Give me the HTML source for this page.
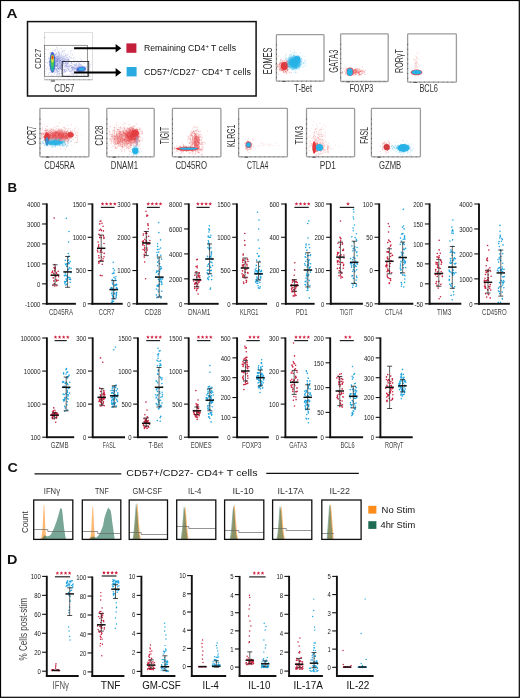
<!DOCTYPE html><html><head><meta charset="utf-8"><title>Figure</title><style>html,body{margin:0;padding:0;background:#fff;width:520px;height:698px;overflow:hidden;}svg{display:block;will-change:transform;font-family:"Liberation Sans",sans-serif;}</style></head><body><svg width="520" height="698" viewBox="0 0 520 698" font-family="Liberation Sans, sans-serif"><defs><filter id="b03" x="-50%" y="-50%" width="200%" height="200%"><feGaussianBlur stdDeviation="0.3"/></filter><filter id="b04" x="-50%" y="-50%" width="200%" height="200%"><feGaussianBlur stdDeviation="0.4"/></filter><filter id="b05" x="-50%" y="-50%" width="200%" height="200%"><feGaussianBlur stdDeviation="0.5"/></filter><filter id="b06" x="-50%" y="-50%" width="200%" height="200%"><feGaussianBlur stdDeviation="0.6"/></filter><filter id="b08" x="-50%" y="-50%" width="200%" height="200%"><feGaussianBlur stdDeviation="0.8"/></filter></defs><rect x="0.50" y="0.50" width="518.80" height="696.80" fill="none" stroke="#000" stroke-width="1.2" />
<text x="6.60" y="17.90" font-size="12.4" fill="#111" text-anchor="start" font-weight="bold" textLength="11.00" lengthAdjust="spacingAndGlyphs" >A</text>
<text x="7.50" y="191.70" font-size="12.0" fill="#111" text-anchor="start" font-weight="bold" textLength="9.60" lengthAdjust="spacingAndGlyphs" >B</text>
<text x="7.40" y="472.20" font-size="12.0" fill="#111" text-anchor="start" font-weight="bold" textLength="10.40" lengthAdjust="spacingAndGlyphs" >C</text>
<text x="7.00" y="563.60" font-size="12.8" fill="#111" text-anchor="start" font-weight="bold" textLength="10.40" lengthAdjust="spacingAndGlyphs" >D</text>
<path d="M54.6 270.5h0M54.5 275.5h0M56.0 279.3h0M55.2 267.3h0M54.4 275.2h0M51.1 275.2h0M52.9 285.4h0M56.5 281.2h0M55.3 268.9h0M56.6 273.5h0M58.2 280.3h0M56.4 272.6h0M51.8 272.8h0M53.8 280.7h0M55.8 276.4h0M53.2 277.9h0M58.6 276.7h0M58.2 271.3h0M57.8 274.7h0M54.9 271.1h0M56.9 285.7h0M52.5 271.0h0M53.9 267.8h0M54.9 285.9h0M56.7 280.6h0M55.0 268.6h0M52.5 271.9h0M54.2 283.6h0M53.8 273.4h0M53.8 280.9h0M54.2 218.0h0M54.6 264.5h0M54.8 286.0h0" stroke="#c8203f" stroke-width="1.60" stroke-linecap="round"/>
<path d="M65.3 260.3h0M70.2 282.3h0M64.6 281.6h0M68.8 277.3h0M64.4 275.8h0M66.7 281.2h0M67.0 266.1h0M65.6 281.6h0M67.8 270.1h0M67.8 260.5h0M66.3 278.9h0M69.2 263.5h0M65.1 275.0h0M65.5 264.1h0M66.7 284.2h0M66.8 280.6h0M65.3 272.9h0M70.2 261.6h0M69.9 277.7h0M65.1 282.6h0M66.7 266.5h0M65.8 264.7h0M67.2 276.1h0M66.1 279.3h0M67.6 277.8h0M70.9 272.5h0M66.8 263.9h0M68.5 259.9h0M68.2 263.7h0M69.4 267.8h0M64.9 283.6h0M69.3 279.3h0M70.6 279.4h0M68.2 256.8h0M66.0 275.3h0M68.7 262.5h0M69.0 263.2h0M68.8 269.1h0M65.0 275.6h0M71.1 268.6h0M71.0 268.3h0M67.1 276.5h0M68.1 257.5h0M66.3 218.3h0M69.0 231.5h0M68.6 242.0h0M68.3 253.5h0M69.0 256.0h0M65.8 285.0h0" stroke="#22a6e0" stroke-width="1.60" stroke-linecap="round"/>
<line x1="55.10" y1="264.80" x2="55.10" y2="284.80" stroke="#222" stroke-width="0.7" />
<line x1="52.60" y1="264.80" x2="57.60" y2="264.80" stroke="#222" stroke-width="0.8" />
<line x1="52.60" y1="284.80" x2="57.60" y2="284.80" stroke="#222" stroke-width="0.8" />
<line x1="50.85" y1="275.20" x2="59.35" y2="275.20" stroke="#111" stroke-width="1.5" />
<line x1="67.60" y1="256.50" x2="67.60" y2="287.30" stroke="#222" stroke-width="0.7" />
<line x1="65.10" y1="256.50" x2="70.10" y2="256.50" stroke="#222" stroke-width="0.8" />
<line x1="65.10" y1="287.30" x2="70.10" y2="287.30" stroke="#222" stroke-width="0.8" />
<line x1="63.35" y1="271.90" x2="71.85" y2="271.90" stroke="#111" stroke-width="1.5" />
<line x1="46.80" y1="203.40" x2="46.80" y2="304.70" stroke="#111" stroke-width="1.9" />
<line x1="45.90" y1="303.80" x2="75.90" y2="303.80" stroke="#111" stroke-width="1.9" />
<line x1="42.10" y1="204.00" x2="46.80" y2="204.00" stroke="#111" stroke-width="1.1" />
<text x="40.40" y="206.88" font-size="6.72" fill="#1a1a1a" text-anchor="end" textLength="13.34" lengthAdjust="spacingAndGlyphs" >4000</text>
<line x1="42.10" y1="223.96" x2="46.80" y2="223.96" stroke="#111" stroke-width="1.1" />
<text x="40.40" y="226.84" font-size="6.72" fill="#1a1a1a" text-anchor="end" textLength="13.34" lengthAdjust="spacingAndGlyphs" >3000</text>
<line x1="42.10" y1="243.92" x2="46.80" y2="243.92" stroke="#111" stroke-width="1.1" />
<text x="40.40" y="246.80" font-size="6.72" fill="#1a1a1a" text-anchor="end" textLength="13.34" lengthAdjust="spacingAndGlyphs" >2000</text>
<line x1="42.10" y1="263.88" x2="46.80" y2="263.88" stroke="#111" stroke-width="1.1" />
<text x="40.40" y="266.76" font-size="6.72" fill="#1a1a1a" text-anchor="end" textLength="13.34" lengthAdjust="spacingAndGlyphs" >1000</text>
<line x1="42.10" y1="283.84" x2="46.80" y2="283.84" stroke="#111" stroke-width="1.1" />
<text x="40.40" y="286.72" font-size="6.72" fill="#1a1a1a" text-anchor="end" textLength="3.34" lengthAdjust="spacingAndGlyphs" >0</text>
<line x1="42.10" y1="303.80" x2="46.80" y2="303.80" stroke="#111" stroke-width="1.1" />
<text x="40.40" y="306.68" font-size="6.72" fill="#1a1a1a" text-anchor="end" textLength="15.34" lengthAdjust="spacingAndGlyphs" >-1000</text>
<text x="48.90" y="315.40" font-size="8.4" fill="#444" text-anchor="start" textLength="24.20" lengthAdjust="spacingAndGlyphs" >CD45RA</text>
<path d="M100.2 235.7h0M98.9 234.2h0M99.7 237.6h0M104.0 237.6h0M100.5 250.8h0M98.6 247.1h0M100.1 260.8h0M103.5 235.9h0M98.6 246.6h0M102.8 260.9h0M98.8 255.7h0M103.4 230.9h0M101.4 257.0h0M98.1 242.0h0M104.2 253.4h0M100.2 252.3h0M102.3 264.3h0M101.4 249.8h0M99.8 223.9h0M99.4 230.3h0M99.0 257.9h0M98.7 244.9h0M98.9 263.3h0M97.9 251.9h0M103.9 238.4h0M99.0 262.5h0M101.2 237.7h0M100.1 221.3h0M100.4 275.4h0M102.0 223.2h0M104.0 256.7h0M101.0 260.6h0M97.4 250.2h0M103.1 226.2h0M98.7 261.6h0M100.7 229.3h0M101.4 230.6h0M104.0 243.5h0M103.1 258.7h0M102.0 252.2h0M100.9 221.0h0M102.1 275.8h0" stroke="#c8203f" stroke-width="1.60" stroke-linecap="round"/>
<path d="M113.2 297.0h0M115.1 284.8h0M112.1 292.2h0M117.0 288.4h0M113.8 272.3h0M112.5 301.2h0M113.2 289.8h0M116.1 296.3h0M115.3 278.9h0M113.6 301.3h0M112.7 284.2h0M112.7 288.6h0M115.9 276.8h0M110.8 288.1h0M116.6 287.5h0M116.4 287.9h0M111.8 293.6h0M112.5 290.1h0M114.1 298.5h0M115.8 285.3h0M116.2 280.5h0M117.6 289.4h0M112.3 295.3h0M112.2 300.9h0M113.6 297.0h0M113.9 273.5h0M114.8 293.0h0M112.0 302.9h0M114.8 290.2h0M116.5 284.9h0M116.7 292.4h0M116.7 285.0h0M116.4 295.4h0M117.4 289.5h0M111.7 302.3h0M116.5 294.1h0M112.3 283.0h0M112.5 295.1h0M113.5 298.1h0M116.7 284.4h0M114.4 285.7h0M113.3 268.6h0M113.0 297.8h0M116.3 284.3h0M114.6 270.3h0M112.4 273.5h0M111.8 287.6h0M112.9 296.5h0M111.5 288.8h0M114.1 293.9h0M112.3 279.6h0M114.0 277.4h0M116.2 297.7h0M116.1 294.1h0M110.5 289.3h0M112.3 301.3h0M113.2 280.9h0M114.7 285.8h0M113.1 298.9h0M111.7 289.7h0M113.3 262.3h0M112.4 303.0h0" stroke="#22a6e0" stroke-width="1.60" stroke-linecap="round"/>
<line x1="101.20" y1="235.00" x2="101.20" y2="261.30" stroke="#222" stroke-width="0.7" />
<line x1="98.70" y1="235.00" x2="103.70" y2="235.00" stroke="#222" stroke-width="0.8" />
<line x1="98.70" y1="261.30" x2="103.70" y2="261.30" stroke="#222" stroke-width="0.8" />
<line x1="96.95" y1="248.30" x2="105.45" y2="248.30" stroke="#111" stroke-width="1.5" />
<line x1="113.70" y1="280.60" x2="113.70" y2="298.80" stroke="#222" stroke-width="0.7" />
<line x1="111.20" y1="280.60" x2="116.20" y2="280.60" stroke="#222" stroke-width="0.8" />
<line x1="111.20" y1="298.80" x2="116.20" y2="298.80" stroke="#222" stroke-width="0.8" />
<line x1="109.45" y1="289.60" x2="117.95" y2="289.60" stroke="#111" stroke-width="1.5" />
<line x1="92.40" y1="203.40" x2="92.40" y2="304.70" stroke="#111" stroke-width="1.9" />
<line x1="91.50" y1="303.80" x2="122.70" y2="303.80" stroke="#111" stroke-width="1.9" />
<line x1="87.70" y1="204.00" x2="92.40" y2="204.00" stroke="#111" stroke-width="1.1" />
<text x="86.00" y="206.88" font-size="6.72" fill="#1a1a1a" text-anchor="end" textLength="13.34" lengthAdjust="spacingAndGlyphs" >1500</text>
<line x1="87.70" y1="237.27" x2="92.40" y2="237.27" stroke="#111" stroke-width="1.1" />
<text x="86.00" y="240.14" font-size="6.72" fill="#1a1a1a" text-anchor="end" textLength="13.34" lengthAdjust="spacingAndGlyphs" >1000</text>
<line x1="87.70" y1="270.53" x2="92.40" y2="270.53" stroke="#111" stroke-width="1.1" />
<text x="86.00" y="273.41" font-size="6.72" fill="#1a1a1a" text-anchor="end" textLength="10.01" lengthAdjust="spacingAndGlyphs" >500</text>
<line x1="87.70" y1="303.80" x2="92.40" y2="303.80" stroke="#111" stroke-width="1.1" />
<text x="86.00" y="306.68" font-size="6.72" fill="#1a1a1a" text-anchor="end" textLength="3.34" lengthAdjust="spacingAndGlyphs" >0</text>
<line x1="100.80" y1="207.40" x2="114.60" y2="207.40" stroke="#222" stroke-width="1.2" />
<polygon points="102.55,201.95 103.07,203.19 104.40,203.30 103.38,204.17 103.70,205.48 102.55,204.78 101.40,205.48 101.72,204.17 100.70,203.30 102.03,203.19" fill="#d0213f"/>
<polygon points="106.65,201.95 107.17,203.19 108.50,203.30 107.48,204.17 107.80,205.48 106.65,204.78 105.50,205.48 105.82,204.17 104.80,203.30 106.13,203.19" fill="#d0213f"/>
<polygon points="110.75,201.95 111.27,203.19 112.60,203.30 111.58,204.17 111.90,205.48 110.75,204.78 109.60,205.48 109.92,204.17 108.90,203.30 110.23,203.19" fill="#d0213f"/>
<polygon points="114.85,201.95 115.37,203.19 116.70,203.30 115.68,204.17 116.00,205.48 114.85,204.78 113.70,205.48 114.02,204.17 113.00,203.30 114.33,203.19" fill="#d0213f"/>
<text x="98.80" y="315.40" font-size="8.4" fill="#444" text-anchor="start" textLength="15.60" lengthAdjust="spacingAndGlyphs" >CCR7</text>
<path d="M147.0 248.1h0M145.2 252.3h0M143.3 234.1h0M149.9 240.5h0M147.6 215.4h0M146.6 242.0h0M147.2 243.9h0M146.8 215.3h0M149.6 243.9h0M146.1 240.6h0M146.8 233.5h0M144.5 250.6h0M144.9 255.1h0M146.5 237.1h0M144.3 245.8h0M143.3 235.1h0M145.5 233.5h0M148.2 244.0h0M144.8 249.3h0M148.7 236.2h0M146.9 216.3h0M147.3 250.1h0M147.9 223.8h0M143.0 244.5h0M143.7 242.8h0M148.4 228.7h0M148.1 225.4h0M144.2 257.1h0M148.5 242.8h0M143.1 249.5h0M144.2 254.2h0M143.2 242.4h0M144.8 239.3h0M145.7 231.6h0M148.0 224.7h0M145.8 242.2h0M143.5 240.9h0M144.7 247.9h0M142.5 241.5h0M142.7 244.9h0M145.9 252.5h0M146.4 232.3h0M145.6 278.7h0M146.0 211.3h0M144.7 262.0h0" stroke="#c8203f" stroke-width="1.60" stroke-linecap="round"/>
<path d="M156.9 271.4h0M160.8 255.2h0M155.8 276.9h0M158.8 252.1h0M159.7 263.7h0M157.8 258.3h0M162.0 283.1h0M160.6 269.0h0M157.4 254.8h0M156.7 271.0h0M156.8 297.8h0M159.6 295.3h0M157.0 285.9h0M159.5 284.2h0M161.4 268.4h0M160.5 239.9h0M157.4 249.6h0M158.1 290.0h0M158.6 284.9h0M158.5 291.7h0M158.6 273.9h0M159.0 249.2h0M161.2 278.8h0M158.1 258.8h0M158.1 270.9h0M158.4 274.5h0M157.7 246.4h0M160.2 278.2h0M158.9 232.6h0M162.4 279.1h0M161.0 296.7h0M157.5 262.2h0M157.5 265.8h0M161.3 282.1h0M159.6 281.6h0M156.4 294.9h0M160.2 279.8h0M158.5 286.5h0M161.3 281.2h0M160.9 266.7h0M161.8 291.2h0M160.5 266.7h0M161.6 259.1h0M157.7 286.3h0M158.3 297.2h0M156.3 289.0h0M161.8 284.5h0M157.4 255.6h0M159.6 271.9h0M159.3 263.7h0M160.6 248.0h0M158.3 279.3h0M156.5 272.4h0M158.5 261.3h0M157.0 252.5h0M157.8 285.4h0M160.1 269.8h0M157.5 243.7h0M163.1 277.5h0M159.5 280.3h0M158.6 222.5h0M161.0 298.0h0" stroke="#22a6e0" stroke-width="1.60" stroke-linecap="round"/>
<line x1="146.30" y1="231.50" x2="146.30" y2="255.60" stroke="#222" stroke-width="0.7" />
<line x1="143.80" y1="231.50" x2="148.80" y2="231.50" stroke="#222" stroke-width="0.8" />
<line x1="143.80" y1="255.60" x2="148.80" y2="255.60" stroke="#222" stroke-width="0.8" />
<line x1="142.05" y1="243.00" x2="150.55" y2="243.00" stroke="#111" stroke-width="1.5" />
<line x1="159.20" y1="257.00" x2="159.20" y2="297.00" stroke="#222" stroke-width="0.7" />
<line x1="156.70" y1="257.00" x2="161.70" y2="257.00" stroke="#222" stroke-width="0.8" />
<line x1="156.70" y1="297.00" x2="161.70" y2="297.00" stroke="#222" stroke-width="0.8" />
<line x1="154.95" y1="277.10" x2="163.45" y2="277.10" stroke="#111" stroke-width="1.5" />
<line x1="137.10" y1="203.40" x2="137.10" y2="304.70" stroke="#111" stroke-width="1.9" />
<line x1="136.20" y1="303.80" x2="167.50" y2="303.80" stroke="#111" stroke-width="1.9" />
<line x1="132.40" y1="204.00" x2="137.10" y2="204.00" stroke="#111" stroke-width="1.1" />
<text x="130.70" y="206.88" font-size="6.72" fill="#1a1a1a" text-anchor="end" textLength="13.34" lengthAdjust="spacingAndGlyphs" >3000</text>
<line x1="132.40" y1="237.27" x2="137.10" y2="237.27" stroke="#111" stroke-width="1.1" />
<text x="130.70" y="240.14" font-size="6.72" fill="#1a1a1a" text-anchor="end" textLength="13.34" lengthAdjust="spacingAndGlyphs" >2000</text>
<line x1="132.40" y1="270.53" x2="137.10" y2="270.53" stroke="#111" stroke-width="1.1" />
<text x="130.70" y="273.41" font-size="6.72" fill="#1a1a1a" text-anchor="end" textLength="13.34" lengthAdjust="spacingAndGlyphs" >1000</text>
<line x1="132.40" y1="303.80" x2="137.10" y2="303.80" stroke="#111" stroke-width="1.1" />
<text x="130.70" y="306.68" font-size="6.72" fill="#1a1a1a" text-anchor="end" textLength="3.34" lengthAdjust="spacingAndGlyphs" >0</text>
<line x1="146.90" y1="207.40" x2="159.80" y2="207.40" stroke="#222" stroke-width="1.2" />
<polygon points="148.20,201.95 148.72,203.19 150.05,203.30 149.03,204.17 149.35,205.48 148.20,204.78 147.05,205.48 147.37,204.17 146.35,203.30 147.68,203.19" fill="#d0213f"/>
<polygon points="152.30,201.95 152.82,203.19 154.15,203.30 153.13,204.17 153.45,205.48 152.30,204.78 151.15,205.48 151.47,204.17 150.45,203.30 151.78,203.19" fill="#d0213f"/>
<polygon points="156.40,201.95 156.92,203.19 158.25,203.30 157.23,204.17 157.55,205.48 156.40,204.78 155.25,205.48 155.57,204.17 154.55,203.30 155.88,203.19" fill="#d0213f"/>
<polygon points="160.50,201.95 161.02,203.19 162.35,203.30 161.33,204.17 161.65,205.48 160.50,204.78 159.35,205.48 159.67,204.17 158.65,203.30 159.98,203.19" fill="#d0213f"/>
<text x="144.60" y="315.40" font-size="8.4" fill="#444" text-anchor="start" textLength="16.50" lengthAdjust="spacingAndGlyphs" >CD28</text>
<path d="M198.4 276.7h0M199.1 273.8h0M196.8 277.1h0M199.7 281.0h0M195.6 282.6h0M195.1 275.1h0M195.8 272.1h0M198.0 288.2h0M199.7 277.6h0M196.8 271.7h0M198.2 275.2h0M194.6 283.8h0M196.9 288.9h0M196.7 259.7h0M196.6 290.6h0M194.9 284.5h0M197.7 284.1h0M197.9 286.3h0M197.9 280.9h0M198.8 280.6h0M196.7 286.4h0M199.3 276.0h0M197.2 267.7h0M199.8 280.6h0M196.3 283.3h0M198.2 275.1h0M194.9 275.3h0M193.8 281.0h0M199.8 275.8h0M195.9 280.3h0M194.7 288.5h0M197.3 266.0h0M199.3 272.7h0M198.8 282.6h0M200.7 280.3h0M199.8 275.7h0M196.6 283.1h0M195.1 283.4h0M194.5 286.8h0M196.1 266.5h0M197.3 259.4h0M198.1 294.0h0" stroke="#c8203f" stroke-width="1.60" stroke-linecap="round"/>
<path d="M207.4 270.4h0M208.3 274.8h0M210.6 270.8h0M207.7 278.7h0M209.4 237.3h0M208.3 240.7h0M209.9 256.5h0M207.9 278.7h0M211.5 253.2h0M212.5 265.6h0M208.7 242.0h0M208.7 270.1h0M210.1 273.5h0M211.3 254.8h0M207.1 272.8h0M210.9 256.4h0M210.9 235.3h0M211.4 270.4h0M209.3 276.7h0M212.0 262.8h0M210.0 257.3h0M208.3 236.1h0M207.9 258.4h0M210.3 261.8h0M210.0 257.6h0M212.0 259.4h0M210.9 247.9h0M207.9 247.5h0M209.0 270.1h0M211.5 251.9h0M209.3 249.8h0M207.5 256.2h0M211.6 279.6h0M209.4 230.2h0M208.2 264.5h0M209.7 266.2h0M208.9 232.0h0M208.2 248.0h0M210.7 267.4h0M210.5 288.1h0M209.1 245.8h0M208.0 277.9h0M209.5 229.8h0M208.9 263.8h0M209.3 243.7h0M208.2 243.6h0M211.7 258.2h0M207.6 266.2h0M205.9 259.3h0M210.5 237.2h0M211.4 262.2h0M208.2 273.7h0M208.2 237.0h0M210.2 256.8h0M211.8 275.9h0M208.5 279.6h0M209.9 258.3h0M208.9 228.9h0M211.3 252.7h0M209.4 248.2h0M209.3 225.8h0M210.1 289.2h0" stroke="#22a6e0" stroke-width="1.60" stroke-linecap="round"/>
<line x1="196.90" y1="272.90" x2="196.90" y2="286.90" stroke="#222" stroke-width="0.7" />
<line x1="194.40" y1="272.90" x2="199.40" y2="272.90" stroke="#222" stroke-width="0.8" />
<line x1="194.40" y1="286.90" x2="199.40" y2="286.90" stroke="#222" stroke-width="0.8" />
<line x1="192.65" y1="279.60" x2="201.15" y2="279.60" stroke="#111" stroke-width="1.5" />
<line x1="209.60" y1="244.00" x2="209.60" y2="273.80" stroke="#222" stroke-width="0.7" />
<line x1="207.10" y1="244.00" x2="212.10" y2="244.00" stroke="#222" stroke-width="0.8" />
<line x1="207.10" y1="273.80" x2="212.10" y2="273.80" stroke="#222" stroke-width="0.8" />
<line x1="205.35" y1="259.00" x2="213.85" y2="259.00" stroke="#111" stroke-width="1.5" />
<line x1="188.80" y1="203.40" x2="188.80" y2="304.70" stroke="#111" stroke-width="1.9" />
<line x1="187.90" y1="303.80" x2="218.70" y2="303.80" stroke="#111" stroke-width="1.9" />
<line x1="184.10" y1="204.00" x2="188.80" y2="204.00" stroke="#111" stroke-width="1.1" />
<text x="182.40" y="206.88" font-size="6.72" fill="#1a1a1a" text-anchor="end" textLength="13.34" lengthAdjust="spacingAndGlyphs" >8000</text>
<line x1="184.10" y1="228.95" x2="188.80" y2="228.95" stroke="#111" stroke-width="1.1" />
<text x="182.40" y="231.83" font-size="6.72" fill="#1a1a1a" text-anchor="end" textLength="13.34" lengthAdjust="spacingAndGlyphs" >6000</text>
<line x1="184.10" y1="253.90" x2="188.80" y2="253.90" stroke="#111" stroke-width="1.1" />
<text x="182.40" y="256.78" font-size="6.72" fill="#1a1a1a" text-anchor="end" textLength="13.34" lengthAdjust="spacingAndGlyphs" >4000</text>
<line x1="184.10" y1="278.85" x2="188.80" y2="278.85" stroke="#111" stroke-width="1.1" />
<text x="182.40" y="281.73" font-size="6.72" fill="#1a1a1a" text-anchor="end" textLength="13.34" lengthAdjust="spacingAndGlyphs" >2000</text>
<line x1="184.10" y1="303.80" x2="188.80" y2="303.80" stroke="#111" stroke-width="1.1" />
<text x="182.40" y="306.68" font-size="6.72" fill="#1a1a1a" text-anchor="end" textLength="3.34" lengthAdjust="spacingAndGlyphs" >0</text>
<line x1="196.50" y1="207.40" x2="209.60" y2="207.40" stroke="#222" stroke-width="1.2" />
<polygon points="197.90,201.95 198.42,203.19 199.75,203.30 198.73,204.17 199.05,205.48 197.90,204.78 196.75,205.48 197.07,204.17 196.05,203.30 197.38,203.19" fill="#d0213f"/>
<polygon points="202.00,201.95 202.52,203.19 203.85,203.30 202.83,204.17 203.15,205.48 202.00,204.78 200.85,205.48 201.17,204.17 200.15,203.30 201.48,203.19" fill="#d0213f"/>
<polygon points="206.10,201.95 206.62,203.19 207.95,203.30 206.93,204.17 207.25,205.48 206.10,204.78 204.95,205.48 205.27,204.17 204.25,203.30 205.58,203.19" fill="#d0213f"/>
<polygon points="210.20,201.95 210.72,203.19 212.05,203.30 211.03,204.17 211.35,205.48 210.20,204.78 209.05,205.48 209.37,204.17 208.35,203.30 209.68,203.19" fill="#d0213f"/>
<text x="188.00" y="315.40" font-size="8.4" fill="#444" text-anchor="start" textLength="22.30" lengthAdjust="spacingAndGlyphs" >DNAM1</text>
<path d="M244.4 276.1h0M243.3 254.0h0M245.0 269.5h0M248.0 273.3h0M243.2 267.0h0M247.3 268.6h0M243.5 282.0h0M247.2 259.1h0M245.1 272.0h0M242.8 276.9h0M247.1 266.0h0M247.7 272.5h0M242.9 276.4h0M242.7 260.5h0M243.2 265.7h0M245.1 278.1h0M247.6 259.4h0M246.7 281.1h0M243.7 264.6h0M242.0 273.7h0M245.6 263.0h0M245.5 272.2h0M243.4 274.8h0M245.7 261.8h0M248.0 261.4h0M242.2 267.4h0M243.9 260.2h0M247.0 277.4h0M242.9 275.5h0M242.3 265.1h0M242.6 270.9h0M246.2 282.5h0M242.9 259.2h0M243.1 255.1h0M246.0 269.5h0M246.9 264.4h0M246.2 280.4h0M244.8 245.1h0M247.8 273.1h0M242.7 262.3h0M244.8 233.5h0M244.6 240.5h0M245.1 245.0h0M243.8 283.5h0" stroke="#c8203f" stroke-width="1.60" stroke-linecap="round"/>
<path d="M257.9 281.4h0M255.4 273.8h0M259.0 256.5h0M260.6 271.6h0M257.6 278.5h0M255.7 282.3h0M259.0 255.8h0M259.6 261.3h0M260.2 286.7h0M260.1 271.8h0M259.2 269.9h0M257.7 283.3h0M257.0 280.9h0M256.7 260.1h0M261.0 274.1h0M258.9 269.9h0M257.1 278.3h0M256.1 268.3h0M257.0 277.9h0M259.2 248.2h0M256.3 274.3h0M255.9 281.4h0M257.7 278.6h0M257.3 272.3h0M259.7 266.5h0M258.9 270.4h0M258.4 287.9h0M262.3 274.1h0M260.8 278.1h0M256.1 279.8h0M256.7 270.9h0M258.1 285.8h0M257.3 253.6h0M259.9 282.4h0M260.4 277.2h0M257.0 277.1h0M261.5 271.2h0M258.7 256.6h0M257.0 283.3h0M259.5 274.4h0M259.6 279.6h0M260.2 274.8h0M262.2 273.5h0M261.4 270.2h0M257.8 272.1h0M258.0 271.0h0M254.9 272.0h0M257.9 272.3h0M256.2 270.9h0M256.3 265.4h0M260.8 276.8h0M255.2 269.7h0M257.5 212.3h0M259.0 220.0h0M258.7 229.0h0M258.3 240.0h0M259.7 288.3h0" stroke="#22a6e0" stroke-width="1.60" stroke-linecap="round"/>
<line x1="245.00" y1="258.00" x2="245.00" y2="277.70" stroke="#222" stroke-width="0.7" />
<line x1="242.50" y1="258.00" x2="247.50" y2="258.00" stroke="#222" stroke-width="0.8" />
<line x1="242.50" y1="277.70" x2="247.50" y2="277.70" stroke="#222" stroke-width="0.8" />
<line x1="240.75" y1="268.00" x2="249.25" y2="268.00" stroke="#111" stroke-width="1.5" />
<line x1="258.50" y1="262.00" x2="258.50" y2="280.00" stroke="#222" stroke-width="0.7" />
<line x1="256.00" y1="262.00" x2="261.00" y2="262.00" stroke="#222" stroke-width="0.8" />
<line x1="256.00" y1="280.00" x2="261.00" y2="280.00" stroke="#222" stroke-width="0.8" />
<line x1="254.25" y1="273.80" x2="262.75" y2="273.80" stroke="#111" stroke-width="1.5" />
<line x1="236.90" y1="203.40" x2="236.90" y2="304.70" stroke="#111" stroke-width="1.9" />
<line x1="236.00" y1="303.80" x2="267.10" y2="303.80" stroke="#111" stroke-width="1.9" />
<line x1="232.20" y1="204.00" x2="236.90" y2="204.00" stroke="#111" stroke-width="1.1" />
<text x="230.50" y="206.88" font-size="6.72" fill="#1a1a1a" text-anchor="end" textLength="13.34" lengthAdjust="spacingAndGlyphs" >1500</text>
<line x1="232.20" y1="237.27" x2="236.90" y2="237.27" stroke="#111" stroke-width="1.1" />
<text x="230.50" y="240.14" font-size="6.72" fill="#1a1a1a" text-anchor="end" textLength="13.34" lengthAdjust="spacingAndGlyphs" >1000</text>
<line x1="232.20" y1="270.53" x2="236.90" y2="270.53" stroke="#111" stroke-width="1.1" />
<text x="230.50" y="273.41" font-size="6.72" fill="#1a1a1a" text-anchor="end" textLength="10.01" lengthAdjust="spacingAndGlyphs" >500</text>
<line x1="232.20" y1="303.80" x2="236.90" y2="303.80" stroke="#111" stroke-width="1.1" />
<text x="230.50" y="306.68" font-size="6.72" fill="#1a1a1a" text-anchor="end" textLength="3.34" lengthAdjust="spacingAndGlyphs" >0</text>
<text x="240.00" y="315.40" font-size="8.4" fill="#444" text-anchor="start" textLength="18.50" lengthAdjust="spacingAndGlyphs" >KLRG1</text>
<path d="M296.0 281.2h0M295.5 281.6h0M294.7 279.7h0M297.2 285.6h0M292.5 287.8h0M295.6 286.5h0M296.6 286.5h0M296.5 286.3h0M291.6 284.6h0M293.3 281.1h0M296.0 295.4h0M295.9 291.5h0M292.4 280.1h0M294.3 280.1h0M296.4 282.0h0M297.2 285.6h0M294.5 292.7h0M292.2 291.3h0M292.9 291.6h0M291.9 291.7h0M292.7 291.8h0M291.7 289.7h0M295.8 288.0h0M295.9 284.7h0M294.2 275.3h0M297.3 284.7h0M293.2 295.9h0M292.4 282.3h0M295.1 281.8h0M294.6 291.3h0M291.5 285.9h0M297.2 282.6h0M294.9 294.4h0M295.1 289.0h0M293.6 289.8h0M295.1 282.1h0M291.5 288.3h0M293.0 287.6h0M294.8 262.7h0M294.7 270.0h0M294.5 296.0h0" stroke="#c8203f" stroke-width="1.60" stroke-linecap="round"/>
<path d="M309.2 267.5h0M304.6 263.8h0M308.2 261.9h0M307.2 279.0h0M305.8 257.3h0M310.3 255.5h0M306.9 273.5h0M306.4 275.6h0M309.2 259.9h0M309.6 247.7h0M306.0 278.0h0M305.7 285.1h0M310.6 254.9h0M307.5 255.7h0M308.2 275.2h0M307.7 288.5h0M310.4 272.1h0M307.4 259.5h0M309.0 244.6h0M308.0 285.0h0M305.5 254.1h0M307.9 290.3h0M309.9 285.7h0M308.1 264.6h0M307.1 267.0h0M305.1 284.6h0M309.2 280.4h0M307.2 282.9h0M307.0 250.0h0M306.9 274.8h0M307.3 271.7h0M307.1 290.5h0M306.8 250.3h0M307.6 276.4h0M305.8 247.4h0M306.1 281.1h0M307.4 265.2h0M310.6 263.7h0M307.5 287.1h0M308.3 265.4h0M311.0 270.3h0M310.2 267.1h0M309.5 268.2h0M308.7 263.2h0M308.5 255.5h0M305.8 261.3h0M305.2 265.3h0M305.1 281.7h0M306.1 245.1h0M308.7 274.9h0M308.6 260.4h0M305.1 256.8h0M308.8 221.0h0M307.7 223.5h0M308.0 238.0h0M306.1 244.0h0M309.3 297.9h0" stroke="#22a6e0" stroke-width="1.60" stroke-linecap="round"/>
<line x1="294.40" y1="279.60" x2="294.40" y2="291.20" stroke="#222" stroke-width="0.7" />
<line x1="291.90" y1="279.60" x2="296.90" y2="279.60" stroke="#222" stroke-width="0.8" />
<line x1="291.90" y1="291.20" x2="296.90" y2="291.20" stroke="#222" stroke-width="0.8" />
<line x1="290.15" y1="285.40" x2="298.65" y2="285.40" stroke="#111" stroke-width="1.5" />
<line x1="307.90" y1="252.70" x2="307.90" y2="287.00" stroke="#222" stroke-width="0.7" />
<line x1="305.40" y1="252.70" x2="310.40" y2="252.70" stroke="#222" stroke-width="0.8" />
<line x1="305.40" y1="287.00" x2="310.40" y2="287.00" stroke="#222" stroke-width="0.8" />
<line x1="303.65" y1="270.00" x2="312.15" y2="270.00" stroke="#111" stroke-width="1.5" />
<line x1="285.80" y1="203.40" x2="285.80" y2="304.70" stroke="#111" stroke-width="1.9" />
<line x1="284.90" y1="303.80" x2="314.60" y2="303.80" stroke="#111" stroke-width="1.9" />
<line x1="281.10" y1="204.00" x2="285.80" y2="204.00" stroke="#111" stroke-width="1.1" />
<text x="279.40" y="206.88" font-size="6.72" fill="#1a1a1a" text-anchor="end" textLength="10.01" lengthAdjust="spacingAndGlyphs" >600</text>
<line x1="281.10" y1="237.27" x2="285.80" y2="237.27" stroke="#111" stroke-width="1.1" />
<text x="279.40" y="240.14" font-size="6.72" fill="#1a1a1a" text-anchor="end" textLength="10.01" lengthAdjust="spacingAndGlyphs" >400</text>
<line x1="281.10" y1="270.53" x2="285.80" y2="270.53" stroke="#111" stroke-width="1.1" />
<text x="279.40" y="273.41" font-size="6.72" fill="#1a1a1a" text-anchor="end" textLength="10.01" lengthAdjust="spacingAndGlyphs" >200</text>
<line x1="281.10" y1="303.80" x2="285.80" y2="303.80" stroke="#111" stroke-width="1.1" />
<text x="279.40" y="306.68" font-size="6.72" fill="#1a1a1a" text-anchor="end" textLength="3.34" lengthAdjust="spacingAndGlyphs" >0</text>
<line x1="294.40" y1="207.40" x2="308.80" y2="207.40" stroke="#222" stroke-width="1.2" />
<polygon points="296.45,201.95 296.97,203.19 298.30,203.30 297.28,204.17 297.60,205.48 296.45,204.78 295.30,205.48 295.62,204.17 294.60,203.30 295.93,203.19" fill="#d0213f"/>
<polygon points="300.55,201.95 301.07,203.19 302.40,203.30 301.38,204.17 301.70,205.48 300.55,204.78 299.40,205.48 299.72,204.17 298.70,203.30 300.03,203.19" fill="#d0213f"/>
<polygon points="304.65,201.95 305.17,203.19 306.50,203.30 305.48,204.17 305.80,205.48 304.65,204.78 303.50,205.48 303.82,204.17 302.80,203.30 304.13,203.19" fill="#d0213f"/>
<polygon points="308.75,201.95 309.27,203.19 310.60,203.30 309.58,204.17 309.90,205.48 308.75,204.78 307.60,205.48 307.92,204.17 306.90,203.30 308.23,203.19" fill="#d0213f"/>
<text x="295.70" y="315.40" font-size="8.4" fill="#444" text-anchor="start" textLength="12.00" lengthAdjust="spacingAndGlyphs" >PD1</text>
<path d="M342.3 243.0h0M337.7 253.7h0M343.2 268.3h0M344.0 258.0h0M339.0 257.9h0M343.9 255.0h0M342.5 277.2h0M337.6 252.6h0M341.7 273.0h0M343.5 265.6h0M342.7 262.6h0M337.9 264.2h0M339.7 258.8h0M340.7 240.3h0M339.6 268.1h0M339.7 268.1h0M337.3 254.9h0M337.4 268.4h0M339.3 270.9h0M340.0 237.4h0M341.0 254.9h0M343.5 250.3h0M338.0 243.2h0M339.3 262.1h0M342.6 244.1h0M342.7 250.4h0M337.5 260.9h0M341.7 262.5h0M337.4 262.1h0M343.4 249.3h0M338.6 261.0h0M340.9 238.5h0M340.2 264.5h0M340.5 274.9h0M339.0 275.8h0M339.5 247.3h0M338.8 252.8h0M341.0 276.5h0M339.8 255.7h0M340.9 271.9h0M340.6 242.1h0M341.3 272.9h0M343.7 264.2h0M340.6 244.8h0M340.5 221.0h0M340.9 278.0h0" stroke="#c8203f" stroke-width="1.60" stroke-linecap="round"/>
<path d="M351.5 267.2h0M353.1 228.1h0M353.4 278.4h0M351.8 236.7h0M355.7 266.1h0M353.9 267.2h0M353.2 248.6h0M356.5 276.0h0M356.7 240.7h0M353.9 266.3h0M352.9 250.7h0M355.0 258.4h0M353.5 264.7h0M356.3 239.3h0M352.6 259.8h0M351.9 246.0h0M350.4 262.9h0M351.7 265.7h0M351.0 264.1h0M357.4 264.1h0M355.4 250.8h0M354.8 271.8h0M356.6 284.7h0M355.0 249.2h0M355.8 261.1h0M351.5 263.6h0M353.1 285.1h0M354.9 246.9h0M356.8 263.8h0M353.3 230.7h0M353.9 241.9h0M352.5 262.6h0M352.8 275.6h0M354.6 282.5h0M357.2 255.7h0M356.4 233.7h0M354.7 270.7h0M350.6 258.6h0M352.6 271.3h0M355.4 265.7h0M356.8 277.4h0M351.9 276.1h0M356.1 280.1h0M356.8 252.6h0M351.9 283.4h0M356.9 251.7h0M354.9 264.1h0M356.7 269.8h0M355.1 237.6h0M355.2 283.5h0M356.1 286.4h0M356.2 266.5h0M353.5 269.6h0M353.3 257.4h0M357.1 247.5h0M353.5 209.4h0M353.9 212.0h0M353.2 217.0h0M353.7 219.0h0M354.5 225.0h0M352.7 287.3h0" stroke="#22a6e0" stroke-width="1.60" stroke-linecap="round"/>
<line x1="340.40" y1="242.10" x2="340.40" y2="272.90" stroke="#222" stroke-width="0.7" />
<line x1="337.90" y1="242.10" x2="342.90" y2="242.10" stroke="#222" stroke-width="0.8" />
<line x1="337.90" y1="272.90" x2="342.90" y2="272.90" stroke="#222" stroke-width="0.8" />
<line x1="336.15" y1="257.10" x2="344.65" y2="257.10" stroke="#111" stroke-width="1.5" />
<line x1="354.20" y1="241.20" x2="354.20" y2="283.50" stroke="#222" stroke-width="0.7" />
<line x1="351.70" y1="241.20" x2="356.70" y2="241.20" stroke="#222" stroke-width="0.8" />
<line x1="351.70" y1="283.50" x2="356.70" y2="283.50" stroke="#222" stroke-width="0.8" />
<line x1="349.95" y1="262.30" x2="358.45" y2="262.30" stroke="#111" stroke-width="1.5" />
<line x1="330.80" y1="203.40" x2="330.80" y2="304.70" stroke="#111" stroke-width="1.9" />
<line x1="329.90" y1="303.80" x2="362.90" y2="303.80" stroke="#111" stroke-width="1.9" />
<line x1="326.10" y1="204.00" x2="330.80" y2="204.00" stroke="#111" stroke-width="1.1" />
<text x="324.40" y="206.88" font-size="6.72" fill="#1a1a1a" text-anchor="end" textLength="10.01" lengthAdjust="spacingAndGlyphs" >300</text>
<line x1="326.10" y1="237.27" x2="330.80" y2="237.27" stroke="#111" stroke-width="1.1" />
<text x="324.40" y="240.14" font-size="6.72" fill="#1a1a1a" text-anchor="end" textLength="10.01" lengthAdjust="spacingAndGlyphs" >200</text>
<line x1="326.10" y1="270.53" x2="330.80" y2="270.53" stroke="#111" stroke-width="1.1" />
<text x="324.40" y="273.41" font-size="6.72" fill="#1a1a1a" text-anchor="end" textLength="10.01" lengthAdjust="spacingAndGlyphs" >100</text>
<line x1="326.10" y1="303.80" x2="330.80" y2="303.80" stroke="#111" stroke-width="1.1" />
<text x="324.40" y="306.68" font-size="6.72" fill="#1a1a1a" text-anchor="end" textLength="3.34" lengthAdjust="spacingAndGlyphs" >0</text>
<line x1="339.80" y1="207.40" x2="354.20" y2="207.40" stroke="#222" stroke-width="1.2" />
<polygon points="348.00,201.95 348.52,203.19 349.85,203.30 348.83,204.17 349.15,205.48 348.00,204.78 346.85,205.48 347.17,204.17 346.15,203.30 347.48,203.19" fill="#d0213f"/>
<text x="339.70" y="315.40" font-size="8.4" fill="#444" text-anchor="start" textLength="13.40" lengthAdjust="spacingAndGlyphs" >TIGIT</text>
<path d="M390.6 280.4h0M391.0 245.0h0M390.6 278.7h0M390.6 253.5h0M390.3 263.5h0M386.0 266.4h0M389.4 282.7h0M390.4 246.1h0M387.9 259.1h0M388.2 277.9h0M388.7 259.0h0M389.7 266.3h0M385.9 265.6h0M391.0 253.2h0M391.0 260.5h0M387.6 269.1h0M387.8 270.4h0M387.1 265.6h0M388.9 270.6h0M392.5 255.4h0M389.0 240.7h0M391.8 272.7h0M386.9 262.8h0M387.5 257.1h0M389.4 270.8h0M386.8 264.6h0M387.0 251.9h0M390.6 256.5h0M388.4 252.4h0M390.2 241.7h0M387.7 269.2h0M388.2 251.6h0M392.1 255.3h0M389.8 278.5h0M386.8 267.0h0M389.0 247.9h0M387.7 242.6h0M387.3 276.7h0M389.8 272.0h0M387.1 271.6h0M387.3 257.9h0M387.2 275.1h0M388.3 223.8h0M389.3 226.5h0M388.5 232.0h0M388.7 240.0h0M389.2 283.5h0" stroke="#c8203f" stroke-width="1.60" stroke-linecap="round"/>
<path d="M404.5 236.5h0M401.3 252.3h0M403.2 253.1h0M405.7 248.2h0M401.0 269.5h0M400.5 268.0h0M405.6 267.5h0M405.4 262.5h0M400.5 238.1h0M403.3 259.4h0M403.5 243.2h0M404.2 249.5h0M403.4 267.8h0M403.0 233.6h0M403.2 239.3h0M403.5 249.2h0M400.2 268.3h0M400.5 265.9h0M401.1 261.9h0M404.1 228.9h0M402.5 274.9h0M403.3 243.2h0M404.6 282.4h0M401.4 286.2h0M400.9 270.2h0M401.5 272.7h0M404.7 238.1h0M404.3 260.9h0M400.7 272.9h0M400.2 244.3h0M400.1 256.5h0M404.8 239.2h0M402.1 253.8h0M405.6 257.7h0M405.3 261.4h0M404.8 279.0h0M403.0 264.9h0M401.0 261.3h0M402.8 258.1h0M405.3 248.6h0M405.0 275.8h0M402.4 227.3h0M402.6 244.0h0M404.8 263.8h0M401.9 255.0h0M401.6 234.1h0M401.5 241.0h0M402.5 255.3h0M401.7 284.3h0M404.1 275.0h0M403.9 262.5h0M404.6 235.7h0M404.2 244.5h0M402.5 233.9h0M400.5 264.1h0M401.1 269.7h0M404.5 237.5h0M403.7 259.2h0M401.2 282.6h0M402.7 260.1h0M403.4 209.4h0M403.6 226.0h0M403.8 287.0h0" stroke="#22a6e0" stroke-width="1.60" stroke-linecap="round"/>
<line x1="389.40" y1="248.80" x2="389.40" y2="273.80" stroke="#222" stroke-width="0.7" />
<line x1="386.90" y1="248.80" x2="391.90" y2="248.80" stroke="#222" stroke-width="0.8" />
<line x1="386.90" y1="273.80" x2="391.90" y2="273.80" stroke="#222" stroke-width="0.8" />
<line x1="385.15" y1="261.30" x2="393.65" y2="261.30" stroke="#111" stroke-width="1.5" />
<line x1="402.70" y1="242.10" x2="402.70" y2="272.90" stroke="#222" stroke-width="0.7" />
<line x1="400.20" y1="242.10" x2="405.20" y2="242.10" stroke="#222" stroke-width="0.8" />
<line x1="400.20" y1="272.90" x2="405.20" y2="272.90" stroke="#222" stroke-width="0.8" />
<line x1="398.45" y1="257.50" x2="406.95" y2="257.50" stroke="#111" stroke-width="1.5" />
<line x1="379.20" y1="203.40" x2="379.20" y2="304.70" stroke="#111" stroke-width="1.9" />
<line x1="378.30" y1="303.80" x2="413.30" y2="303.80" stroke="#111" stroke-width="1.9" />
<line x1="374.50" y1="204.00" x2="379.20" y2="204.00" stroke="#111" stroke-width="1.1" />
<text x="372.80" y="206.88" font-size="6.72" fill="#1a1a1a" text-anchor="end" textLength="10.01" lengthAdjust="spacingAndGlyphs" >100</text>
<line x1="374.50" y1="237.27" x2="379.20" y2="237.27" stroke="#111" stroke-width="1.1" />
<text x="372.80" y="240.14" font-size="6.72" fill="#1a1a1a" text-anchor="end" textLength="6.67" lengthAdjust="spacingAndGlyphs" >50</text>
<line x1="374.50" y1="270.53" x2="379.20" y2="270.53" stroke="#111" stroke-width="1.1" />
<text x="372.80" y="273.41" font-size="6.72" fill="#1a1a1a" text-anchor="end" textLength="3.34" lengthAdjust="spacingAndGlyphs" >0</text>
<line x1="374.50" y1="303.80" x2="379.20" y2="303.80" stroke="#111" stroke-width="1.1" />
<text x="372.80" y="306.68" font-size="6.72" fill="#1a1a1a" text-anchor="end" textLength="8.67" lengthAdjust="spacingAndGlyphs" >-50</text>
<text x="384.90" y="315.40" font-size="8.4" fill="#444" text-anchor="start" textLength="17.40" lengthAdjust="spacingAndGlyphs" >CTLA4</text>
<path d="M437.7 273.0h0M437.0 285.4h0M437.6 266.1h0M437.2 276.4h0M442.4 276.1h0M441.2 264.2h0M437.5 262.8h0M440.7 260.4h0M436.0 283.4h0M439.1 257.6h0M440.3 253.2h0M437.0 264.0h0M436.6 281.6h0M441.1 271.7h0M440.0 274.4h0M442.3 276.6h0M437.3 253.5h0M437.1 257.0h0M436.0 264.0h0M437.4 274.3h0M436.1 262.4h0M439.2 249.9h0M435.6 274.6h0M438.6 258.1h0M438.9 267.8h0M435.7 271.0h0M440.2 268.5h0M441.7 262.6h0M438.2 288.1h0M438.9 281.4h0M438.0 265.1h0M442.6 273.2h0M440.9 284.4h0M442.3 276.4h0M437.9 271.5h0M437.5 267.6h0M435.0 274.1h0M435.7 269.6h0M440.5 296.8h0M439.2 255.7h0M438.5 257.4h0M437.1 256.7h0M441.3 261.2h0M436.1 262.3h0M439.2 240.2h0M439.1 298.8h0" stroke="#c8203f" stroke-width="1.60" stroke-linecap="round"/>
<path d="M451.2 286.2h0M450.6 285.2h0M449.3 279.4h0M451.1 295.4h0M450.5 260.9h0M454.0 258.6h0M452.4 252.8h0M454.3 273.9h0M450.7 272.0h0M450.3 258.8h0M452.9 270.1h0M450.9 250.0h0M453.6 291.7h0M451.8 233.0h0M450.6 263.3h0M454.2 263.7h0M449.8 267.1h0M453.9 272.8h0M451.9 227.1h0M449.1 270.1h0M453.3 270.1h0M453.1 260.6h0M449.5 276.3h0M452.0 262.6h0M452.1 255.3h0M453.1 231.0h0M450.4 252.2h0M452.6 239.9h0M455.9 272.6h0M449.2 280.5h0M453.9 273.2h0M451.2 263.2h0M452.2 267.4h0M450.8 258.5h0M452.0 273.0h0M452.3 273.9h0M454.7 286.7h0M454.7 252.9h0M455.6 263.8h0M455.8 263.4h0M451.7 283.6h0M453.6 294.7h0M455.3 264.0h0M449.4 271.4h0M453.2 233.4h0M452.6 229.9h0M450.0 262.9h0M453.0 246.4h0M453.6 260.1h0M453.3 252.3h0M449.9 241.0h0M455.3 258.7h0M451.4 251.5h0M454.4 257.8h0M449.5 267.2h0M453.1 272.5h0M449.7 284.2h0M452.7 275.3h0M453.1 287.9h0M451.9 231.0h0M452.9 220.0h0M452.2 299.8h0" stroke="#22a6e0" stroke-width="1.60" stroke-linecap="round"/>
<line x1="438.80" y1="259.40" x2="438.80" y2="286.30" stroke="#222" stroke-width="0.7" />
<line x1="436.30" y1="259.40" x2="441.30" y2="259.40" stroke="#222" stroke-width="0.8" />
<line x1="436.30" y1="286.30" x2="441.30" y2="286.30" stroke="#222" stroke-width="0.8" />
<line x1="434.55" y1="273.50" x2="443.05" y2="273.50" stroke="#111" stroke-width="1.5" />
<line x1="452.30" y1="246.50" x2="452.30" y2="288.30" stroke="#222" stroke-width="0.7" />
<line x1="449.80" y1="246.50" x2="454.80" y2="246.50" stroke="#222" stroke-width="0.8" />
<line x1="449.80" y1="288.30" x2="454.80" y2="288.30" stroke="#222" stroke-width="0.8" />
<line x1="448.05" y1="267.10" x2="456.55" y2="267.10" stroke="#111" stroke-width="1.5" />
<line x1="429.60" y1="203.40" x2="429.60" y2="304.70" stroke="#111" stroke-width="1.9" />
<line x1="428.70" y1="303.80" x2="461.30" y2="303.80" stroke="#111" stroke-width="1.9" />
<line x1="424.90" y1="204.00" x2="429.60" y2="204.00" stroke="#111" stroke-width="1.1" />
<text x="423.20" y="206.88" font-size="6.72" fill="#1a1a1a" text-anchor="end" textLength="10.01" lengthAdjust="spacingAndGlyphs" >200</text>
<line x1="424.90" y1="223.96" x2="429.60" y2="223.96" stroke="#111" stroke-width="1.1" />
<text x="423.20" y="226.84" font-size="6.72" fill="#1a1a1a" text-anchor="end" textLength="10.01" lengthAdjust="spacingAndGlyphs" >150</text>
<line x1="424.90" y1="243.92" x2="429.60" y2="243.92" stroke="#111" stroke-width="1.1" />
<text x="423.20" y="246.80" font-size="6.72" fill="#1a1a1a" text-anchor="end" textLength="10.01" lengthAdjust="spacingAndGlyphs" >100</text>
<line x1="424.90" y1="263.88" x2="429.60" y2="263.88" stroke="#111" stroke-width="1.1" />
<text x="423.20" y="266.76" font-size="6.72" fill="#1a1a1a" text-anchor="end" textLength="6.67" lengthAdjust="spacingAndGlyphs" >50</text>
<line x1="424.90" y1="283.84" x2="429.60" y2="283.84" stroke="#111" stroke-width="1.1" />
<text x="423.20" y="286.72" font-size="6.72" fill="#1a1a1a" text-anchor="end" textLength="3.34" lengthAdjust="spacingAndGlyphs" >0</text>
<line x1="424.90" y1="303.80" x2="429.60" y2="303.80" stroke="#111" stroke-width="1.1" />
<text x="423.20" y="306.68" font-size="6.72" fill="#1a1a1a" text-anchor="end" textLength="8.67" lengthAdjust="spacingAndGlyphs" >-50</text>
<text x="436.90" y="315.40" font-size="8.4" fill="#444" text-anchor="start" textLength="14.20" lengthAdjust="spacingAndGlyphs" >TIM3</text>
<path d="M488.5 280.6h0M488.0 277.6h0M487.4 279.9h0M489.7 288.3h0M485.1 288.1h0M488.7 294.8h0M485.6 293.7h0M486.7 297.1h0M484.7 286.2h0M488.1 279.2h0M490.8 290.1h0M485.8 280.8h0M485.3 286.9h0M488.2 274.8h0M484.4 280.4h0M487.2 271.6h0M487.7 289.9h0M485.0 278.2h0M489.9 267.7h0M487.1 280.2h0M488.5 271.2h0M485.0 284.0h0M490.6 271.1h0M485.9 288.1h0M487.8 270.6h0M485.4 274.5h0M486.9 260.2h0M487.0 258.8h0M487.6 260.8h0M486.2 265.8h0M487.8 290.1h0M488.3 269.2h0M486.2 272.6h0M489.9 286.3h0M485.7 270.8h0M488.5 277.9h0M490.3 284.5h0M488.8 286.7h0M484.5 286.3h0M484.9 285.9h0M484.4 282.1h0M486.9 259.8h0M488.1 294.1h0M491.1 276.3h0M487.6 245.5h0M488.8 250.0h0M487.4 258.0h0M490.2 297.9h0" stroke="#c8203f" stroke-width="1.60" stroke-linecap="round"/>
<path d="M503.0 244.9h0M498.7 262.1h0M502.5 269.0h0M500.8 269.8h0M500.9 256.5h0M503.1 283.2h0M499.7 254.0h0M499.6 282.5h0M501.8 238.5h0M498.1 268.3h0M498.4 291.0h0M500.3 249.7h0M500.4 236.5h0M499.3 268.0h0M499.8 237.9h0M503.5 280.6h0M500.2 259.2h0M499.7 293.6h0M502.7 285.1h0M502.8 253.6h0M502.2 282.1h0M503.8 287.8h0M499.1 241.6h0M500.5 302.3h0M502.4 299.1h0M504.4 276.5h0M498.4 271.2h0M502.7 271.6h0M499.3 246.5h0M500.1 283.1h0M502.3 292.1h0M502.7 263.3h0M498.7 243.6h0M499.2 257.9h0M504.1 281.6h0M501.2 286.5h0M501.4 274.2h0M500.0 231.2h0M500.4 270.3h0M499.3 287.0h0M498.5 288.2h0M499.4 258.0h0M501.2 280.6h0M501.0 269.8h0M500.9 250.8h0M500.2 235.4h0M500.4 256.2h0M503.6 277.0h0M504.0 269.4h0M503.6 282.6h0M499.2 291.6h0M501.4 241.2h0M502.2 298.6h0M499.5 267.6h0M500.6 260.6h0M502.4 239.5h0M502.3 268.9h0M502.5 276.7h0M498.0 259.7h0M497.4 270.2h0M502.2 267.0h0M501.4 270.9h0M499.9 225.4h0M498.4 302.4h0" stroke="#22a6e0" stroke-width="1.60" stroke-linecap="round"/>
<line x1="488.00" y1="270.20" x2="488.00" y2="293.00" stroke="#222" stroke-width="0.7" />
<line x1="485.50" y1="270.20" x2="490.50" y2="270.20" stroke="#222" stroke-width="0.8" />
<line x1="485.50" y1="293.00" x2="490.50" y2="293.00" stroke="#222" stroke-width="0.8" />
<line x1="483.75" y1="282.30" x2="492.25" y2="282.30" stroke="#111" stroke-width="1.5" />
<line x1="500.80" y1="250.10" x2="500.80" y2="296.10" stroke="#222" stroke-width="0.7" />
<line x1="498.30" y1="250.10" x2="503.30" y2="250.10" stroke="#222" stroke-width="0.8" />
<line x1="498.30" y1="296.10" x2="503.30" y2="296.10" stroke="#222" stroke-width="0.8" />
<line x1="496.55" y1="272.90" x2="505.05" y2="272.90" stroke="#111" stroke-width="1.5" />
<line x1="479.00" y1="203.40" x2="479.00" y2="304.70" stroke="#111" stroke-width="1.9" />
<line x1="478.10" y1="303.80" x2="509.80" y2="303.80" stroke="#111" stroke-width="1.9" />
<line x1="474.30" y1="204.00" x2="479.00" y2="204.00" stroke="#111" stroke-width="1.1" />
<text x="472.60" y="206.88" font-size="6.72" fill="#1a1a1a" text-anchor="end" textLength="13.34" lengthAdjust="spacingAndGlyphs" >4000</text>
<line x1="474.30" y1="228.95" x2="479.00" y2="228.95" stroke="#111" stroke-width="1.1" />
<text x="472.60" y="231.83" font-size="6.72" fill="#1a1a1a" text-anchor="end" textLength="13.34" lengthAdjust="spacingAndGlyphs" >3000</text>
<line x1="474.30" y1="253.90" x2="479.00" y2="253.90" stroke="#111" stroke-width="1.1" />
<text x="472.60" y="256.78" font-size="6.72" fill="#1a1a1a" text-anchor="end" textLength="13.34" lengthAdjust="spacingAndGlyphs" >2000</text>
<line x1="474.30" y1="278.85" x2="479.00" y2="278.85" stroke="#111" stroke-width="1.1" />
<text x="472.60" y="281.73" font-size="6.72" fill="#1a1a1a" text-anchor="end" textLength="13.34" lengthAdjust="spacingAndGlyphs" >1000</text>
<line x1="474.30" y1="303.80" x2="479.00" y2="303.80" stroke="#111" stroke-width="1.1" />
<text x="472.60" y="306.68" font-size="6.72" fill="#1a1a1a" text-anchor="end" textLength="3.34" lengthAdjust="spacingAndGlyphs" >0</text>
<text x="482.00" y="315.40" font-size="8.4" fill="#444" text-anchor="start" textLength="24.60" lengthAdjust="spacingAndGlyphs" >CD45RO</text>
<path d="M52.9 413.9h0M56.9 416.8h0M52.6 411.7h0M54.1 418.9h0M52.7 411.8h0M53.4 416.3h0M53.4 412.6h0M56.3 413.6h0M56.4 417.9h0M53.7 412.3h0M53.4 414.5h0M57.8 414.0h0M53.0 411.8h0M54.4 415.3h0M54.9 410.2h0M55.7 414.0h0M53.3 410.8h0M53.1 415.2h0M52.2 413.9h0M56.1 417.5h0M56.3 415.8h0M56.8 414.1h0M54.1 415.8h0M52.3 418.6h0M57.1 413.4h0M51.6 414.8h0M52.4 415.4h0M50.9 415.2h0M53.9 413.9h0M55.6 412.3h0M57.9 414.8h0M54.9 413.0h0M52.6 411.8h0M57.0 413.4h0M52.2 417.4h0M52.6 416.4h0M53.8 407.9h0M55.7 422.3h0" stroke="#c8203f" stroke-width="1.60" stroke-linecap="round"/>
<path d="M63.1 394.0h0M64.7 406.4h0M66.4 382.3h0M65.9 369.5h0M67.8 376.5h0M64.9 398.0h0M67.0 394.6h0M65.2 383.3h0M65.0 411.0h0M67.5 410.0h0M64.9 399.1h0M66.3 388.1h0M64.6 397.9h0M67.0 404.7h0M63.6 386.5h0M63.6 372.8h0M66.9 372.4h0M66.2 369.4h0M67.3 383.6h0M63.7 400.9h0M67.8 372.0h0M63.4 399.7h0M69.5 393.1h0M69.0 375.7h0M68.3 394.9h0M65.3 408.0h0M67.3 391.3h0M69.8 382.3h0M67.6 398.6h0M67.4 392.4h0M62.8 382.4h0M62.9 381.6h0M67.1 378.3h0M66.0 393.5h0M66.1 374.0h0M64.1 394.6h0M64.7 386.4h0M69.3 387.2h0M65.2 383.4h0M69.1 375.1h0M63.8 382.1h0M66.4 368.9h0M67.2 390.4h0M67.7 387.7h0M68.1 399.1h0M67.9 396.3h0M68.7 388.4h0M63.6 373.8h0M63.7 374.1h0M64.0 400.0h0M64.4 400.6h0M67.9 384.8h0M66.4 397.2h0M67.4 401.8h0M66.8 376.9h0M66.5 368.5h0M64.8 411.2h0" stroke="#22a6e0" stroke-width="1.60" stroke-linecap="round"/>
<line x1="54.60" y1="412.70" x2="54.60" y2="418.00" stroke="#222" stroke-width="0.7" />
<line x1="52.10" y1="412.70" x2="57.10" y2="412.70" stroke="#222" stroke-width="0.8" />
<line x1="52.10" y1="418.00" x2="57.10" y2="418.00" stroke="#222" stroke-width="0.8" />
<line x1="50.35" y1="415.20" x2="58.85" y2="415.20" stroke="#111" stroke-width="1.5" />
<line x1="66.20" y1="377.10" x2="66.20" y2="410.80" stroke="#222" stroke-width="0.7" />
<line x1="63.70" y1="377.10" x2="68.70" y2="377.10" stroke="#222" stroke-width="0.8" />
<line x1="63.70" y1="410.80" x2="68.70" y2="410.80" stroke="#222" stroke-width="0.8" />
<line x1="61.95" y1="387.30" x2="70.45" y2="387.30" stroke="#111" stroke-width="1.5" />
<line x1="46.90" y1="337.40" x2="46.90" y2="438.10" stroke="#111" stroke-width="1.9" />
<line x1="46.00" y1="437.20" x2="74.20" y2="437.20" stroke="#111" stroke-width="1.9" />
<line x1="42.20" y1="338.00" x2="46.90" y2="338.00" stroke="#111" stroke-width="1.1" />
<text x="40.50" y="340.88" font-size="6.72" fill="#1a1a1a" text-anchor="end" textLength="20.02" lengthAdjust="spacingAndGlyphs" >100000</text>
<line x1="42.20" y1="371.07" x2="46.90" y2="371.07" stroke="#111" stroke-width="1.1" />
<text x="40.50" y="373.94" font-size="6.72" fill="#1a1a1a" text-anchor="end" textLength="16.68" lengthAdjust="spacingAndGlyphs" >10000</text>
<line x1="42.20" y1="404.13" x2="46.90" y2="404.13" stroke="#111" stroke-width="1.1" />
<text x="40.50" y="407.01" font-size="6.72" fill="#1a1a1a" text-anchor="end" textLength="13.34" lengthAdjust="spacingAndGlyphs" >1000</text>
<line x1="42.20" y1="437.20" x2="46.90" y2="437.20" stroke="#111" stroke-width="1.1" />
<text x="40.50" y="440.08" font-size="6.72" fill="#1a1a1a" text-anchor="end" textLength="10.01" lengthAdjust="spacingAndGlyphs" >100</text>
<line x1="54.60" y1="340.60" x2="66.70" y2="340.60" stroke="#222" stroke-width="1.2" />
<polygon points="55.50,335.15 56.02,336.39 57.35,336.50 56.33,337.37 56.65,338.68 55.50,337.98 54.35,338.68 54.67,337.37 53.65,336.50 54.98,336.39" fill="#d0213f"/>
<polygon points="59.60,335.15 60.12,336.39 61.45,336.50 60.43,337.37 60.75,338.68 59.60,337.98 58.45,338.68 58.77,337.37 57.75,336.50 59.08,336.39" fill="#d0213f"/>
<polygon points="63.70,335.15 64.22,336.39 65.55,336.50 64.53,337.37 64.85,338.68 63.70,337.98 62.55,338.68 62.87,337.37 61.85,336.50 63.18,336.39" fill="#d0213f"/>
<polygon points="67.80,335.15 68.32,336.39 69.65,336.50 68.63,337.37 68.95,338.68 67.80,337.98 66.65,338.68 66.97,337.37 65.95,336.50 67.28,336.39" fill="#d0213f"/>
<text x="50.80" y="447.50" font-size="8.4" fill="#444" text-anchor="start" textLength="17.70" lengthAdjust="spacingAndGlyphs" >GZMB</text>
<path d="M104.2 392.9h0M102.1 400.4h0M99.0 401.4h0M104.3 394.0h0M100.0 399.0h0M102.2 400.0h0M103.0 394.8h0M103.6 398.6h0M103.2 393.6h0M103.9 392.9h0M103.4 403.1h0M99.4 399.7h0M102.0 388.6h0M101.7 405.8h0M98.8 397.8h0M101.2 398.9h0M103.8 396.3h0M101.3 399.5h0M101.0 402.6h0M101.5 402.7h0M102.1 404.1h0M103.5 401.8h0M104.2 393.9h0M100.0 397.3h0M100.0 400.6h0M100.6 391.5h0M103.9 391.2h0M104.8 398.1h0M100.7 401.9h0M104.3 397.8h0M102.0 404.1h0M104.2 405.7h0M102.1 405.6h0M104.9 397.6h0M102.1 398.3h0M100.6 395.9h0M103.8 390.5h0M100.4 397.0h0M103.8 399.5h0M101.9 403.7h0M100.4 394.8h0M101.5 399.5h0M104.7 394.9h0M100.2 399.2h0M100.5 357.9h0M102.8 362.3h0M99.7 388.0h0M100.3 406.0h0" stroke="#c8203f" stroke-width="1.60" stroke-linecap="round"/>
<path d="M117.8 394.6h0M111.2 397.8h0M114.5 386.3h0M117.8 392.9h0M112.9 399.5h0M112.9 387.6h0M115.5 385.5h0M114.0 390.7h0M112.8 386.8h0M114.7 390.0h0M116.6 399.2h0M115.2 387.5h0M112.1 396.1h0M115.3 403.1h0M117.6 395.1h0M112.0 392.6h0M115.4 395.1h0M114.2 395.7h0M115.5 395.6h0M111.8 402.1h0M112.3 399.6h0M113.4 406.8h0M116.1 405.7h0M113.3 393.4h0M113.3 406.2h0M115.7 387.6h0M111.7 400.5h0M112.9 392.7h0M114.6 391.8h0M113.0 396.5h0M115.0 396.3h0M115.0 397.4h0M111.6 393.1h0M111.8 402.0h0M116.5 396.0h0M113.6 400.3h0M111.9 402.3h0M111.6 403.3h0M113.6 399.5h0M116.1 406.4h0M112.5 404.6h0M117.5 401.5h0M111.0 390.5h0M114.9 398.8h0M115.5 402.9h0M114.4 404.4h0M112.4 397.2h0M113.1 403.6h0M114.6 394.6h0M117.2 397.0h0M113.7 403.2h0M113.0 398.0h0M113.6 402.2h0M117.4 388.9h0M112.6 390.4h0M112.2 388.2h0M116.9 400.2h0M111.9 404.2h0M116.5 390.8h0M115.2 396.3h0M115.5 347.0h0M113.7 349.8h0M116.1 385.0h0M112.0 407.0h0" stroke="#22a6e0" stroke-width="1.60" stroke-linecap="round"/>
<line x1="101.70" y1="388.70" x2="101.70" y2="405.00" stroke="#222" stroke-width="0.7" />
<line x1="99.20" y1="388.70" x2="104.20" y2="388.70" stroke="#222" stroke-width="0.8" />
<line x1="99.20" y1="405.00" x2="104.20" y2="405.00" stroke="#222" stroke-width="0.8" />
<line x1="97.45" y1="397.30" x2="105.95" y2="397.30" stroke="#111" stroke-width="1.5" />
<line x1="114.20" y1="385.80" x2="114.20" y2="407.00" stroke="#222" stroke-width="0.7" />
<line x1="111.70" y1="385.80" x2="116.70" y2="385.80" stroke="#222" stroke-width="0.8" />
<line x1="111.70" y1="407.00" x2="116.70" y2="407.00" stroke="#222" stroke-width="0.8" />
<line x1="109.95" y1="395.80" x2="118.45" y2="395.80" stroke="#111" stroke-width="1.5" />
<line x1="92.70" y1="337.40" x2="92.70" y2="438.10" stroke="#111" stroke-width="1.9" />
<line x1="91.80" y1="437.20" x2="125.00" y2="437.20" stroke="#111" stroke-width="1.9" />
<line x1="88.00" y1="338.00" x2="92.70" y2="338.00" stroke="#111" stroke-width="1.1" />
<text x="86.30" y="340.88" font-size="6.72" fill="#1a1a1a" text-anchor="end" textLength="10.01" lengthAdjust="spacingAndGlyphs" >300</text>
<line x1="88.00" y1="371.07" x2="92.70" y2="371.07" stroke="#111" stroke-width="1.1" />
<text x="86.30" y="373.94" font-size="6.72" fill="#1a1a1a" text-anchor="end" textLength="10.01" lengthAdjust="spacingAndGlyphs" >200</text>
<line x1="88.00" y1="404.13" x2="92.70" y2="404.13" stroke="#111" stroke-width="1.1" />
<text x="86.30" y="407.01" font-size="6.72" fill="#1a1a1a" text-anchor="end" textLength="10.01" lengthAdjust="spacingAndGlyphs" >100</text>
<line x1="88.00" y1="437.20" x2="92.70" y2="437.20" stroke="#111" stroke-width="1.1" />
<text x="86.30" y="440.08" font-size="6.72" fill="#1a1a1a" text-anchor="end" textLength="3.34" lengthAdjust="spacingAndGlyphs" >0</text>
<text x="102.80" y="447.50" font-size="8.4" fill="#444" text-anchor="start" textLength="12.90" lengthAdjust="spacingAndGlyphs" >FASL</text>
<path d="M146.5 420.6h0M144.7 427.7h0M144.9 422.5h0M148.2 420.6h0M148.7 427.3h0M145.2 420.0h0M147.2 416.8h0M146.5 422.4h0M147.1 428.4h0M145.3 421.4h0M145.1 422.6h0M144.2 421.6h0M146.2 426.2h0M144.0 418.6h0M148.9 422.5h0M144.2 422.8h0M147.1 421.1h0M146.2 418.8h0M145.3 426.9h0M149.5 424.3h0M148.3 426.5h0M147.9 422.2h0M143.7 425.8h0M145.9 422.0h0M147.4 423.3h0M143.4 425.0h0M147.7 423.0h0M147.6 417.6h0M149.5 424.3h0M146.2 419.1h0M144.9 414.8h0M143.9 423.6h0M148.1 426.3h0M144.4 427.7h0M146.8 428.1h0M147.3 422.1h0M146.0 402.1h0M147.0 410.0h0M144.4 428.5h0" stroke="#c8203f" stroke-width="1.60" stroke-linecap="round"/>
<path d="M158.5 401.8h0M158.0 358.3h0M160.7 416.4h0M156.8 381.3h0M159.6 407.9h0M159.9 376.7h0M159.6 366.0h0M158.2 370.9h0M157.0 388.3h0M155.5 394.7h0M157.3 405.1h0M160.8 405.4h0M158.1 356.0h0M159.3 388.2h0M157.5 391.4h0M157.3 420.5h0M158.5 370.1h0M162.0 403.0h0M158.5 408.9h0M157.9 374.4h0M159.2 351.1h0M158.2 370.4h0M158.0 354.5h0M158.6 353.7h0M161.8 379.7h0M156.3 389.8h0M156.5 397.3h0M160.4 406.1h0M157.8 354.5h0M156.8 404.3h0M157.2 395.6h0M161.9 383.5h0M161.5 406.0h0M162.2 392.3h0M157.6 382.8h0M161.1 365.0h0M157.0 360.3h0M158.9 402.3h0M159.3 406.5h0M158.7 402.3h0M162.3 396.4h0M160.1 417.7h0M158.9 404.1h0M160.6 378.0h0M160.7 400.2h0M156.2 380.9h0M157.8 394.9h0M157.9 399.1h0M162.0 377.9h0M160.6 360.6h0M158.1 361.3h0M162.5 394.5h0M156.1 397.7h0M157.9 399.7h0M157.4 365.7h0M159.1 400.5h0M162.2 387.0h0M160.5 365.5h0M156.2 403.5h0M157.0 388.7h0M160.9 397.2h0M157.6 373.8h0M160.1 350.8h0M159.9 393.6h0M159.9 361.2h0M160.1 363.9h0M159.6 391.9h0M158.0 348.3h0M160.2 421.3h0" stroke="#22a6e0" stroke-width="1.60" stroke-linecap="round"/>
<line x1="146.20" y1="418.00" x2="146.20" y2="426.00" stroke="#222" stroke-width="0.7" />
<line x1="143.70" y1="418.00" x2="148.70" y2="418.00" stroke="#222" stroke-width="0.8" />
<line x1="143.70" y1="426.00" x2="148.70" y2="426.00" stroke="#222" stroke-width="0.8" />
<line x1="141.95" y1="423.30" x2="150.45" y2="423.30" stroke="#111" stroke-width="1.5" />
<line x1="159.00" y1="367.50" x2="159.00" y2="407.00" stroke="#222" stroke-width="0.7" />
<line x1="156.50" y1="367.50" x2="161.50" y2="367.50" stroke="#222" stroke-width="0.8" />
<line x1="156.50" y1="407.00" x2="161.50" y2="407.00" stroke="#222" stroke-width="0.8" />
<line x1="154.75" y1="387.30" x2="163.25" y2="387.30" stroke="#111" stroke-width="1.5" />
<line x1="137.90" y1="337.40" x2="137.90" y2="438.10" stroke="#111" stroke-width="1.9" />
<line x1="137.00" y1="437.20" x2="167.70" y2="437.20" stroke="#111" stroke-width="1.9" />
<line x1="133.20" y1="338.00" x2="137.90" y2="338.00" stroke="#111" stroke-width="1.1" />
<text x="131.50" y="340.88" font-size="6.72" fill="#1a1a1a" text-anchor="end" textLength="13.34" lengthAdjust="spacingAndGlyphs" >1500</text>
<line x1="133.20" y1="371.07" x2="137.90" y2="371.07" stroke="#111" stroke-width="1.1" />
<text x="131.50" y="373.94" font-size="6.72" fill="#1a1a1a" text-anchor="end" textLength="13.34" lengthAdjust="spacingAndGlyphs" >1000</text>
<line x1="133.20" y1="404.13" x2="137.90" y2="404.13" stroke="#111" stroke-width="1.1" />
<text x="131.50" y="407.01" font-size="6.72" fill="#1a1a1a" text-anchor="end" textLength="10.01" lengthAdjust="spacingAndGlyphs" >500</text>
<line x1="133.20" y1="437.20" x2="137.90" y2="437.20" stroke="#111" stroke-width="1.1" />
<text x="131.50" y="440.08" font-size="6.72" fill="#1a1a1a" text-anchor="end" textLength="3.34" lengthAdjust="spacingAndGlyphs" >0</text>
<line x1="146.20" y1="340.60" x2="160.00" y2="340.60" stroke="#222" stroke-width="1.2" />
<polygon points="147.95,335.15 148.47,336.39 149.80,336.50 148.78,337.37 149.10,338.68 147.95,337.98 146.80,338.68 147.12,337.37 146.10,336.50 147.43,336.39" fill="#d0213f"/>
<polygon points="152.05,335.15 152.57,336.39 153.90,336.50 152.88,337.37 153.20,338.68 152.05,337.98 150.90,338.68 151.22,337.37 150.20,336.50 151.53,336.39" fill="#d0213f"/>
<polygon points="156.15,335.15 156.67,336.39 158.00,336.50 156.98,337.37 157.30,338.68 156.15,337.98 155.00,338.68 155.32,337.37 154.30,336.50 155.63,336.39" fill="#d0213f"/>
<polygon points="160.25,335.15 160.77,336.39 162.10,336.50 161.08,337.37 161.40,338.68 160.25,337.98 159.10,338.68 159.42,337.37 158.40,336.50 159.73,336.39" fill="#d0213f"/>
<text x="148.50" y="447.50" font-size="8.4" fill="#444" text-anchor="start" textLength="14.30" lengthAdjust="spacingAndGlyphs" >T-Bet</text>
<path d="M196.1 417.2h0M193.7 412.6h0M196.5 416.0h0M196.9 411.9h0M199.2 415.8h0M197.3 408.1h0M197.3 406.6h0M196.7 406.0h0M194.1 414.2h0M196.2 403.9h0M197.5 404.6h0M197.9 406.0h0M200.1 412.3h0M196.8 413.0h0M198.1 408.3h0M198.6 414.4h0M198.7 412.6h0M195.2 416.0h0M199.0 415.0h0M198.6 408.8h0M198.1 412.2h0M194.1 410.8h0M199.8 413.2h0M198.2 412.2h0M194.6 411.5h0M197.4 414.1h0M194.3 411.6h0M194.3 414.2h0M198.5 411.5h0M198.8 410.8h0M197.0 414.9h0M195.1 415.0h0M196.1 416.1h0M194.5 413.8h0M194.7 410.6h0M193.8 412.1h0M198.1 412.0h0M198.0 404.8h0M197.0 407.2h0M197.5 417.2h0M195.9 390.6h0M198.0 400.0h0M197.2 419.4h0" stroke="#c8203f" stroke-width="1.60" stroke-linecap="round"/>
<path d="M211.8 401.3h0M209.5 388.5h0M211.8 412.2h0M207.2 398.8h0M211.4 395.9h0M211.7 402.9h0M206.8 395.0h0M212.6 401.9h0M211.1 414.1h0M209.5 400.0h0M209.8 406.0h0M210.2 388.0h0M209.7 389.8h0M206.5 397.7h0M209.3 404.0h0M212.2 406.8h0M210.0 391.0h0M208.2 393.1h0M211.7 415.2h0M209.4 390.2h0M207.3 400.5h0M210.4 409.7h0M207.8 408.8h0M210.6 392.5h0M211.1 403.3h0M208.3 386.9h0M208.9 414.3h0M210.3 412.7h0M208.1 391.8h0M211.7 390.9h0M211.0 413.5h0M207.7 393.6h0M210.5 397.6h0M210.3 396.4h0M209.3 417.0h0M211.0 399.3h0M209.3 396.1h0M209.4 403.0h0M209.1 405.7h0M210.2 412.7h0M206.1 397.9h0M210.6 401.8h0M207.7 389.6h0M208.5 413.8h0M211.7 391.4h0M208.6 416.9h0M210.7 401.8h0M208.6 413.9h0M213.2 395.1h0M212.8 392.2h0M208.6 395.6h0M211.8 414.5h0M211.9 387.4h0M207.4 400.1h0M209.1 409.4h0M207.7 405.9h0M207.8 398.0h0M210.0 396.6h0M209.8 418.5h0M209.6 386.3h0M208.0 408.9h0M209.9 372.2h0M213.3 399.6h0M208.8 396.8h0M211.2 398.1h0M208.1 407.7h0M211.4 393.3h0M210.0 365.6h0M211.1 421.9h0" stroke="#22a6e0" stroke-width="1.60" stroke-linecap="round"/>
<line x1="196.90" y1="407.00" x2="196.90" y2="414.60" stroke="#222" stroke-width="0.7" />
<line x1="194.40" y1="407.00" x2="199.40" y2="407.00" stroke="#222" stroke-width="0.8" />
<line x1="194.40" y1="414.60" x2="199.40" y2="414.60" stroke="#222" stroke-width="0.8" />
<line x1="192.65" y1="410.80" x2="201.15" y2="410.80" stroke="#111" stroke-width="1.5" />
<line x1="209.80" y1="388.70" x2="209.80" y2="410.80" stroke="#222" stroke-width="0.7" />
<line x1="207.30" y1="388.70" x2="212.30" y2="388.70" stroke="#222" stroke-width="0.8" />
<line x1="207.30" y1="410.80" x2="212.30" y2="410.80" stroke="#222" stroke-width="0.8" />
<line x1="205.55" y1="400.20" x2="214.05" y2="400.20" stroke="#111" stroke-width="1.5" />
<line x1="188.70" y1="337.40" x2="188.70" y2="438.10" stroke="#111" stroke-width="1.9" />
<line x1="187.80" y1="437.20" x2="218.50" y2="437.20" stroke="#111" stroke-width="1.9" />
<line x1="184.00" y1="338.00" x2="188.70" y2="338.00" stroke="#111" stroke-width="1.1" />
<text x="182.30" y="340.88" font-size="6.72" fill="#1a1a1a" text-anchor="end" textLength="13.34" lengthAdjust="spacingAndGlyphs" >1500</text>
<line x1="184.00" y1="371.07" x2="188.70" y2="371.07" stroke="#111" stroke-width="1.1" />
<text x="182.30" y="373.94" font-size="6.72" fill="#1a1a1a" text-anchor="end" textLength="13.34" lengthAdjust="spacingAndGlyphs" >1000</text>
<line x1="184.00" y1="404.13" x2="188.70" y2="404.13" stroke="#111" stroke-width="1.1" />
<text x="182.30" y="407.01" font-size="6.72" fill="#1a1a1a" text-anchor="end" textLength="10.01" lengthAdjust="spacingAndGlyphs" >500</text>
<line x1="184.00" y1="437.20" x2="188.70" y2="437.20" stroke="#111" stroke-width="1.1" />
<text x="182.30" y="440.08" font-size="6.72" fill="#1a1a1a" text-anchor="end" textLength="3.34" lengthAdjust="spacingAndGlyphs" >0</text>
<line x1="196.90" y1="340.60" x2="210.40" y2="340.60" stroke="#222" stroke-width="1.2" />
<polygon points="198.50,335.15 199.02,336.39 200.35,336.50 199.33,337.37 199.65,338.68 198.50,337.98 197.35,338.68 197.67,337.37 196.65,336.50 197.98,336.39" fill="#d0213f"/>
<polygon points="202.60,335.15 203.12,336.39 204.45,336.50 203.43,337.37 203.75,338.68 202.60,337.98 201.45,338.68 201.77,337.37 200.75,336.50 202.08,336.39" fill="#d0213f"/>
<polygon points="206.70,335.15 207.22,336.39 208.55,336.50 207.53,337.37 207.85,338.68 206.70,337.98 205.55,338.68 205.87,337.37 204.85,336.50 206.18,336.39" fill="#d0213f"/>
<polygon points="210.80,335.15 211.32,336.39 212.65,336.50 211.63,337.37 211.95,338.68 210.80,337.98 209.65,338.68 209.97,337.37 208.95,336.50 210.28,336.39" fill="#d0213f"/>
<text x="190.80" y="447.50" font-size="8.4" fill="#444" text-anchor="start" textLength="20.70" lengthAdjust="spacingAndGlyphs" >EOMES</text>
<path d="M247.2 373.3h0M243.5 364.7h0M246.3 351.8h0M246.2 359.4h0M242.9 378.1h0M247.2 368.1h0M243.2 378.4h0M246.1 357.2h0M242.7 377.4h0M245.8 381.1h0M245.2 348.0h0M245.6 374.1h0M246.9 363.0h0M246.7 381.1h0M241.8 371.2h0M243.4 379.6h0M248.8 366.8h0M245.0 362.9h0M247.6 366.4h0M245.8 367.1h0M247.2 364.8h0M242.9 361.8h0M245.4 382.2h0M247.0 364.9h0M245.0 358.4h0M246.6 361.2h0M247.7 375.9h0M246.3 347.9h0M243.4 376.0h0M247.9 378.2h0M245.8 384.0h0M243.2 366.3h0M247.1 362.4h0M243.5 372.7h0M244.1 372.3h0M245.0 384.4h0M245.4 371.5h0M243.1 366.5h0M247.0 357.2h0M247.8 368.8h0M243.9 371.7h0M247.8 383.1h0M242.0 372.0h0M243.6 384.8h0M246.7 383.7h0M243.8 363.0h0M243.9 359.2h0M242.3 364.4h0M244.9 346.3h0M243.9 389.6h0" stroke="#c8203f" stroke-width="1.60" stroke-linecap="round"/>
<path d="M260.7 375.8h0M261.1 385.4h0M256.8 376.4h0M261.6 362.9h0M261.4 383.3h0M257.3 377.7h0M261.5 374.6h0M262.7 387.9h0M258.8 372.7h0M263.2 382.8h0M263.9 378.8h0M261.6 363.5h0M260.3 379.2h0M260.0 380.4h0M259.7 386.4h0M262.4 374.4h0M258.2 372.7h0M260.5 388.7h0M260.7 374.3h0M263.6 379.9h0M263.6 377.3h0M260.3 380.7h0M260.9 367.0h0M261.8 373.4h0M260.7 377.2h0M258.7 378.5h0M258.6 386.3h0M260.8 381.7h0M260.0 382.2h0M258.6 377.2h0M259.6 387.6h0M257.4 372.9h0M260.8 376.9h0M258.6 365.9h0M258.3 369.4h0M262.0 384.4h0M257.3 377.3h0M261.1 363.0h0M260.3 377.3h0M258.5 375.8h0M260.8 368.7h0M260.6 380.3h0M263.4 375.5h0M264.1 377.7h0M260.2 385.1h0M259.5 372.8h0M260.9 386.1h0M257.6 375.5h0M260.6 375.6h0M258.5 387.8h0M258.8 380.6h0M262.2 374.4h0M262.5 376.7h0M260.2 379.3h0M262.4 366.2h0M258.2 382.9h0M258.9 377.6h0M260.8 367.4h0M260.1 370.2h0M261.3 384.5h0M258.4 367.7h0M261.6 369.2h0M257.9 379.2h0M258.6 377.0h0M258.3 373.5h0M261.9 381.4h0M256.9 379.1h0M261.7 359.8h0M260.0 392.5h0" stroke="#22a6e0" stroke-width="1.60" stroke-linecap="round"/>
<line x1="245.40" y1="360.40" x2="245.40" y2="381.00" stroke="#222" stroke-width="0.7" />
<line x1="242.90" y1="360.40" x2="247.90" y2="360.40" stroke="#222" stroke-width="0.8" />
<line x1="242.90" y1="381.00" x2="247.90" y2="381.00" stroke="#222" stroke-width="0.8" />
<line x1="241.15" y1="371.00" x2="249.65" y2="371.00" stroke="#111" stroke-width="1.5" />
<line x1="260.40" y1="370.00" x2="260.40" y2="385.80" stroke="#222" stroke-width="0.7" />
<line x1="257.90" y1="370.00" x2="262.90" y2="370.00" stroke="#222" stroke-width="0.8" />
<line x1="257.90" y1="385.80" x2="262.90" y2="385.80" stroke="#222" stroke-width="0.8" />
<line x1="256.15" y1="377.70" x2="264.65" y2="377.70" stroke="#111" stroke-width="1.5" />
<line x1="237.10" y1="337.40" x2="237.10" y2="438.10" stroke="#111" stroke-width="1.9" />
<line x1="236.20" y1="437.20" x2="268.80" y2="437.20" stroke="#111" stroke-width="1.9" />
<line x1="232.40" y1="338.00" x2="237.10" y2="338.00" stroke="#111" stroke-width="1.1" />
<text x="230.70" y="340.88" font-size="6.72" fill="#1a1a1a" text-anchor="end" textLength="10.01" lengthAdjust="spacingAndGlyphs" >500</text>
<line x1="232.40" y1="357.84" x2="237.10" y2="357.84" stroke="#111" stroke-width="1.1" />
<text x="230.70" y="360.72" font-size="6.72" fill="#1a1a1a" text-anchor="end" textLength="10.01" lengthAdjust="spacingAndGlyphs" >400</text>
<line x1="232.40" y1="377.68" x2="237.10" y2="377.68" stroke="#111" stroke-width="1.1" />
<text x="230.70" y="380.56" font-size="6.72" fill="#1a1a1a" text-anchor="end" textLength="10.01" lengthAdjust="spacingAndGlyphs" >300</text>
<line x1="232.40" y1="397.52" x2="237.10" y2="397.52" stroke="#111" stroke-width="1.1" />
<text x="230.70" y="400.40" font-size="6.72" fill="#1a1a1a" text-anchor="end" textLength="10.01" lengthAdjust="spacingAndGlyphs" >200</text>
<line x1="232.40" y1="417.36" x2="237.10" y2="417.36" stroke="#111" stroke-width="1.1" />
<text x="230.70" y="420.24" font-size="6.72" fill="#1a1a1a" text-anchor="end" textLength="10.01" lengthAdjust="spacingAndGlyphs" >100</text>
<line x1="232.40" y1="437.20" x2="237.10" y2="437.20" stroke="#111" stroke-width="1.1" />
<text x="230.70" y="440.08" font-size="6.72" fill="#1a1a1a" text-anchor="end" textLength="3.34" lengthAdjust="spacingAndGlyphs" >0</text>
<line x1="246.30" y1="340.60" x2="259.80" y2="340.60" stroke="#222" stroke-width="1.2" />
<polygon points="249.95,335.15 250.47,336.39 251.80,336.50 250.78,337.37 251.10,338.68 249.95,337.98 248.80,338.68 249.12,337.37 248.10,336.50 249.43,336.39" fill="#d0213f"/>
<polygon points="254.05,335.15 254.57,336.39 255.90,336.50 254.88,337.37 255.20,338.68 254.05,337.98 252.90,338.68 253.22,337.37 252.20,336.50 253.53,336.39" fill="#d0213f"/>
<polygon points="258.15,335.15 258.67,336.39 260.00,336.50 258.98,337.37 259.30,338.68 258.15,337.98 257.00,338.68 257.32,337.37 256.30,336.50 257.63,336.39" fill="#d0213f"/>
<text x="242.00" y="447.50" font-size="8.4" fill="#444" text-anchor="start" textLength="19.20" lengthAdjust="spacingAndGlyphs" >FOXP3</text>
<path d="M295.6 378.1h0M293.2 373.5h0M295.4 368.8h0M294.5 363.5h0M296.7 382.0h0M295.8 391.7h0M296.1 391.9h0M292.8 391.4h0M291.1 385.2h0M291.2 373.1h0M293.1 388.3h0M293.5 380.2h0M293.3 361.7h0M292.2 371.8h0M293.9 363.0h0M293.4 400.2h0M290.6 380.7h0M295.9 397.0h0M294.4 384.2h0M291.8 379.3h0M292.9 381.6h0M294.8 385.7h0M291.4 386.9h0M294.3 380.0h0M295.8 376.3h0M291.9 387.2h0M294.2 363.8h0M296.9 388.1h0M295.6 376.5h0M293.9 396.5h0M292.1 365.1h0M297.1 387.9h0M296.9 370.6h0M296.2 377.5h0M292.2 384.7h0M294.6 369.5h0M295.6 365.3h0M294.4 384.6h0M297.7 380.0h0M294.5 355.9h0M292.0 365.6h0M292.9 389.5h0M297.1 372.2h0M297.1 391.4h0M296.1 399.6h0M292.8 366.9h0M293.5 343.0h0M294.5 406.0h0" stroke="#c8203f" stroke-width="1.60" stroke-linecap="round"/>
<path d="M308.4 418.7h0M307.0 396.4h0M308.4 378.2h0M308.4 412.9h0M304.8 394.5h0M309.1 401.8h0M306.2 402.4h0M307.3 409.3h0M307.8 409.9h0M307.3 373.4h0M306.1 390.4h0M305.2 400.4h0M308.7 396.3h0M309.1 385.0h0M306.6 419.0h0M308.3 388.5h0M305.7 409.7h0M308.8 400.0h0M306.2 400.9h0M306.7 391.9h0M308.7 386.0h0M307.5 384.5h0M307.4 408.4h0M306.8 414.6h0M310.0 394.5h0M306.4 390.9h0M308.8 393.0h0M304.6 402.3h0M309.8 383.6h0M311.2 395.3h0M305.6 403.7h0M307.2 396.8h0M305.5 408.7h0M307.3 380.9h0M310.0 388.9h0M308.3 387.2h0M305.5 407.1h0M309.9 381.1h0M308.1 400.4h0M305.0 405.8h0M306.8 405.1h0M305.0 395.2h0M310.4 393.1h0M307.0 404.5h0M307.7 395.9h0M310.1 393.1h0M308.0 378.0h0M306.4 371.5h0M304.6 394.2h0M305.4 393.0h0M308.8 404.8h0M308.3 411.9h0M306.7 400.9h0M306.4 402.2h0M304.7 401.5h0M306.1 418.3h0M308.6 405.5h0M309.8 401.0h0M307.7 397.1h0M308.8 406.7h0M307.4 383.3h0M304.7 391.2h0M306.3 370.8h0M308.5 422.7h0" stroke="#22a6e0" stroke-width="1.60" stroke-linecap="round"/>
<line x1="294.20" y1="370.40" x2="294.20" y2="394.40" stroke="#222" stroke-width="0.7" />
<line x1="291.70" y1="370.40" x2="296.70" y2="370.40" stroke="#222" stroke-width="0.8" />
<line x1="291.70" y1="394.40" x2="296.70" y2="394.40" stroke="#222" stroke-width="0.8" />
<line x1="289.95" y1="382.30" x2="298.45" y2="382.30" stroke="#111" stroke-width="1.5" />
<line x1="307.70" y1="384.80" x2="307.70" y2="409.20" stroke="#222" stroke-width="0.7" />
<line x1="305.20" y1="384.80" x2="310.20" y2="384.80" stroke="#222" stroke-width="0.8" />
<line x1="305.20" y1="409.20" x2="310.20" y2="409.20" stroke="#222" stroke-width="0.8" />
<line x1="303.45" y1="397.30" x2="311.95" y2="397.30" stroke="#111" stroke-width="1.5" />
<line x1="285.40" y1="337.40" x2="285.40" y2="438.10" stroke="#111" stroke-width="1.9" />
<line x1="284.50" y1="437.20" x2="317.30" y2="437.20" stroke="#111" stroke-width="1.9" />
<line x1="280.70" y1="338.00" x2="285.40" y2="338.00" stroke="#111" stroke-width="1.1" />
<text x="279.00" y="340.88" font-size="6.72" fill="#1a1a1a" text-anchor="end" textLength="10.01" lengthAdjust="spacingAndGlyphs" >300</text>
<line x1="280.70" y1="371.07" x2="285.40" y2="371.07" stroke="#111" stroke-width="1.1" />
<text x="279.00" y="373.94" font-size="6.72" fill="#1a1a1a" text-anchor="end" textLength="10.01" lengthAdjust="spacingAndGlyphs" >200</text>
<line x1="280.70" y1="404.13" x2="285.40" y2="404.13" stroke="#111" stroke-width="1.1" />
<text x="279.00" y="407.01" font-size="6.72" fill="#1a1a1a" text-anchor="end" textLength="10.01" lengthAdjust="spacingAndGlyphs" >100</text>
<line x1="280.70" y1="437.20" x2="285.40" y2="437.20" stroke="#111" stroke-width="1.1" />
<text x="279.00" y="440.08" font-size="6.72" fill="#1a1a1a" text-anchor="end" textLength="3.34" lengthAdjust="spacingAndGlyphs" >0</text>
<line x1="294.20" y1="340.60" x2="308.10" y2="340.60" stroke="#222" stroke-width="1.2" />
<polygon points="296.00,335.15 296.52,336.39 297.85,336.50 296.83,337.37 297.15,338.68 296.00,337.98 294.85,338.68 295.17,337.37 294.15,336.50 295.48,336.39" fill="#d0213f"/>
<polygon points="300.10,335.15 300.62,336.39 301.95,336.50 300.93,337.37 301.25,338.68 300.10,337.98 298.95,338.68 299.27,337.37 298.25,336.50 299.58,336.39" fill="#d0213f"/>
<polygon points="304.20,335.15 304.72,336.39 306.05,336.50 305.03,337.37 305.35,338.68 304.20,337.98 303.05,338.68 303.37,337.37 302.35,336.50 303.68,336.39" fill="#d0213f"/>
<polygon points="308.30,335.15 308.82,336.39 310.15,336.50 309.13,337.37 309.45,338.68 308.30,337.98 307.15,338.68 307.47,337.37 306.45,336.50 307.78,336.39" fill="#d0213f"/>
<text x="289.20" y="447.50" font-size="8.4" fill="#444" text-anchor="start" textLength="17.70" lengthAdjust="spacingAndGlyphs" >GATA3</text>
<path d="M338.1 376.0h0M342.0 406.9h0M339.1 377.9h0M340.2 403.1h0M340.3 400.5h0M341.3 378.6h0M339.7 386.3h0M339.0 394.2h0M341.4 392.9h0M338.7 382.1h0M337.0 397.5h0M343.3 397.0h0M342.8 396.7h0M339.5 379.5h0M341.5 393.9h0M342.2 388.9h0M339.0 382.1h0M337.6 398.0h0M337.4 396.3h0M342.3 383.4h0M343.0 382.3h0M339.5 382.1h0M342.9 382.1h0M339.7 374.2h0M339.4 392.1h0M338.3 398.9h0M340.3 394.5h0M339.1 379.8h0M342.1 401.0h0M343.2 393.2h0M341.2 381.4h0M339.4 377.6h0M338.9 384.6h0M342.5 404.7h0M340.8 404.2h0M340.7 384.8h0M336.9 377.9h0M342.7 379.4h0M338.5 391.3h0M339.8 406.6h0M337.4 395.3h0M342.6 379.5h0M342.4 384.1h0M339.1 383.9h0M341.3 373.8h0M342.4 407.0h0" stroke="#c8203f" stroke-width="1.60" stroke-linecap="round"/>
<path d="M351.1 393.8h0M350.2 389.6h0M352.4 379.1h0M355.7 395.6h0M353.7 391.3h0M355.1 389.9h0M350.3 393.7h0M354.6 383.7h0M356.6 391.1h0M350.4 404.3h0M352.1 376.3h0M356.0 398.3h0M352.4 396.5h0M352.2 404.8h0M355.1 408.1h0M355.5 386.7h0M356.3 387.8h0M351.8 387.1h0M353.9 394.3h0M351.1 407.2h0M353.3 389.0h0M355.0 409.4h0M352.7 414.4h0M353.4 393.8h0M354.5 393.5h0M350.5 402.5h0M352.5 414.4h0M352.4 389.6h0M355.6 407.5h0M354.5 403.9h0M354.2 398.3h0M352.3 414.3h0M355.8 392.8h0M352.2 413.4h0M355.3 394.0h0M352.3 412.5h0M356.8 397.3h0M349.9 395.0h0M350.3 398.0h0M355.3 383.2h0M351.3 404.7h0M353.7 411.3h0M352.3 400.6h0M353.9 396.8h0M354.2 396.4h0M353.2 377.5h0M353.3 402.0h0M354.5 408.5h0M351.4 405.5h0M354.8 395.1h0M349.6 395.7h0M355.5 398.5h0M352.9 413.4h0M353.8 374.5h0M351.4 385.1h0M354.6 373.5h0M356.0 403.1h0M355.8 391.0h0M355.1 406.0h0M355.2 395.0h0M349.5 396.1h0M353.2 410.7h0M352.5 366.5h0M351.8 415.6h0" stroke="#22a6e0" stroke-width="1.60" stroke-linecap="round"/>
<line x1="339.80" y1="376.50" x2="339.80" y2="405.60" stroke="#222" stroke-width="0.7" />
<line x1="337.30" y1="376.50" x2="342.30" y2="376.50" stroke="#222" stroke-width="0.8" />
<line x1="337.30" y1="405.60" x2="342.30" y2="405.60" stroke="#222" stroke-width="0.8" />
<line x1="335.55" y1="391.00" x2="344.05" y2="391.00" stroke="#111" stroke-width="1.5" />
<line x1="353.30" y1="386.20" x2="353.30" y2="407.90" stroke="#222" stroke-width="0.7" />
<line x1="350.80" y1="386.20" x2="355.80" y2="386.20" stroke="#222" stroke-width="0.8" />
<line x1="350.80" y1="407.90" x2="355.80" y2="407.90" stroke="#222" stroke-width="0.8" />
<line x1="349.05" y1="396.30" x2="357.55" y2="396.30" stroke="#111" stroke-width="1.5" />
<line x1="330.20" y1="337.40" x2="330.20" y2="438.10" stroke="#111" stroke-width="1.9" />
<line x1="329.30" y1="437.20" x2="363.10" y2="437.20" stroke="#111" stroke-width="1.9" />
<line x1="325.50" y1="338.00" x2="330.20" y2="338.00" stroke="#111" stroke-width="1.1" />
<text x="323.80" y="340.88" font-size="6.72" fill="#1a1a1a" text-anchor="end" textLength="10.01" lengthAdjust="spacingAndGlyphs" >200</text>
<line x1="325.50" y1="362.80" x2="330.20" y2="362.80" stroke="#111" stroke-width="1.1" />
<text x="323.80" y="365.68" font-size="6.72" fill="#1a1a1a" text-anchor="end" textLength="10.01" lengthAdjust="spacingAndGlyphs" >150</text>
<line x1="325.50" y1="387.60" x2="330.20" y2="387.60" stroke="#111" stroke-width="1.1" />
<text x="323.80" y="390.48" font-size="6.72" fill="#1a1a1a" text-anchor="end" textLength="10.01" lengthAdjust="spacingAndGlyphs" >100</text>
<line x1="325.50" y1="412.40" x2="330.20" y2="412.40" stroke="#111" stroke-width="1.1" />
<text x="323.80" y="415.28" font-size="6.72" fill="#1a1a1a" text-anchor="end" textLength="6.67" lengthAdjust="spacingAndGlyphs" >50</text>
<line x1="325.50" y1="437.20" x2="330.20" y2="437.20" stroke="#111" stroke-width="1.1" />
<text x="323.80" y="440.08" font-size="6.72" fill="#1a1a1a" text-anchor="end" textLength="3.34" lengthAdjust="spacingAndGlyphs" >0</text>
<line x1="339.80" y1="340.60" x2="353.80" y2="340.60" stroke="#222" stroke-width="1.2" />
<polygon points="345.75,335.15 346.27,336.39 347.60,336.50 346.58,337.37 346.90,338.68 345.75,337.98 344.60,338.68 344.92,337.37 343.90,336.50 345.23,336.39" fill="#d0213f"/>
<polygon points="349.85,335.15 350.37,336.39 351.70,336.50 350.68,337.37 351.00,338.68 349.85,337.98 348.70,338.68 349.02,337.37 348.00,336.50 349.33,336.39" fill="#d0213f"/>
<text x="340.50" y="447.50" font-size="8.4" fill="#444" text-anchor="start" textLength="14.10" lengthAdjust="spacingAndGlyphs" >BCL6</text>
<path d="M391.0 385.6h0M389.0 394.6h0M389.2 398.4h0M389.4 392.4h0M390.9 381.5h0M389.5 392.4h0M392.6 382.9h0M390.5 393.0h0M388.6 379.6h0M391.8 387.8h0M390.2 387.8h0M387.1 386.9h0M390.7 376.1h0M392.6 391.7h0M389.3 386.3h0M390.2 391.8h0M386.7 397.0h0M386.5 379.5h0M387.9 395.9h0M392.6 398.4h0M386.7 393.4h0M388.3 395.8h0M390.8 389.5h0M392.3 378.7h0M392.9 394.8h0M390.7 388.5h0M386.5 376.9h0M389.2 380.3h0M392.7 388.6h0M388.2 382.9h0M385.7 388.3h0M392.4 399.4h0M392.3 379.1h0M391.1 400.3h0M387.0 385.2h0M391.3 385.5h0M387.2 400.3h0M387.8 380.9h0M386.6 401.1h0M387.6 394.5h0M392.4 379.9h0M391.5 386.1h0M390.9 390.5h0M390.4 383.2h0M387.8 374.6h0M387.0 401.5h0" stroke="#c8203f" stroke-width="1.60" stroke-linecap="round"/>
<path d="M399.5 389.6h0M400.3 383.2h0M401.4 381.0h0M405.2 386.0h0M403.3 383.4h0M401.8 375.0h0M404.7 392.4h0M405.1 385.6h0M399.2 383.6h0M401.4 376.6h0M403.9 387.7h0M404.2 394.2h0M403.6 394.5h0M404.7 391.1h0M400.3 380.7h0M398.7 386.7h0M402.1 386.7h0M399.2 385.0h0M403.5 390.9h0M405.0 381.1h0M402.2 396.1h0M402.9 377.9h0M401.9 392.5h0M399.8 385.6h0M400.9 394.9h0M403.6 379.1h0M404.8 380.4h0M401.6 390.0h0M399.9 383.9h0M405.1 386.2h0M400.7 387.2h0M404.2 381.7h0M403.4 390.3h0M401.1 387.8h0M402.6 394.5h0M401.7 390.0h0M401.4 373.5h0M401.2 394.0h0M403.0 389.5h0M404.7 385.4h0M400.7 377.1h0M400.4 388.0h0M398.9 384.1h0M405.4 381.1h0M399.9 382.5h0M401.7 389.3h0M399.7 381.9h0M402.5 390.2h0M403.3 390.1h0M402.6 391.6h0M403.5 379.9h0M401.1 378.1h0M404.7 392.3h0M403.4 374.3h0M400.1 386.4h0M402.2 391.3h0M400.8 374.7h0M404.0 377.3h0M405.2 389.0h0M402.6 379.7h0M401.7 391.8h0M404.9 385.7h0M401.6 389.5h0M398.9 385.9h0M403.5 390.3h0M401.9 389.0h0M405.8 382.3h0M402.5 369.4h0M401.4 398.8h0" stroke="#22a6e0" stroke-width="1.60" stroke-linecap="round"/>
<line x1="389.60" y1="366.20" x2="389.60" y2="408.50" stroke="#222" stroke-width="0.7" />
<line x1="387.10" y1="366.20" x2="392.10" y2="366.20" stroke="#222" stroke-width="0.8" />
<line x1="387.10" y1="408.50" x2="392.10" y2="408.50" stroke="#222" stroke-width="0.8" />
<line x1="385.35" y1="387.30" x2="393.85" y2="387.30" stroke="#111" stroke-width="1.5" />
<line x1="402.50" y1="379.60" x2="402.50" y2="391.90" stroke="#222" stroke-width="0.7" />
<line x1="400.00" y1="379.60" x2="405.00" y2="379.60" stroke="#222" stroke-width="0.8" />
<line x1="400.00" y1="391.90" x2="405.00" y2="391.90" stroke="#222" stroke-width="0.8" />
<line x1="398.25" y1="385.80" x2="406.75" y2="385.80" stroke="#111" stroke-width="1.5" />
<line x1="380.40" y1="337.40" x2="380.40" y2="438.10" stroke="#111" stroke-width="1.9" />
<line x1="379.50" y1="437.20" x2="412.70" y2="437.20" stroke="#111" stroke-width="1.9" />
<line x1="375.70" y1="338.00" x2="380.40" y2="338.00" stroke="#111" stroke-width="1.1" />
<text x="374.00" y="340.88" font-size="6.72" fill="#1a1a1a" text-anchor="end" textLength="10.01" lengthAdjust="spacingAndGlyphs" >500</text>
<line x1="375.70" y1="357.84" x2="380.40" y2="357.84" stroke="#111" stroke-width="1.1" />
<text x="374.00" y="360.72" font-size="6.72" fill="#1a1a1a" text-anchor="end" textLength="10.01" lengthAdjust="spacingAndGlyphs" >400</text>
<line x1="375.70" y1="377.68" x2="380.40" y2="377.68" stroke="#111" stroke-width="1.1" />
<text x="374.00" y="380.56" font-size="6.72" fill="#1a1a1a" text-anchor="end" textLength="10.01" lengthAdjust="spacingAndGlyphs" >300</text>
<line x1="375.70" y1="397.52" x2="380.40" y2="397.52" stroke="#111" stroke-width="1.1" />
<text x="374.00" y="400.40" font-size="6.72" fill="#1a1a1a" text-anchor="end" textLength="10.01" lengthAdjust="spacingAndGlyphs" >200</text>
<line x1="375.70" y1="417.36" x2="380.40" y2="417.36" stroke="#111" stroke-width="1.1" />
<text x="374.00" y="420.24" font-size="6.72" fill="#1a1a1a" text-anchor="end" textLength="10.01" lengthAdjust="spacingAndGlyphs" >100</text>
<line x1="375.70" y1="437.20" x2="380.40" y2="437.20" stroke="#111" stroke-width="1.1" />
<text x="374.00" y="440.08" font-size="6.72" fill="#1a1a1a" text-anchor="end" textLength="3.34" lengthAdjust="spacingAndGlyphs" >0</text>
<text x="384.90" y="447.50" font-size="8.4" fill="#444" text-anchor="start" textLength="18.60" lengthAdjust="spacingAndGlyphs" >ROR&#947;T</text>
<path d="M58.2 670.6h0M59.7 670.6h0M52.6 670.6h0M54.3 670.6h0M55.7 670.6h0M57.5 670.6h0M57.5 670.6h0M56.8 670.6h0M58.9 670.6h0M57.8 670.6h0M51.8 670.6h0M59.7 670.6h0M58.6 670.6h0M57.3 670.6h0M58.2 669.8h0M58.5 669.8h0M52.0 669.8h0M56.9 669.8h0M52.8 669.8h0M53.8 669.8h0M56.0 663.8h0M55.8 665.3h0M55.7 666.8h0M55.6 668.2h0" stroke="#c8203f" stroke-width="1.44" stroke-linecap="round"/>
<path d="M69.7 587.1h0M69.6 581.7h0M71.4 585.4h0M69.9 600.1h0M69.3 585.2h0M72.1 587.9h0M68.9 610.3h0M67.5 585.1h0M73.1 583.9h0M67.9 586.0h0M66.6 585.5h0M68.9 612.8h0M72.4 580.7h0M67.7 582.2h0M69.8 595.9h0M71.1 580.6h0M66.1 586.3h0M68.5 592.5h0M71.1 581.2h0M68.1 584.4h0M68.7 583.9h0M70.1 587.8h0M71.6 590.3h0M68.8 594.9h0M67.6 581.6h0M66.5 583.4h0M68.6 594.8h0M70.2 601.2h0M72.7 584.5h0M69.7 581.2h0M67.4 582.1h0M70.2 596.3h0M67.1 582.0h0M67.2 583.0h0M67.3 582.7h0M72.9 585.9h0M70.4 590.9h0M66.5 582.1h0M72.8 587.0h0M69.4 607.0h0M67.7 580.6h0M70.8 582.0h0M69.8 584.0h0M70.0 640.0h0M69.6 636.5h0M69.1 631.0h0M68.6 627.0h0" stroke="#22a6e0" stroke-width="1.44" stroke-linecap="round"/>
<path d="M100.6 622.5h0M100.1 645.9h0M102.4 644.2h0M102.9 613.1h0M102.0 633.3h0M97.6 624.8h0M100.9 627.7h0M99.8 626.4h0M98.8 630.9h0M100.9 611.5h0M101.4 626.6h0M101.4 627.5h0M100.6 639.3h0M99.8 618.2h0M102.1 608.0h0M99.0 631.7h0M101.5 620.2h0M101.7 627.5h0M100.5 643.4h0M99.3 612.8h0M101.3 616.3h0M101.6 627.7h0M100.0 611.4h0M97.5 626.0h0M101.4 616.8h0M98.7 616.6h0M100.8 631.2h0M103.1 620.8h0M103.6 620.5h0M101.9 628.6h0M101.8 614.0h0M99.3 632.2h0M101.3 632.8h0M100.2 636.2h0M102.8 613.9h0M100.4 625.7h0M102.3 625.3h0M102.2 639.1h0M101.1 637.5h0M104.3 627.8h0M101.4 614.1h0M100.3 613.5h0M103.8 621.8h0M102.3 617.7h0M98.1 629.4h0M100.3 636.5h0M102.6 615.8h0M102.1 615.4h0M101.2 634.5h0M104.3 629.0h0M100.9 592.6h0M101.8 655.8h0M100.9 596.0h0M100.7 600.0h0" stroke="#c8203f" stroke-width="1.44" stroke-linecap="round"/>
<path d="M117.8 582.0h0M113.3 580.8h0M115.6 581.1h0M113.2 581.7h0M118.1 583.0h0M116.5 606.9h0M112.8 581.4h0M112.3 585.0h0M117.7 581.8h0M115.0 584.7h0M114.6 580.3h0M118.9 582.7h0M118.3 582.5h0M113.5 586.5h0M114.0 580.1h0M118.9 585.8h0M118.2 580.8h0M115.2 597.3h0M114.9 584.7h0M117.2 592.3h0M113.6 595.2h0M114.2 583.2h0M113.2 593.9h0M112.8 586.7h0M113.6 594.4h0M114.5 593.7h0M117.2 581.5h0M118.5 589.1h0M113.2 584.5h0M113.5 580.2h0M115.8 582.3h0M116.6 582.0h0M117.6 586.8h0M115.8 583.7h0M118.1 581.7h0M113.6 593.2h0M115.3 581.5h0M113.2 591.6h0M118.6 590.6h0M118.7 581.6h0M116.3 590.1h0M117.6 590.0h0M116.0 589.5h0M116.6 607.7h0M116.2 602.7h0M115.7 585.0h0M115.3 583.2h0M116.8 581.0h0M113.0 583.4h0M114.9 588.9h0M113.0 579.8h0M115.3 628.2h0M116.5 624.0h0M115.5 618.0h0M116.1 612.0h0" stroke="#22a6e0" stroke-width="1.44" stroke-linecap="round"/>
<path d="M149.4 669.2h0M151.3 669.5h0M153.5 668.5h0M152.9 661.7h0M150.1 668.5h0M152.7 668.9h0M153.8 663.1h0M153.9 665.5h0M147.8 668.8h0M149.6 666.2h0M149.2 668.4h0M150.8 667.3h0M148.6 666.0h0M150.0 651.8h0M153.2 667.3h0M150.6 668.9h0M149.2 664.2h0M148.9 660.3h0M150.1 661.1h0M153.5 668.2h0M151.7 658.2h0M153.6 669.0h0M153.4 669.0h0M154.5 662.6h0M147.8 663.4h0M152.8 666.0h0M148.9 663.7h0M149.0 668.0h0M149.2 655.5h0M153.2 667.1h0M148.0 662.3h0M151.5 658.8h0M148.5 666.1h0M153.1 669.7h0M149.9 662.3h0M149.3 654.5h0M154.5 668.4h0M150.4 648.9h0M150.5 669.4h0M148.8 663.2h0M149.6 657.4h0M150.9 654.0h0M147.7 669.5h0M148.7 656.6h0M151.7 663.0h0M150.3 660.1h0M154.6 665.3h0M154.7 668.4h0M147.4 664.4h0M151.9 663.2h0M150.5 645.0h0M150.0 648.0h0M151.8 651.0h0" stroke="#c8203f" stroke-width="1.44" stroke-linecap="round"/>
<path d="M161.8 667.8h0M163.0 669.3h0M162.2 666.9h0M163.4 670.4h0M165.7 663.6h0M164.2 668.6h0M165.8 649.5h0M161.6 664.6h0M162.3 659.4h0M165.7 649.0h0M167.7 671.0h0M165.8 660.1h0M162.6 667.6h0M165.7 666.7h0M161.7 665.2h0M165.1 664.5h0M164.6 657.6h0M161.2 670.1h0M166.8 664.6h0M167.8 662.6h0M161.7 668.4h0M168.0 670.7h0M163.3 654.1h0M166.7 671.3h0M167.4 664.4h0M165.0 665.0h0M167.2 664.2h0M166.1 650.8h0M165.0 645.6h0M165.8 669.8h0M167.7 662.4h0M163.7 659.8h0M166.7 666.5h0M166.3 662.7h0M166.2 671.5h0M166.3 667.4h0M162.8 667.6h0M167.3 660.9h0M166.0 669.2h0M164.4 652.8h0M162.9 662.5h0M166.3 661.7h0M163.6 651.3h0M165.1 666.3h0M162.5 666.4h0M168.2 671.6h0M166.7 671.0h0M164.6 659.9h0M165.7 664.7h0M164.8 661.4h0M161.3 667.4h0M164.2 670.4h0M165.9 670.8h0M164.9 651.4h0M167.7 661.7h0M164.6 623.2h0M165.0 627.0h0M164.6 631.0h0M165.9 635.0h0M166.0 639.0h0" stroke="#22a6e0" stroke-width="1.44" stroke-linecap="round"/>
<path d="M202.3 666.8h0M200.0 666.8h0M202.1 666.8h0M204.9 666.8h0M201.5 666.8h0M205.8 666.8h0M204.9 666.8h0M199.6 666.8h0M202.8 666.8h0M205.5 666.8h0M206.0 666.8h0M199.4 666.8h0M199.3 666.8h0M202.4 666.8h0M202.6 666.8h0M200.5 666.8h0M205.7 666.8h0M200.3 666.8h0M204.1 666.8h0M204.5 666.8h0M198.7 666.8h0M198.9 666.8h0M202.6 640.0h0M202.0 643.5h0M202.1 647.0h0M202.9 651.0h0M202.5 655.0h0M202.4 659.0h0M203.0 662.5h0" stroke="#c8203f" stroke-width="1.44" stroke-linecap="round"/>
<path d="M214.9 664.9h0M214.6 666.3h0M215.7 664.9h0M218.5 664.5h0M217.3 660.4h0M214.7 660.2h0M216.0 666.3h0M214.2 664.9h0M217.9 655.9h0M219.4 666.3h0M215.0 666.3h0M220.0 665.1h0M216.3 657.1h0M215.4 665.7h0M212.7 664.1h0M214.9 666.2h0M219.2 666.6h0M218.1 665.6h0M219.7 664.8h0M213.0 661.7h0M218.6 665.0h0M216.5 660.9h0M218.7 657.1h0M218.4 666.8h0M216.4 662.3h0M217.6 666.0h0M220.1 665.3h0M212.9 666.8h0M214.1 663.5h0M215.8 659.5h0M214.7 665.6h0M216.7 662.4h0M217.0 660.5h0M217.7 665.0h0M212.2 665.8h0M219.3 666.6h0M214.7 656.7h0M212.9 665.7h0M218.6 662.8h0M214.1 664.6h0M214.9 659.8h0M214.8 665.6h0M214.6 659.7h0M217.3 657.5h0M214.3 659.8h0M217.2 643.0h0M216.4 645.5h0M217.0 648.0h0M217.7 651.0h0M218.1 654.0h0" stroke="#22a6e0" stroke-width="1.44" stroke-linecap="round"/>
<path d="M250.2 660.5h0M251.2 659.2h0M253.6 663.4h0M249.8 662.9h0M253.4 661.6h0M249.3 662.8h0M252.9 661.7h0M251.6 662.0h0M248.7 661.8h0M246.3 662.4h0M248.3 663.7h0M246.9 659.1h0M248.9 663.6h0M251.7 663.8h0M250.1 663.5h0M250.2 661.2h0M251.9 664.6h0M252.1 659.8h0M251.8 663.1h0M251.6 663.1h0M248.9 659.8h0M248.4 657.9h0M249.9 664.1h0M247.5 660.0h0M246.7 664.6h0M249.0 642.5h0M251.1 663.6h0M253.1 662.3h0M251.1 662.1h0M251.5 663.1h0M247.2 656.3h0M249.4 641.8h0M250.8 663.9h0M249.7 664.1h0M248.4 663.5h0M253.2 662.6h0M247.9 664.7h0M251.2 662.6h0M249.6 660.9h0M253.3 663.8h0M246.0 663.3h0M251.1 662.2h0M252.6 662.1h0M251.9 661.0h0M246.4 664.1h0M249.4 595.2h0M249.8 597.5h0M249.6 605.0h0M249.1 609.0h0M248.7 616.0h0M250.0 621.0h0M250.9 626.0h0M249.8 631.0h0M249.3 636.0h0" stroke="#c8203f" stroke-width="1.44" stroke-linecap="round"/>
<path d="M261.5 667.1h0M267.3 657.5h0M266.2 660.0h0M264.5 667.4h0M266.5 661.6h0M265.2 663.5h0M263.5 666.4h0M262.1 665.0h0M264.4 666.2h0M267.6 666.1h0M262.0 665.0h0M262.1 661.9h0M268.2 666.4h0M266.1 667.3h0M263.0 659.7h0M263.4 666.4h0M268.2 666.9h0M264.2 661.2h0M268.0 665.5h0M265.8 661.3h0M263.8 652.1h0M263.2 667.1h0M264.4 663.2h0M262.5 666.0h0M268.6 665.9h0M268.2 666.1h0M267.7 665.2h0M268.5 663.0h0M264.1 667.1h0M261.6 665.9h0M268.4 666.9h0M267.9 667.2h0M263.6 667.5h0M263.6 658.8h0M268.3 666.2h0M263.7 665.3h0M262.2 666.9h0M263.3 665.5h0M267.0 667.7h0M266.5 664.9h0M262.6 666.6h0M262.2 665.9h0M264.7 667.3h0M264.6 663.2h0M261.5 667.6h0M264.2 623.2h0M266.0 626.5h0M265.1 630.0h0M263.9 640.0h0M265.9 645.0h0M265.4 648.0h0" stroke="#22a6e0" stroke-width="1.44" stroke-linecap="round"/>
<path d="M299.2 663.2h0M302.2 662.0h0M295.8 668.9h0M297.0 666.2h0M296.0 668.2h0M302.8 666.2h0M297.8 668.7h0M301.1 657.4h0M298.4 659.9h0M301.6 664.8h0M298.5 665.2h0M298.9 652.7h0M298.9 663.5h0M299.6 666.7h0M299.0 667.6h0M297.3 664.1h0M296.1 663.4h0M296.4 660.2h0M299.7 651.5h0M302.1 663.4h0M301.4 657.9h0M300.0 666.5h0M302.6 661.9h0M299.7 669.2h0M300.0 660.4h0M302.4 669.1h0M300.2 668.8h0M296.8 665.0h0M300.4 666.0h0M297.7 664.2h0M301.3 668.9h0M299.5 661.5h0M302.7 666.8h0M300.8 661.5h0M299.7 652.7h0M296.6 668.9h0M302.9 668.4h0M297.3 658.6h0M301.5 667.8h0M302.0 667.4h0M297.0 667.0h0M296.1 669.3h0M295.9 667.8h0M296.9 668.6h0M297.1 660.3h0M296.4 664.5h0M302.3 669.3h0M296.6 658.5h0M297.7 664.2h0M296.6 667.7h0M299.9 638.0h0M298.1 642.0h0M299.2 646.0h0" stroke="#c8203f" stroke-width="1.44" stroke-linecap="round"/>
<path d="M317.6 664.0h0M310.1 668.2h0M309.6 668.5h0M314.7 656.3h0M316.7 662.6h0M313.6 650.3h0M314.9 671.7h0M316.9 671.3h0M313.6 671.2h0M314.2 653.3h0M316.8 661.7h0M317.4 668.3h0M312.9 665.6h0M310.7 668.1h0M313.6 669.4h0M313.3 662.1h0M316.8 667.0h0M312.4 660.0h0M314.3 666.6h0M315.2 655.4h0M315.3 643.0h0M314.1 653.8h0M313.2 666.7h0M313.9 645.6h0M314.3 665.1h0M316.4 662.9h0M311.8 671.2h0M315.3 650.6h0M316.3 660.9h0M312.3 657.8h0M310.4 670.9h0M310.1 670.4h0M317.2 671.0h0M311.0 660.0h0M312.9 654.2h0M315.3 662.5h0M317.0 661.0h0M312.2 655.7h0M314.0 647.7h0M315.6 667.1h0M315.8 665.7h0M313.0 670.6h0M314.2 666.3h0M317.3 667.8h0M318.0 670.5h0M314.0 670.4h0M316.0 669.7h0M315.4 666.1h0M314.3 661.4h0M313.9 668.8h0M315.5 656.4h0M315.2 662.4h0M316.0 662.1h0M314.7 658.1h0M310.0 668.1h0M313.8 599.1h0M313.7 610.5h0M312.7 616.5h0M314.5 627.0h0M314.8 630.0h0M314.1 643.0h0M314.6 648.0h0" stroke="#22a6e0" stroke-width="1.44" stroke-linecap="round"/>
<path d="M345.8 667.2h0M349.0 667.2h0M347.4 667.2h0M343.4 667.2h0M349.0 667.2h0M347.6 667.2h0M347.2 667.2h0M345.6 667.2h0M350.8 667.2h0M345.4 667.2h0M347.5 667.2h0M343.8 667.2h0M344.2 667.2h0M344.8 667.2h0M350.3 667.2h0M345.3 667.2h0M350.5 667.2h0M347.1 667.2h0M347.1 667.2h0M344.9 667.2h0M346.0 667.2h0M345.2 667.2h0M348.9 667.2h0M346.0 667.2h0M351.0 665.5h0M343.3 664.5h0M343.0 650.5h0" stroke="#c8203f" stroke-width="1.44" stroke-linecap="round"/>
<path d="M362.6 667.3h0M364.8 667.3h0M359.0 667.3h0M363.1 667.3h0M365.8 667.3h0M364.3 667.3h0M366.3 667.3h0M361.8 667.3h0M361.7 667.3h0M359.1 667.3h0M359.9 667.3h0M365.8 667.3h0M363.7 667.3h0M364.8 667.3h0M359.6 667.3h0M360.6 667.3h0M358.5 667.3h0M362.4 667.3h0M359.4 667.3h0M361.4 667.3h0M363.3 667.3h0M366.1 667.3h0M365.9 667.3h0M363.7 667.3h0M358.2 667.3h0M364.8 667.3h0M362.4 665.5h0M361.2 663.5h0M366.1 659.4h0M361.1 633.5h0M365.2 599.1h0" stroke="#22a6e0" stroke-width="1.44" stroke-linecap="round"/>
<line x1="51.80" y1="670.40" x2="59.80" y2="670.40" stroke="#111" stroke-width="1.5" />
<line x1="69.70" y1="587.80" x2="69.70" y2="615.50" stroke="#222" stroke-width="0.7" />
<line x1="67.20" y1="587.80" x2="72.20" y2="587.80" stroke="#222" stroke-width="0.8" />
<line x1="67.20" y1="615.50" x2="72.20" y2="615.50" stroke="#222" stroke-width="0.8" />
<line x1="65.45" y1="593.90" x2="73.95" y2="593.90" stroke="#111" stroke-width="1.5" />
<line x1="101.30" y1="613.40" x2="101.30" y2="631.10" stroke="#222" stroke-width="0.7" />
<line x1="98.80" y1="613.40" x2="103.80" y2="613.40" stroke="#222" stroke-width="0.8" />
<line x1="98.80" y1="631.10" x2="103.80" y2="631.10" stroke="#222" stroke-width="0.8" />
<line x1="97.05" y1="624.80" x2="105.55" y2="624.80" stroke="#111" stroke-width="1.5" />
<line x1="115.50" y1="584.70" x2="115.50" y2="598.50" stroke="#222" stroke-width="0.7" />
<line x1="113.00" y1="584.70" x2="118.00" y2="584.70" stroke="#222" stroke-width="0.8" />
<line x1="113.00" y1="598.50" x2="118.00" y2="598.50" stroke="#222" stroke-width="0.8" />
<line x1="111.25" y1="589.20" x2="119.75" y2="589.20" stroke="#111" stroke-width="1.5" />
<line x1="151.10" y1="659.80" x2="151.10" y2="668.30" stroke="#222" stroke-width="0.7" />
<line x1="148.60" y1="659.80" x2="153.60" y2="659.80" stroke="#222" stroke-width="0.8" />
<line x1="148.60" y1="668.30" x2="153.60" y2="668.30" stroke="#222" stroke-width="0.8" />
<line x1="146.85" y1="665.10" x2="155.35" y2="665.10" stroke="#111" stroke-width="1.5" />
<line x1="164.90" y1="655.80" x2="164.90" y2="670.70" stroke="#222" stroke-width="0.7" />
<line x1="162.40" y1="655.80" x2="167.40" y2="655.80" stroke="#222" stroke-width="0.8" />
<line x1="162.40" y1="670.70" x2="167.40" y2="670.70" stroke="#222" stroke-width="0.8" />
<line x1="160.65" y1="666.70" x2="169.15" y2="666.70" stroke="#111" stroke-width="1.5" />
<line x1="198.50" y1="666.60" x2="206.50" y2="666.60" stroke="#111" stroke-width="1.5" />
<line x1="216.30" y1="660.80" x2="216.30" y2="667.20" stroke="#222" stroke-width="0.7" />
<line x1="213.80" y1="660.80" x2="218.80" y2="660.80" stroke="#222" stroke-width="0.8" />
<line x1="213.80" y1="667.20" x2="218.80" y2="667.20" stroke="#222" stroke-width="0.8" />
<line x1="212.05" y1="666.30" x2="220.55" y2="666.30" stroke="#111" stroke-width="1.5" />
<line x1="249.80" y1="651.90" x2="249.80" y2="663.80" stroke="#222" stroke-width="0.7" />
<line x1="247.30" y1="651.90" x2="252.30" y2="651.90" stroke="#222" stroke-width="0.8" />
<line x1="247.30" y1="663.80" x2="252.30" y2="663.80" stroke="#222" stroke-width="0.8" />
<line x1="245.55" y1="660.20" x2="254.05" y2="660.20" stroke="#111" stroke-width="1.5" />
<line x1="265.20" y1="660.80" x2="265.20" y2="666.70" stroke="#222" stroke-width="0.7" />
<line x1="262.70" y1="660.80" x2="267.70" y2="660.80" stroke="#222" stroke-width="0.8" />
<line x1="262.70" y1="666.70" x2="267.70" y2="666.70" stroke="#222" stroke-width="0.8" />
<line x1="260.95" y1="663.80" x2="269.45" y2="663.80" stroke="#111" stroke-width="1.5" />
<line x1="299.20" y1="658.40" x2="299.20" y2="667.70" stroke="#222" stroke-width="0.7" />
<line x1="296.70" y1="658.40" x2="301.70" y2="658.40" stroke="#222" stroke-width="0.8" />
<line x1="296.70" y1="667.70" x2="301.70" y2="667.70" stroke="#222" stroke-width="0.8" />
<line x1="294.95" y1="664.30" x2="303.45" y2="664.30" stroke="#111" stroke-width="1.5" />
<line x1="314.00" y1="652.50" x2="314.00" y2="667.70" stroke="#222" stroke-width="0.7" />
<line x1="311.50" y1="652.50" x2="316.50" y2="652.50" stroke="#222" stroke-width="0.8" />
<line x1="311.50" y1="667.70" x2="316.50" y2="667.70" stroke="#222" stroke-width="0.8" />
<line x1="309.75" y1="663.20" x2="318.25" y2="663.20" stroke="#111" stroke-width="1.5" />
<line x1="343.20" y1="667.00" x2="351.20" y2="667.00" stroke="#111" stroke-width="1.5" />
<line x1="358.40" y1="667.00" x2="366.40" y2="667.00" stroke="#111" stroke-width="1.5" />
<line x1="46.80" y1="575.80" x2="46.80" y2="676.90" stroke="#111" stroke-width="1.9" />
<line x1="45.90" y1="676.00" x2="78.70" y2="676.00" stroke="#111" stroke-width="1.9" />
<line x1="42.10" y1="576.40" x2="46.80" y2="576.40" stroke="#111" stroke-width="1.1" />
<text x="40.80" y="579.28" font-size="6.72" fill="#1a1a1a" text-anchor="end" textLength="10.01" lengthAdjust="spacingAndGlyphs" >100</text>
<line x1="42.10" y1="595.36" x2="46.80" y2="595.36" stroke="#111" stroke-width="1.1" />
<text x="40.80" y="598.24" font-size="6.72" fill="#1a1a1a" text-anchor="end" textLength="6.67" lengthAdjust="spacingAndGlyphs" >80</text>
<line x1="42.10" y1="614.32" x2="46.80" y2="614.32" stroke="#111" stroke-width="1.1" />
<text x="40.80" y="617.20" font-size="6.72" fill="#1a1a1a" text-anchor="end" textLength="6.67" lengthAdjust="spacingAndGlyphs" >60</text>
<line x1="42.10" y1="633.28" x2="46.80" y2="633.28" stroke="#111" stroke-width="1.1" />
<text x="40.80" y="636.16" font-size="6.72" fill="#1a1a1a" text-anchor="end" textLength="6.67" lengthAdjust="spacingAndGlyphs" >40</text>
<line x1="42.10" y1="652.24" x2="46.80" y2="652.24" stroke="#111" stroke-width="1.1" />
<text x="40.80" y="655.12" font-size="6.72" fill="#1a1a1a" text-anchor="end" textLength="6.67" lengthAdjust="spacingAndGlyphs" >20</text>
<line x1="42.10" y1="671.20" x2="46.80" y2="671.20" stroke="#111" stroke-width="1.1" />
<text x="40.80" y="674.08" font-size="6.72" fill="#1a1a1a" text-anchor="end" textLength="3.34" lengthAdjust="spacingAndGlyphs" >0</text>
<line x1="92.30" y1="576.50" x2="92.30" y2="676.90" stroke="#111" stroke-width="1.9" />
<line x1="91.40" y1="676.00" x2="124.40" y2="676.00" stroke="#111" stroke-width="1.9" />
<line x1="87.60" y1="577.10" x2="92.30" y2="577.10" stroke="#111" stroke-width="1.1" />
<text x="86.30" y="579.98" font-size="6.72" fill="#1a1a1a" text-anchor="end" textLength="10.01" lengthAdjust="spacingAndGlyphs" >100</text>
<line x1="87.60" y1="596.06" x2="92.30" y2="596.06" stroke="#111" stroke-width="1.1" />
<text x="86.30" y="598.94" font-size="6.72" fill="#1a1a1a" text-anchor="end" textLength="6.67" lengthAdjust="spacingAndGlyphs" >80</text>
<line x1="87.60" y1="615.02" x2="92.30" y2="615.02" stroke="#111" stroke-width="1.1" />
<text x="86.30" y="617.90" font-size="6.72" fill="#1a1a1a" text-anchor="end" textLength="6.67" lengthAdjust="spacingAndGlyphs" >60</text>
<line x1="87.60" y1="633.98" x2="92.30" y2="633.98" stroke="#111" stroke-width="1.1" />
<text x="86.30" y="636.86" font-size="6.72" fill="#1a1a1a" text-anchor="end" textLength="6.67" lengthAdjust="spacingAndGlyphs" >40</text>
<line x1="87.60" y1="652.94" x2="92.30" y2="652.94" stroke="#111" stroke-width="1.1" />
<text x="86.30" y="655.82" font-size="6.72" fill="#1a1a1a" text-anchor="end" textLength="6.67" lengthAdjust="spacingAndGlyphs" >20</text>
<line x1="87.60" y1="671.90" x2="92.30" y2="671.90" stroke="#111" stroke-width="1.1" />
<text x="86.30" y="674.78" font-size="6.72" fill="#1a1a1a" text-anchor="end" textLength="3.34" lengthAdjust="spacingAndGlyphs" >0</text>
<line x1="141.40" y1="575.80" x2="141.40" y2="676.90" stroke="#111" stroke-width="1.9" />
<line x1="140.50" y1="676.00" x2="175.40" y2="676.00" stroke="#111" stroke-width="1.9" />
<line x1="136.70" y1="576.40" x2="141.40" y2="576.40" stroke="#111" stroke-width="1.1" />
<text x="135.40" y="579.28" font-size="6.72" fill="#1a1a1a" text-anchor="end" textLength="6.67" lengthAdjust="spacingAndGlyphs" >10</text>
<line x1="136.70" y1="595.40" x2="141.40" y2="595.40" stroke="#111" stroke-width="1.1" />
<text x="135.40" y="598.28" font-size="6.72" fill="#1a1a1a" text-anchor="end" textLength="3.34" lengthAdjust="spacingAndGlyphs" >8</text>
<line x1="136.70" y1="614.40" x2="141.40" y2="614.40" stroke="#111" stroke-width="1.1" />
<text x="135.40" y="617.28" font-size="6.72" fill="#1a1a1a" text-anchor="end" textLength="3.34" lengthAdjust="spacingAndGlyphs" >6</text>
<line x1="136.70" y1="633.40" x2="141.40" y2="633.40" stroke="#111" stroke-width="1.1" />
<text x="135.40" y="636.28" font-size="6.72" fill="#1a1a1a" text-anchor="end" textLength="3.34" lengthAdjust="spacingAndGlyphs" >4</text>
<line x1="136.70" y1="652.40" x2="141.40" y2="652.40" stroke="#111" stroke-width="1.1" />
<text x="135.40" y="655.28" font-size="6.72" fill="#1a1a1a" text-anchor="end" textLength="3.34" lengthAdjust="spacingAndGlyphs" >2</text>
<line x1="136.70" y1="671.40" x2="141.40" y2="671.40" stroke="#111" stroke-width="1.1" />
<text x="135.40" y="674.28" font-size="6.72" fill="#1a1a1a" text-anchor="end" textLength="3.34" lengthAdjust="spacingAndGlyphs" >0</text>
<line x1="191.80" y1="575.00" x2="191.80" y2="676.90" stroke="#111" stroke-width="1.9" />
<line x1="190.90" y1="676.00" x2="226.20" y2="676.00" stroke="#111" stroke-width="1.9" />
<line x1="187.10" y1="575.60" x2="191.80" y2="575.60" stroke="#111" stroke-width="1.1" />
<text x="185.80" y="578.48" font-size="6.72" fill="#1a1a1a" text-anchor="end" textLength="6.67" lengthAdjust="spacingAndGlyphs" >10</text>
<line x1="187.10" y1="593.80" x2="191.80" y2="593.80" stroke="#111" stroke-width="1.1" />
<text x="185.80" y="596.68" font-size="6.72" fill="#1a1a1a" text-anchor="end" textLength="3.34" lengthAdjust="spacingAndGlyphs" >8</text>
<line x1="187.10" y1="612.00" x2="191.80" y2="612.00" stroke="#111" stroke-width="1.1" />
<text x="185.80" y="614.88" font-size="6.72" fill="#1a1a1a" text-anchor="end" textLength="3.34" lengthAdjust="spacingAndGlyphs" >6</text>
<line x1="187.10" y1="630.20" x2="191.80" y2="630.20" stroke="#111" stroke-width="1.1" />
<text x="185.80" y="633.08" font-size="6.72" fill="#1a1a1a" text-anchor="end" textLength="3.34" lengthAdjust="spacingAndGlyphs" >4</text>
<line x1="187.10" y1="648.40" x2="191.80" y2="648.40" stroke="#111" stroke-width="1.1" />
<text x="185.80" y="651.28" font-size="6.72" fill="#1a1a1a" text-anchor="end" textLength="3.34" lengthAdjust="spacingAndGlyphs" >2</text>
<line x1="187.10" y1="666.60" x2="191.80" y2="666.60" stroke="#111" stroke-width="1.1" />
<text x="185.80" y="669.48" font-size="6.72" fill="#1a1a1a" text-anchor="end" textLength="3.34" lengthAdjust="spacingAndGlyphs" >0</text>
<line x1="239.60" y1="575.90" x2="239.60" y2="676.90" stroke="#111" stroke-width="1.9" />
<line x1="238.70" y1="676.00" x2="276.40" y2="676.00" stroke="#111" stroke-width="1.9" />
<line x1="234.90" y1="576.50" x2="239.60" y2="576.50" stroke="#111" stroke-width="1.1" />
<text x="233.60" y="579.38" font-size="6.72" fill="#1a1a1a" text-anchor="end" textLength="3.34" lengthAdjust="spacingAndGlyphs" >5</text>
<line x1="234.90" y1="594.62" x2="239.60" y2="594.62" stroke="#111" stroke-width="1.1" />
<text x="233.60" y="597.50" font-size="6.72" fill="#1a1a1a" text-anchor="end" textLength="3.34" lengthAdjust="spacingAndGlyphs" >4</text>
<line x1="234.90" y1="612.74" x2="239.60" y2="612.74" stroke="#111" stroke-width="1.1" />
<text x="233.60" y="615.62" font-size="6.72" fill="#1a1a1a" text-anchor="end" textLength="3.34" lengthAdjust="spacingAndGlyphs" >3</text>
<line x1="234.90" y1="630.86" x2="239.60" y2="630.86" stroke="#111" stroke-width="1.1" />
<text x="233.60" y="633.74" font-size="6.72" fill="#1a1a1a" text-anchor="end" textLength="3.34" lengthAdjust="spacingAndGlyphs" >2</text>
<line x1="234.90" y1="648.98" x2="239.60" y2="648.98" stroke="#111" stroke-width="1.1" />
<text x="233.60" y="651.86" font-size="6.72" fill="#1a1a1a" text-anchor="end" textLength="3.34" lengthAdjust="spacingAndGlyphs" >1</text>
<line x1="234.90" y1="667.10" x2="239.60" y2="667.10" stroke="#111" stroke-width="1.1" />
<text x="233.60" y="669.98" font-size="6.72" fill="#1a1a1a" text-anchor="end" textLength="3.34" lengthAdjust="spacingAndGlyphs" >0</text>
<line x1="289.10" y1="575.80" x2="289.10" y2="676.90" stroke="#111" stroke-width="1.9" />
<line x1="288.20" y1="676.00" x2="322.90" y2="676.00" stroke="#111" stroke-width="1.9" />
<line x1="284.40" y1="576.40" x2="289.10" y2="576.40" stroke="#111" stroke-width="1.1" />
<text x="283.10" y="579.28" font-size="6.72" fill="#1a1a1a" text-anchor="end" textLength="6.67" lengthAdjust="spacingAndGlyphs" >10</text>
<line x1="284.40" y1="595.34" x2="289.10" y2="595.34" stroke="#111" stroke-width="1.1" />
<text x="283.10" y="598.22" font-size="6.72" fill="#1a1a1a" text-anchor="end" textLength="3.34" lengthAdjust="spacingAndGlyphs" >8</text>
<line x1="284.40" y1="614.28" x2="289.10" y2="614.28" stroke="#111" stroke-width="1.1" />
<text x="283.10" y="617.16" font-size="6.72" fill="#1a1a1a" text-anchor="end" textLength="3.34" lengthAdjust="spacingAndGlyphs" >6</text>
<line x1="284.40" y1="633.22" x2="289.10" y2="633.22" stroke="#111" stroke-width="1.1" />
<text x="283.10" y="636.10" font-size="6.72" fill="#1a1a1a" text-anchor="end" textLength="3.34" lengthAdjust="spacingAndGlyphs" >4</text>
<line x1="284.40" y1="652.16" x2="289.10" y2="652.16" stroke="#111" stroke-width="1.1" />
<text x="283.10" y="655.04" font-size="6.72" fill="#1a1a1a" text-anchor="end" textLength="3.34" lengthAdjust="spacingAndGlyphs" >2</text>
<line x1="284.40" y1="671.10" x2="289.10" y2="671.10" stroke="#111" stroke-width="1.1" />
<text x="283.10" y="673.98" font-size="6.72" fill="#1a1a1a" text-anchor="end" textLength="3.34" lengthAdjust="spacingAndGlyphs" >0</text>
<line x1="336.90" y1="575.80" x2="336.90" y2="676.90" stroke="#111" stroke-width="1.9" />
<line x1="336.00" y1="676.00" x2="373.60" y2="676.00" stroke="#111" stroke-width="1.9" />
<line x1="332.20" y1="576.40" x2="336.90" y2="576.40" stroke="#111" stroke-width="1.1" />
<text x="330.90" y="579.28" font-size="6.72" fill="#1a1a1a" text-anchor="end" textLength="3.34" lengthAdjust="spacingAndGlyphs" >5</text>
<line x1="332.20" y1="594.58" x2="336.90" y2="594.58" stroke="#111" stroke-width="1.1" />
<text x="330.90" y="597.46" font-size="6.72" fill="#1a1a1a" text-anchor="end" textLength="3.34" lengthAdjust="spacingAndGlyphs" >4</text>
<line x1="332.20" y1="612.76" x2="336.90" y2="612.76" stroke="#111" stroke-width="1.1" />
<text x="330.90" y="615.64" font-size="6.72" fill="#1a1a1a" text-anchor="end" textLength="3.34" lengthAdjust="spacingAndGlyphs" >3</text>
<line x1="332.20" y1="630.94" x2="336.90" y2="630.94" stroke="#111" stroke-width="1.1" />
<text x="330.90" y="633.82" font-size="6.72" fill="#1a1a1a" text-anchor="end" textLength="3.34" lengthAdjust="spacingAndGlyphs" >2</text>
<line x1="332.20" y1="649.12" x2="336.90" y2="649.12" stroke="#111" stroke-width="1.1" />
<text x="330.90" y="652.00" font-size="6.72" fill="#1a1a1a" text-anchor="end" textLength="3.34" lengthAdjust="spacingAndGlyphs" >1</text>
<line x1="332.20" y1="667.30" x2="336.90" y2="667.30" stroke="#111" stroke-width="1.1" />
<text x="330.90" y="670.18" font-size="6.72" fill="#1a1a1a" text-anchor="end" textLength="3.34" lengthAdjust="spacingAndGlyphs" >0</text>
<line x1="54.90" y1="576.80" x2="70.10" y2="576.80" stroke="#222" stroke-width="1.2" />
<polygon points="57.35,571.15 57.87,572.39 59.20,572.50 58.18,573.37 58.50,574.68 57.35,573.98 56.20,574.68 56.52,573.37 55.50,572.50 56.83,572.39" fill="#d0213f"/>
<polygon points="61.45,571.15 61.97,572.39 63.30,572.50 62.28,573.37 62.60,574.68 61.45,573.98 60.30,574.68 60.62,573.37 59.60,572.50 60.93,572.39" fill="#d0213f"/>
<polygon points="65.55,571.15 66.07,572.39 67.40,572.50 66.38,573.37 66.70,574.68 65.55,573.98 64.40,574.68 64.72,573.37 63.70,572.50 65.03,572.39" fill="#d0213f"/>
<polygon points="69.65,571.15 70.17,572.39 71.50,572.50 70.48,573.37 70.80,574.68 69.65,573.98 68.50,574.68 68.82,573.37 67.80,572.50 69.13,572.39" fill="#d0213f"/>
<line x1="101.70" y1="576.00" x2="116.50" y2="576.00" stroke="#222" stroke-width="1.2" />
<polygon points="103.95,570.85 104.47,572.09 105.80,572.20 104.78,573.07 105.10,574.38 103.95,573.68 102.80,574.38 103.12,573.07 102.10,572.20 103.43,572.09" fill="#d0213f"/>
<polygon points="108.05,570.85 108.57,572.09 109.90,572.20 108.88,573.07 109.20,574.38 108.05,573.68 106.90,574.38 107.22,573.07 106.20,572.20 107.53,572.09" fill="#d0213f"/>
<polygon points="112.15,570.85 112.67,572.09 114.00,572.20 112.98,573.07 113.30,574.38 112.15,573.68 111.00,574.38 111.32,573.07 110.30,572.20 111.63,572.09" fill="#d0213f"/>
<polygon points="116.25,570.85 116.77,572.09 118.10,572.20 117.08,573.07 117.40,574.38 116.25,573.68 115.10,574.38 115.42,573.07 114.40,572.20 115.73,572.09" fill="#d0213f"/>
<line x1="249.20" y1="576.90" x2="265.60" y2="576.90" stroke="#222" stroke-width="1.2" />
<polygon points="254.30,571.15 254.82,572.39 256.15,572.50 255.13,573.37 255.45,574.68 254.30,573.98 253.15,574.68 253.47,573.37 252.45,572.50 253.78,572.39" fill="#d0213f"/>
<polygon points="258.40,571.15 258.92,572.39 260.25,572.50 259.23,573.37 259.55,574.68 258.40,573.98 257.25,574.68 257.57,573.37 256.55,572.50 257.88,572.39" fill="#d0213f"/>
<polygon points="262.50,571.15 263.02,572.39 264.35,572.50 263.33,573.37 263.65,574.68 262.50,573.98 261.35,574.68 261.67,573.37 260.65,572.50 261.98,572.39" fill="#d0213f"/>
<text x="52.60" y="688.60" font-size="10" fill="#555" text-anchor="start" textLength="16.40" lengthAdjust="spacingAndGlyphs" >IFN&#947;</text>
<text x="100.70" y="688.60" font-size="10" fill="#111" text-anchor="start" textLength="19.80" lengthAdjust="spacingAndGlyphs" >TNF</text>
<text x="142.20" y="688.60" font-size="10" fill="#111" text-anchor="start" textLength="38.60" lengthAdjust="spacingAndGlyphs" >GM-CSF</text>
<text x="202.50" y="688.60" font-size="10" fill="#111" text-anchor="start" textLength="16.40" lengthAdjust="spacingAndGlyphs" >IL-4</text>
<text x="248.20" y="688.60" font-size="10" fill="#111" text-anchor="start" textLength="22.30" lengthAdjust="spacingAndGlyphs" >IL-10</text>
<text x="293.60" y="688.60" font-size="10" fill="#111" text-anchor="start" textLength="29.30" lengthAdjust="spacingAndGlyphs" >IL-17A</text>
<text x="346.60" y="688.60" font-size="10" fill="#111" text-anchor="start" textLength="22.70" lengthAdjust="spacingAndGlyphs" >IL-22</text>
<text transform="translate(27.40,629.20) rotate(-90)" font-size="10" fill="#444" text-anchor="middle" textLength="62.50" lengthAdjust="spacingAndGlyphs" >% Cells post-stim</text>
<text x="126.30" y="475.60" font-size="9.3" fill="#111" text-anchor="start" textLength="131.20" lengthAdjust="spacingAndGlyphs" >CD57+/CD27- CD4+ T cells</text>
<line x1="34.50" y1="473.80" x2="121.30" y2="473.80" stroke="#111" stroke-width="1.3" />
<line x1="266.30" y1="473.40" x2="358.80" y2="473.40" stroke="#111" stroke-width="1.3" />
<text transform="translate(27.50,522.20) rotate(-90)" font-size="8.4" fill="#333" text-anchor="middle" textLength="21.70" lengthAdjust="spacingAndGlyphs" >Count</text>
<polygon points="39.10,539.40 41.30,537.50 42.40,531.00 43.10,518.00 43.70,505.00 44.20,504.60 44.80,514.00 45.30,528.00 46.00,536.50 46.80,539.40" fill="#fb8c1c" fill-opacity="0.62"/>
<polygon points="41.50,539.40 43.00,537.20 44.60,535.30 46.00,536.20 48.30,536.30 50.50,535.00 52.50,531.50 54.50,527.00 56.50,521.50 58.20,516.00 59.50,511.00 60.30,508.50 61.20,508.00 62.00,509.50 62.60,514.00 63.30,521.00 64.20,529.00 65.20,535.50 66.00,539.40" fill="#1e6a52" fill-opacity="0.6"/>
<polygon points="89.10,539.40 90.60,536.00 91.40,528.00 92.00,515.00 92.50,506.10 93.10,507.00 93.60,516.00 94.20,529.00 95.30,539.40" fill="#fb8c1c" fill-opacity="0.62"/>
<polygon points="89.50,539.40 91.00,537.30 93.50,536.60 95.50,537.50 96.30,537.50 98.20,535.80 100.10,533.00 101.60,529.50 103.00,525.80 103.80,521.50 104.40,518.00 105.20,515.50 105.90,513.30 106.60,511.50 107.30,509.50 108.30,507.30 109.20,509.50 109.80,508.80 110.70,510.90 111.50,515.50 112.10,521.00 112.90,526.50 113.60,531.50 114.20,536.00 114.70,539.40" fill="#1e6a52" fill-opacity="0.6"/>
<polygon points="133.47,539.40 133.93,535.50 134.38,532.63 134.83,528.00 135.29,522.01 135.74,516.32 136.19,510.26 136.65,504.84 137.10,503.35 137.55,504.78 138.01,510.25 138.46,516.54 138.91,522.49 139.37,527.55 139.82,532.51 140.27,535.54 140.72,539.40" fill="#fb8c1c" fill-opacity="0.6"/>
<polygon points="132.57,539.40 133.03,536.20 133.48,532.99 133.93,528.29 134.39,522.23 134.84,516.65 135.29,510.87 135.75,504.80 136.20,503.17 136.65,506.56 137.11,511.59 137.56,515.14 138.01,522.33 138.47,528.90 138.92,533.52 139.37,536.11 139.82,539.40" fill="#1e6a52" fill-opacity="0.5"/>
<polygon points="181.72,539.40 182.15,534.73 182.57,531.42 182.99,527.54 183.41,522.35 183.83,516.23 184.26,510.92 184.68,508.94 185.10,507.14 185.52,507.21 185.94,511.24 186.37,517.36 186.79,522.37 187.21,527.05 187.63,531.91 188.05,534.50 188.47,539.40" fill="#fb8c1c" fill-opacity="0.6"/>
<polygon points="180.82,539.40 181.25,535.11 181.67,532.33 182.09,528.48 182.51,521.92 182.93,517.89 183.36,511.12 183.78,506.54 184.20,508.07 184.62,506.36 185.04,513.09 185.47,515.50 185.89,522.58 186.31,527.77 186.73,531.88 187.15,535.00 187.57,539.40" fill="#1e6a52" fill-opacity="0.5"/>
<polygon points="230.55,539.40 231.02,536.41 231.49,533.81 231.96,529.02 232.43,524.26 232.89,517.56 233.36,510.68 233.83,506.10 234.30,505.35 234.77,505.52 235.24,510.28 235.71,518.16 236.18,523.27 236.64,529.35 237.11,533.74 237.58,536.33 238.05,539.40" fill="#fb8c1c" fill-opacity="0.6"/>
<polygon points="229.65,539.40 230.12,536.79 230.59,533.93 231.06,529.65 231.53,524.95 231.99,518.25 232.46,513.07 232.93,508.59 233.40,505.80 233.87,508.24 234.34,510.25 234.81,516.64 235.28,524.82 235.74,530.58 236.21,534.33 236.68,536.68 237.15,539.40" fill="#1e6a52" fill-opacity="0.5"/>
<polygon points="277.35,539.40 277.82,536.35 278.29,533.47 278.76,529.55 279.23,524.10 279.69,518.11 280.16,510.53 280.63,507.68 281.10,506.97 281.57,506.54 282.04,511.06 282.51,518.01 282.98,523.29 283.44,529.86 283.91,533.28 284.38,536.29 284.85,539.40" fill="#fb8c1c" fill-opacity="0.6"/>
<polygon points="276.45,539.40 276.92,536.88 277.39,534.26 277.86,529.89 278.33,523.77 278.79,517.75 279.26,510.30 279.73,506.27 280.20,505.95 280.67,508.65 281.14,511.18 281.61,517.93 282.08,524.55 282.54,530.57 283.01,534.09 283.48,536.61 283.95,539.40" fill="#1e6a52" fill-opacity="0.5"/>
<polygon points="327.60,539.40 327.98,531.68 328.35,528.46 328.73,523.35 329.10,517.48 329.48,511.97 329.85,509.03 330.23,505.47 330.60,503.75 330.98,506.21 331.35,509.80 331.73,512.01 332.10,518.57 332.48,523.38 332.85,527.91 333.23,532.18 333.60,539.40" fill="#fb8c1c" fill-opacity="0.6"/>
<polygon points="326.70,539.40 327.08,532.09 327.45,529.11 327.83,523.52 328.20,517.65 328.58,514.24 328.95,507.61 329.33,505.29 329.70,504.68 330.08,505.51 330.45,507.82 330.83,512.27 331.20,517.46 331.58,524.34 331.95,528.57 332.33,532.47 332.70,539.40" fill="#1e6a52" fill-opacity="0.5"/>
<polyline points="33.70,529.5 47.8,529.5 47.8,531.5 72.80,531.5" fill="none" stroke="#666" stroke-width="0.7"/>
<polyline points="82.30,531.5 97.7,531.5 97.7,533.5 120.80,533.5" fill="none" stroke="#666" stroke-width="0.7"/>
<polyline points="129.20,532.5 141.2,532.5 141.2,534.5 167.50,534.5" fill="none" stroke="#666" stroke-width="0.7"/>
<polyline points="176.70,526.5 188.8,526.5 188.8,528.5 215.80,528.5" fill="none" stroke="#666" stroke-width="0.7"/>
<polyline points="224.60,530.5 238.8,530.5 238.8,532.5 263.80,532.5" fill="none" stroke="#666" stroke-width="0.7"/>
<polyline points="272.60,528.5 286.3,528.5 286.3,530.5 311.80,530.5" fill="none" stroke="#666" stroke-width="0.7"/>
<polyline points="321.80,533.5 333.8,533.5" fill="none" stroke="#666" stroke-width="0.7"/>
<rect x="33.70" y="500.00" width="39.10" height="39.40" fill="none" stroke="#111" stroke-width="1.3" />
<text x="43.80" y="494.30" font-size="8.6" fill="#333" text-anchor="start" textLength="16.20" lengthAdjust="spacingAndGlyphs" >IFN&#947;</text>
<rect x="82.30" y="500.00" width="38.50" height="39.40" fill="none" stroke="#111" stroke-width="1.3" />
<text x="95.00" y="494.30" font-size="8.6" fill="#333" text-anchor="start" textLength="13.80" lengthAdjust="spacingAndGlyphs" >TNF</text>
<rect x="129.20" y="500.00" width="38.30" height="39.40" fill="none" stroke="#111" stroke-width="1.3" />
<text x="132.50" y="494.30" font-size="8.6" fill="#333" text-anchor="start" textLength="29.50" lengthAdjust="spacingAndGlyphs" >GM-CSF</text>
<rect x="176.70" y="500.00" width="39.10" height="39.40" fill="none" stroke="#111" stroke-width="1.3" />
<text x="188.00" y="494.30" font-size="8.6" fill="#333" text-anchor="start" textLength="13.30" lengthAdjust="spacingAndGlyphs" >IL-4</text>
<rect x="224.60" y="500.00" width="39.20" height="39.40" fill="none" stroke="#111" stroke-width="1.3" />
<text x="232.50" y="494.30" font-size="8.6" fill="#333" text-anchor="start" textLength="21.30" lengthAdjust="spacingAndGlyphs" >IL-10</text>
<rect x="272.60" y="500.00" width="39.20" height="39.40" fill="none" stroke="#111" stroke-width="1.3" />
<text x="277.50" y="494.30" font-size="8.6" fill="#333" text-anchor="start" textLength="26.30" lengthAdjust="spacingAndGlyphs" >IL-17A</text>
<rect x="321.80" y="500.00" width="39.30" height="39.40" fill="none" stroke="#111" stroke-width="1.3" />
<text x="329.50" y="494.30" font-size="8.6" fill="#333" text-anchor="start" textLength="20.50" lengthAdjust="spacingAndGlyphs" >IL-22</text>
<rect x="368.30" y="505.80" width="8.10" height="7.80" fill="#fb8c1c" />
<rect x="368.30" y="521.20" width="8.10" height="7.70" fill="#1e6a52" />
<text x="381.60" y="512.80" font-size="9.0" fill="#111" text-anchor="start" textLength="33.60" lengthAdjust="spacingAndGlyphs" >No Stim</text>
<text x="380.50" y="528.40" font-size="9.0" fill="#111" text-anchor="start" textLength="34.70" lengthAdjust="spacingAndGlyphs" >4hr Stim</text>
<rect x="27.50" y="21.60" width="228.60" height="74.40" fill="none" stroke="#111" stroke-width="1.5" />
<rect x="44.40" y="32.30" width="48.00" height="47.50" fill="none" stroke="#cfcfcf" stroke-width="0.7" />
<line x1="44.40" y1="79.80" x2="92.40" y2="79.80" stroke="#999" stroke-width="0.6" />
<line x1="44.20" y1="37.40" x2="45.40" y2="37.40" stroke="#777" stroke-width="0.5" />
<line x1="44.20" y1="49.00" x2="45.40" y2="49.00" stroke="#777" stroke-width="0.5" />
<line x1="44.20" y1="53.50" x2="45.40" y2="53.50" stroke="#777" stroke-width="0.5" />
<line x1="44.20" y1="56.50" x2="45.40" y2="56.50" stroke="#777" stroke-width="0.5" />
<line x1="44.20" y1="62.00" x2="45.40" y2="62.00" stroke="#777" stroke-width="0.5" />
<line x1="44.20" y1="66.00" x2="45.40" y2="66.00" stroke="#777" stroke-width="0.5" />
<line x1="44.20" y1="71.50" x2="45.40" y2="71.50" stroke="#777" stroke-width="0.5" />
<line x1="44.20" y1="73.50" x2="45.40" y2="73.50" stroke="#777" stroke-width="0.5" />
<line x1="47.00" y1="79.00" x2="47.00" y2="80.10" stroke="#777" stroke-width="0.5" />
<line x1="49.50" y1="79.00" x2="49.50" y2="80.10" stroke="#777" stroke-width="0.5" />
<line x1="52.00" y1="79.00" x2="52.00" y2="80.10" stroke="#777" stroke-width="0.5" />
<line x1="54.00" y1="79.00" x2="54.00" y2="80.10" stroke="#777" stroke-width="0.5" />
<line x1="57.00" y1="79.00" x2="57.00" y2="80.10" stroke="#777" stroke-width="0.5" />
<line x1="60.50" y1="79.00" x2="60.50" y2="80.10" stroke="#777" stroke-width="0.5" />
<line x1="64.00" y1="79.00" x2="64.00" y2="80.10" stroke="#777" stroke-width="0.5" />
<line x1="69.00" y1="79.00" x2="69.00" y2="80.10" stroke="#777" stroke-width="0.5" />
<line x1="74.00" y1="79.00" x2="74.00" y2="80.10" stroke="#777" stroke-width="0.5" />
<line x1="79.00" y1="79.00" x2="79.00" y2="80.10" stroke="#777" stroke-width="0.5" />
<line x1="84.00" y1="79.00" x2="84.00" y2="80.10" stroke="#777" stroke-width="0.5" />
<line x1="89.00" y1="79.00" x2="89.00" y2="80.10" stroke="#777" stroke-width="0.5" />
<rect x="50.80" y="80.40" width="4.20" height="1.20" fill="#555" />
<path d="M57.9 56.2h0M61.5 57.1h0M57.8 58.4h0M56.0 64.2h0M59.1 68.7h0M49.1 64.5h0M56.1 64.8h0M54.7 56.7h0M64.1 61.5h0M62.0 67.9h0M59.4 60.0h0M62.1 68.8h0M59.6 66.0h0M53.5 65.9h0M66.7 75.2h0M71.5 57.4h0M56.9 70.8h0M64.4 70.6h0M46.9 62.3h0M59.1 64.0h0M56.4 59.0h0M58.0 58.4h0M57.0 58.5h0M54.5 60.4h0M68.8 59.3h0M57.6 64.3h0M55.3 54.4h0M60.7 67.3h0M50.5 63.6h0M60.7 59.5h0M68.5 61.6h0M59.5 74.0h0M59.6 53.9h0M78.1 72.5h0M68.0 64.7h0M68.8 61.8h0M67.9 70.3h0M63.2 61.4h0M59.0 59.3h0M58.7 59.4h0M62.0 63.8h0M58.5 65.1h0M76.0 64.7h0M60.5 67.0h0M49.3 70.1h0M62.4 60.9h0M66.8 62.5h0M54.8 61.9h0M55.2 63.6h0M59.6 62.9h0M52.5 57.2h0M72.2 76.9h0M68.6 69.6h0M72.2 70.1h0M68.6 55.0h0M61.6 61.6h0M65.7 66.1h0M69.1 60.1h0M61.9 70.0h0M59.7 71.5h0M64.8 66.3h0M62.1 68.4h0M54.3 59.6h0M55.8 72.6h0M58.8 61.3h0M60.5 60.5h0M47.7 63.2h0M54.7 63.0h0M55.7 69.1h0M61.2 69.6h0M59.5 55.3h0M64.5 58.5h0M56.9 75.4h0M65.5 69.4h0M58.4 56.2h0M59.0 74.4h0M61.0 65.5h0M71.2 51.1h0M69.3 66.5h0M61.5 64.7h0M59.7 70.4h0M45.3 59.0h0M57.8 59.3h0M66.6 57.3h0M51.2 73.0h0M54.0 60.1h0M61.7 51.9h0M74.6 62.5h0M61.6 69.3h0M62.5 62.5h0M64.2 56.4h0M63.4 55.0h0M56.8 71.1h0M61.1 68.0h0M67.3 77.0h0M50.4 61.0h0M67.8 60.0h0M64.1 64.1h0M65.0 60.4h0M57.6 66.8h0M59.4 62.3h0M58.0 58.1h0M60.2 60.5h0M71.0 65.2h0M60.1 67.2h0M64.9 70.4h0M56.5 59.0h0M56.3 56.5h0M56.5 58.5h0M65.6 55.6h0M56.2 60.8h0M59.6 67.8h0M58.3 61.2h0M57.9 67.5h0M62.1 60.4h0M55.3 68.8h0M64.5 71.9h0M69.4 57.1h0M52.1 72.4h0M64.4 61.6h0M58.7 54.9h0M57.7 67.0h0M54.0 58.6h0M62.0 73.5h0M67.8 61.9h0M55.3 65.2h0M61.2 63.6h0M62.7 70.5h0M60.6 64.2h0M72.8 48.8h0M62.5 51.0h0M61.8 64.2h0M65.3 59.0h0M72.7 55.6h0M62.9 56.3h0M65.6 63.7h0M63.9 62.1h0M66.2 60.2h0M69.4 71.4h0M54.6 61.8h0M48.1 49.4h0M56.6 63.9h0M68.1 62.8h0M59.8 69.7h0M68.1 63.4h0M75.3 72.8h0M49.3 65.3h0M64.4 71.5h0M53.9 63.8h0M57.2 70.6h0M54.4 74.7h0M53.3 63.8h0M51.3 61.7h0M60.5 68.5h0M64.3 60.4h0M52.7 67.5h0M52.6 65.8h0M58.4 71.8h0M58.6 51.9h0M61.7 54.6h0M64.0 58.2h0M66.5 69.9h0M59.5 67.7h0M50.8 58.5h0M59.6 63.9h0M70.0 61.5h0M64.4 65.6h0M50.3 52.3h0M76.6 73.6h0M67.2 66.8h0M51.4 57.6h0M58.9 54.5h0M64.2 56.9h0M63.0 58.8h0M63.4 69.6h0M60.4 64.5h0M51.0 61.2h0M48.9 74.2h0M61.4 64.9h0M67.0 65.7h0M63.9 63.6h0M64.1 66.6h0M53.6 71.5h0M61.4 60.2h0M66.4 65.3h0M51.8 75.3h0M60.1 57.8h0M61.5 65.5h0M55.4 57.7h0M68.3 59.4h0M57.9 65.7h0M68.9 67.1h0M64.7 50.3h0M57.0 70.6h0M47.4 67.5h0M61.8 73.4h0M52.6 66.7h0M60.8 66.6h0M57.5 64.6h0M64.8 61.3h0M56.8 56.6h0M67.9 65.0h0M67.3 63.5h0M63.3 63.9h0M64.0 53.8h0M53.8 61.5h0M57.1 65.5h0M52.8 71.5h0M52.2 57.8h0M56.7 65.5h0M57.8 63.3h0M71.8 61.7h0M56.1 61.2h0M63.6 63.3h0M59.1 73.7h0M48.7 69.2h0M69.2 60.7h0M61.7 69.2h0M65.8 66.1h0M66.1 64.1h0M68.2 77.0h0M66.1 71.6h0M62.3 64.5h0M74.0 65.0h0M59.7 68.6h0M67.7 60.2h0M61.4 57.6h0M61.4 62.2h0M68.1 60.8h0M52.6 67.0h0M61.9 59.3h0M66.9 60.9h0M61.8 67.3h0M54.2 64.8h0M68.4 59.6h0M47.1 62.9h0M46.2 49.9h0M65.6 63.5h0M61.8 69.3h0M54.8 65.0h0M61.4 69.3h0M65.8 59.3h0M66.4 59.8h0M50.2 69.3h0M53.2 57.5h0M57.8 59.3h0M51.7 57.8h0M48.4 57.9h0M62.1 70.6h0M62.4 55.4h0M67.0 57.4h0M65.6 62.6h0M54.4 67.5h0M61.5 59.2h0M60.4 68.3h0M60.1 63.0h0M64.0 60.6h0M56.5 56.3h0M53.3 67.9h0M59.6 67.7h0M56.2 59.7h0M56.9 68.8h0M59.8 64.9h0M51.5 65.8h0M67.1 62.7h0M62.3 58.3h0M60.7 61.7h0M54.5 73.3h0M57.6 72.5h0M46.2 69.0h0M56.9 60.5h0M54.1 66.5h0M49.1 72.6h0M64.2 73.0h0M74.1 67.7h0M64.4 59.4h0M71.9 58.9h0M54.3 63.5h0M57.3 54.6h0M61.3 58.0h0M57.1 64.1h0M48.5 58.1h0M64.0 60.9h0M51.7 58.3h0M56.4 66.3h0M53.0 69.5h0M49.6 73.0h0M59.3 64.9h0M65.9 48.7h0M71.4 62.5h0M53.0 66.2h0M51.8 67.2h0M63.2 75.8h0M59.7 60.2h0M58.0 58.2h0M64.6 60.5h0M58.1 58.8h0M70.3 56.0h0M60.9 65.5h0M65.1 63.5h0M54.1 70.6h0M56.9 69.7h0M57.9 58.7h0M61.3 48.7h0M67.8 58.8h0M65.2 62.3h0M58.6 57.5h0M51.2 66.1h0M65.3 71.9h0M59.3 61.7h0M68.4 63.5h0M62.1 61.5h0M65.3 63.3h0M58.8 64.2h0M61.2 64.2h0M60.0 67.6h0M55.0 57.2h0M65.0 65.7h0M63.7 75.6h0M56.0 57.8h0M63.0 65.8h0M53.6 61.1h0M57.8 58.6h0M58.8 58.6h0M60.1 66.2h0M50.0 58.6h0M62.2 61.7h0M45.8 59.7h0M71.8 63.4h0M51.2 65.6h0M61.9 68.1h0M64.3 59.0h0M60.7 62.2h0M59.5 62.8h0M65.0 61.4h0M51.1 66.3h0M62.8 60.1h0M53.7 61.3h0M64.4 69.2h0M60.3 61.3h0M64.3 70.2h0M59.1 60.8h0M56.0 62.7h0M67.3 54.0h0M70.4 63.8h0M59.5 73.4h0M65.3 55.3h0M51.1 64.4h0M61.8 61.6h0M55.3 66.4h0M63.4 59.6h0M50.4 66.2h0M66.2 63.1h0M62.6 57.4h0M59.4 66.6h0M60.6 52.8h0M67.1 62.6h0M56.7 60.9h0M59.3 67.0h0M67.1 63.8h0M63.7 71.9h0M59.5 61.3h0M70.5 53.6h0M69.7 68.4h0M58.0 59.4h0M60.6 65.5h0M63.9 58.1h0M48.6 61.8h0M70.2 57.4h0M64.8 61.2h0M64.1 60.0h0M55.2 52.0h0M55.5 56.1h0M62.6 65.8h0M59.1 62.5h0M59.2 58.3h0M67.3 55.1h0M53.0 65.0h0M71.6 62.9h0M60.0 60.4h0M66.5 59.6h0M72.9 61.9h0M66.3 66.0h0M67.2 58.3h0M75.5 61.2h0M66.6 64.4h0M66.4 56.1h0M61.7 77.2h0M55.0 70.4h0M58.7 75.1h0M52.4 59.1h0M67.8 64.0h0M62.8 61.8h0M56.9 55.6h0M63.9 69.4h0M59.6 54.1h0M63.0 65.6h0M65.7 56.9h0M58.9 62.8h0M64.0 64.5h0M63.1 61.0h0M59.4 61.9h0M67.8 59.3h0M49.8 68.5h0M71.4 67.8h0M70.8 51.2h0M67.1 65.6h0M66.6 61.5h0M56.1 69.6h0M50.6 72.3h0M64.1 62.1h0M63.7 72.4h0M64.6 51.1h0M77.4 60.7h0M59.5 68.8h0M63.9 71.7h0M62.2 65.9h0M60.4 58.8h0M50.7 66.4h0M63.9 58.0h0M60.8 66.3h0M54.1 67.9h0M56.5 75.0h0M67.4 60.7h0M60.4 60.6h0M58.0 65.2h0M59.8 60.8h0M56.2 72.6h0M71.9 68.2h0M52.0 60.0h0M53.4 69.3h0M71.0 68.4h0M65.6 66.1h0M52.4 70.9h0M60.9 54.7h0M63.5 62.5h0M50.2 65.5h0M54.3 61.2h0M66.2 54.2h0M58.1 66.3h0M69.2 56.7h0M57.7 58.7h0M66.3 66.7h0M80.1 58.3h0M55.1 68.5h0M60.5 60.6h0M59.9 69.5h0M62.7 58.5h0M58.7 77.5h0M71.1 68.2h0M66.1 59.7h0M63.0 58.6h0M51.3 63.7h0M62.9 56.5h0M60.1 57.4h0M61.6 67.5h0M54.4 59.3h0M58.7 64.1h0M62.9 56.9h0M62.8 67.2h0M74.6 57.5h0M54.9 65.4h0M72.2 54.5h0M66.0 71.2h0M73.2 72.3h0M61.6 65.7h0M62.3 60.9h0M65.4 61.0h0M68.6 62.4h0M65.9 58.7h0M67.2 57.8h0M51.7 57.0h0M73.6 75.0h0M65.2 57.3h0M57.6 65.3h0M65.4 71.7h0M51.5 59.8h0M62.4 63.2h0M59.1 66.7h0M55.6 63.8h0M67.2 59.9h0M60.2 58.4h0M51.2 75.9h0M70.8 58.3h0M46.9 70.1h0M76.2 73.7h0M65.3 61.3h0M58.6 71.4h0M64.9 76.3h0M58.0 68.6h0M75.0 59.8h0M65.7 61.8h0M45.9 68.6h0M62.2 66.0h0M66.8 55.6h0M62.9 62.8h0M55.8 65.1h0M68.6 51.4h0M54.5 60.1h0M61.0 69.0h0M67.7 76.1h0M69.9 60.0h0M63.8 61.2h0M58.7 63.9h0M55.9 72.6h0M58.3 68.6h0M54.3 64.3h0M58.6 66.7h0M65.5 67.4h0M55.7 54.2h0M60.9 65.9h0M67.7 68.3h0M61.2 55.6h0M68.1 57.2h0M65.4 55.4h0M66.0 62.8h0M58.1 73.8h0M49.0 58.9h0M56.4 69.3h0M56.6 66.3h0M65.5 65.5h0M54.6 68.4h0M64.9 70.9h0M71.0 70.3h0M57.4 60.8h0M69.2 61.7h0M68.4 59.0h0M58.4 69.1h0M51.7 58.9h0M59.4 56.8h0M72.1 63.8h0M68.4 66.5h0M68.7 60.7h0M58.3 56.6h0M61.7 61.9h0M73.4 58.7h0M63.1 74.4h0M58.1 59.1h0M61.5 66.6h0M63.7 59.9h0M66.1 64.1h0M57.3 60.9h0M50.1 61.3h0M61.7 65.2h0M61.3 64.9h0M61.6 63.3h0M63.2 57.4h0M54.9 71.4h0M65.8 59.1h0M61.3 73.5h0M55.7 65.8h0M56.1 62.3h0M64.0 56.7h0M58.2 68.7h0M60.6 68.4h0M73.4 57.7h0M67.5 66.2h0M64.8 53.3h0M63.4 51.8h0M63.7 50.2h0M57.5 49.4h0M66.3 67.4h0M59.5 75.2h0M53.4 62.5h0M80.3 64.4h0M80.9 60.0h0M68.8 67.5h0M57.1 57.1h0M58.0 72.1h0M48.5 74.6h0M59.7 73.1h0M57.7 65.8h0M64.1 61.1h0M61.4 72.0h0M52.6 63.4h0M65.8 63.0h0M56.9 54.0h0M64.2 70.9h0M59.3 51.7h0M60.6 63.2h0M51.5 64.5h0M58.7 71.9h0M76.2 64.1h0M57.7 57.4h0" stroke="#6670cc" stroke-width="0.64" stroke-linecap="round" stroke-opacity="0.42"/>
<path d="M63.6 60.6h0M55.3 66.5h0M61.3 55.9h0M53.2 63.2h0M57.1 63.9h0M54.6 58.0h0M57.5 64.7h0M59.9 55.4h0M59.2 58.2h0M61.4 72.1h0M57.8 61.1h0M53.2 61.5h0M56.0 61.9h0M58.7 53.3h0M57.8 65.4h0M52.9 63.7h0M56.7 54.2h0M51.0 65.9h0M60.2 57.8h0M54.4 69.2h0M57.2 74.2h0M57.7 71.9h0M55.0 63.6h0M58.2 59.9h0M55.9 58.8h0M62.3 62.7h0M59.2 58.4h0M53.7 58.8h0M54.8 61.9h0M57.5 63.5h0M54.3 60.8h0M60.5 64.0h0M57.2 71.4h0M54.9 69.4h0M53.2 66.4h0M57.6 61.4h0M53.4 58.8h0M49.5 61.9h0M53.2 76.1h0M61.9 61.3h0M56.8 62.9h0M53.4 54.6h0M58.9 52.8h0M57.3 57.3h0M55.4 59.2h0M59.8 57.9h0M57.1 63.3h0M54.8 65.5h0M62.8 67.9h0M54.5 57.1h0M59.8 54.6h0M60.2 59.2h0M56.8 56.2h0M59.3 61.9h0M62.3 59.5h0M57.5 66.3h0M63.2 62.9h0M62.6 65.0h0M60.8 63.4h0M53.9 71.9h0M51.7 68.0h0M53.0 59.7h0M57.3 57.2h0M61.8 65.9h0M62.5 51.5h0M56.4 65.6h0M59.6 49.1h0M55.1 62.7h0M54.2 57.4h0M55.5 68.4h0M52.4 53.1h0M51.8 56.9h0M56.3 60.9h0M53.2 63.6h0M52.3 59.8h0M54.5 63.6h0M53.1 67.7h0M56.6 53.3h0M58.3 68.9h0M55.6 60.2h0M54.5 57.5h0M53.2 61.3h0M52.6 57.2h0M55.3 65.1h0M58.5 68.6h0M58.8 66.5h0M62.8 66.0h0M57.8 61.3h0M53.3 57.9h0M55.2 62.3h0M57.9 59.5h0M57.1 60.2h0M54.5 71.7h0M50.5 56.3h0M49.1 61.8h0M58.8 60.1h0M57.1 60.8h0M57.1 65.8h0M61.7 53.2h0M51.0 58.4h0M52.6 57.1h0M55.2 60.8h0M57.8 59.5h0M56.7 62.6h0M56.4 60.0h0M54.4 50.2h0M55.9 63.2h0M54.0 69.8h0M52.4 70.9h0M54.1 67.0h0M56.5 69.0h0M53.4 66.6h0M57.3 73.6h0M56.5 52.9h0M57.5 70.0h0M59.5 60.0h0M53.3 56.8h0M57.4 59.9h0M55.6 57.5h0M49.4 62.8h0M54.5 57.6h0M49.9 53.4h0M54.7 66.8h0M58.1 61.8h0M60.5 57.6h0M56.5 61.6h0M52.4 63.7h0M55.1 60.2h0M57.4 68.7h0M52.8 59.3h0M58.8 65.2h0M54.3 58.2h0M55.3 61.4h0M60.3 68.2h0M60.2 56.3h0M55.4 58.1h0M54.5 60.9h0M57.6 67.6h0M53.5 56.3h0M57.0 65.8h0M55.4 58.0h0M54.8 58.5h0M53.0 69.0h0M60.0 65.3h0M54.8 63.7h0M55.4 64.4h0M59.0 62.9h0M49.5 62.0h0M58.7 60.5h0M57.3 50.8h0M54.2 55.9h0M55.0 60.1h0M56.3 69.8h0M56.4 58.3h0M54.1 65.5h0M52.5 66.8h0M58.0 61.0h0M59.0 57.2h0M57.5 63.8h0M58.1 64.0h0M54.6 55.7h0M57.7 67.6h0M51.3 68.5h0M58.3 52.8h0M57.0 62.9h0M56.5 58.0h0M60.7 67.4h0M62.2 59.0h0M54.5 63.6h0M54.7 66.4h0M51.7 57.6h0M55.5 61.4h0M55.9 58.0h0M52.2 56.7h0M53.1 76.5h0M55.4 54.5h0M57.4 68.1h0M55.3 55.3h0M59.8 59.8h0M56.9 71.4h0M49.5 66.3h0M57.7 56.2h0M56.5 69.0h0M57.1 61.9h0M55.1 66.2h0M55.7 66.3h0M51.6 66.3h0M59.9 70.7h0M54.2 59.4h0M58.5 52.5h0M58.2 62.0h0M54.8 66.0h0M55.0 56.8h0M55.4 70.8h0M59.0 63.1h0M53.6 60.9h0M55.1 50.8h0M54.3 54.9h0M58.6 68.4h0M59.9 56.5h0M56.7 47.3h0M54.8 66.0h0M50.2 53.2h0M56.7 60.7h0M50.4 59.0h0M53.7 60.7h0M58.3 56.3h0M57.9 60.2h0M53.1 66.4h0M55.1 57.1h0M51.9 67.3h0M57.2 64.5h0M55.6 67.1h0M53.9 72.1h0M49.6 64.9h0M51.2 62.0h0M55.5 49.6h0M56.6 61.1h0M54.9 57.5h0M53.1 58.8h0M54.7 59.5h0M54.3 68.4h0M61.1 57.1h0M54.5 59.1h0M58.2 69.9h0M55.7 54.6h0M60.1 67.5h0M51.2 70.2h0M56.3 65.2h0M56.4 66.5h0M60.7 60.7h0M56.9 61.3h0M59.9 62.2h0M58.7 68.5h0M51.5 65.1h0M53.0 50.3h0M50.7 59.2h0M60.3 76.9h0M53.8 58.4h0M56.4 66.3h0M55.9 59.7h0M57.0 48.3h0M60.2 62.2h0M54.8 53.4h0M56.8 65.3h0M58.4 55.9h0M54.9 68.6h0M61.6 59.8h0" stroke="#5a66cc" stroke-width="0.64" stroke-linecap="round" stroke-opacity="0.5"/>
<path d="M69.1 64.6h0M81.2 69.6h0M64.1 70.0h0M69.9 71.0h0M76.9 66.3h0M82.0 61.2h0M81.6 64.0h0M73.9 71.2h0M77.6 68.1h0M67.8 68.5h0M65.8 69.4h0M67.2 63.7h0M73.7 67.2h0M79.8 65.6h0M90.8 64.5h0M73.3 69.0h0M76.2 63.4h0M70.0 65.5h0M77.5 69.4h0M78.1 64.2h0M76.5 70.4h0M75.2 72.8h0M74.6 68.3h0M66.6 70.9h0M78.9 64.8h0M76.8 69.4h0M62.1 64.2h0M77.4 69.9h0M78.3 70.1h0M86.3 66.9h0M82.2 66.6h0M80.2 71.9h0M75.6 65.4h0M79.6 64.4h0M68.5 69.4h0M67.1 70.8h0M71.4 71.1h0M80.3 61.9h0M63.5 63.1h0M67.3 68.0h0M74.7 69.4h0M66.5 66.1h0M79.8 70.2h0M73.5 64.1h0M74.9 67.6h0M90.7 66.1h0M63.9 73.4h0M78.7 70.6h0M71.8 73.6h0M74.7 65.2h0M79.4 68.3h0M69.2 65.6h0M75.5 70.3h0M73.1 67.1h0M80.9 70.1h0M75.4 67.9h0M75.3 67.4h0M84.0 67.8h0M73.4 67.9h0M82.4 71.3h0M69.9 69.5h0M71.2 62.6h0M78.2 68.2h0M78.7 66.0h0M84.2 66.9h0M79.3 63.7h0M79.7 67.9h0M88.9 66.1h0M73.8 71.0h0M72.2 69.7h0M82.9 66.8h0M74.7 66.5h0M77.2 69.2h0M72.2 67.6h0M84.2 69.4h0M73.1 67.3h0M80.7 68.5h0M80.3 67.1h0M90.0 70.3h0M68.3 76.1h0M79.0 68.4h0M71.0 70.8h0M78.3 68.4h0M76.3 77.2h0M77.5 70.7h0M75.6 68.7h0M73.5 74.8h0M75.1 68.5h0M80.8 68.7h0M83.8 74.9h0M78.5 71.2h0M66.3 64.7h0M70.2 66.0h0M72.1 67.7h0M81.5 67.7h0M66.3 69.2h0M81.4 59.8h0M79.5 65.8h0M82.0 67.2h0M77.5 71.1h0M77.3 66.2h0M68.4 66.3h0M72.6 68.0h0M79.2 73.5h0M84.5 69.8h0M71.9 65.9h0M74.1 69.2h0M77.6 65.2h0M74.6 65.0h0M77.8 62.2h0M80.0 73.2h0M85.4 68.3h0M61.2 66.1h0M67.7 66.2h0M76.4 75.2h0M82.8 65.5h0M89.7 67.4h0M78.6 62.3h0M73.5 67.8h0M81.5 74.6h0M74.5 67.2h0M76.2 66.5h0M76.7 69.0h0M71.7 70.7h0M81.1 65.5h0M80.6 64.8h0M80.2 67.1h0M72.0 68.8h0M76.7 68.7h0M69.5 74.7h0M77.4 73.2h0M82.6 68.5h0M72.4 69.9h0M77.0 71.9h0M75.4 66.1h0M72.5 68.0h0M69.9 71.5h0M68.4 68.7h0M78.3 69.3h0M70.9 65.6h0M81.4 66.0h0M74.6 69.0h0M80.6 64.7h0M89.5 64.0h0M61.5 69.4h0M71.9 73.6h0M71.6 67.0h0M73.0 70.4h0M69.6 66.9h0M73.1 66.6h0M81.5 69.2h0M73.0 68.4h0M80.9 67.1h0M78.9 72.1h0M80.5 69.8h0M72.1 65.0h0M78.1 69.0h0M74.5 70.3h0M89.0 61.3h0M72.5 71.7h0M72.4 68.5h0M76.6 63.6h0M83.7 62.9h0M76.8 67.4h0M71.0 65.7h0M75.0 69.1h0M78.7 69.6h0M78.0 67.8h0M84.9 63.6h0M76.8 69.0h0M64.5 69.6h0M72.0 74.2h0M74.0 61.0h0M65.0 67.6h0M77.7 67.6h0M73.5 73.8h0M82.0 69.1h0M75.1 65.6h0M74.7 71.3h0M76.3 68.0h0M62.2 71.0h0M79.0 63.6h0M84.1 74.7h0M69.2 70.9h0M68.9 69.9h0M70.4 71.8h0M71.7 67.5h0M76.3 64.6h0M70.8 72.2h0M78.5 65.3h0M79.2 62.1h0M73.3 69.6h0M74.4 76.6h0M74.6 72.6h0M81.8 69.3h0M72.8 73.6h0M77.2 70.1h0M90.3 76.3h0M74.9 71.8h0M72.8 69.4h0M76.6 71.8h0M88.0 69.2h0M75.1 68.6h0M73.5 72.9h0M72.6 67.0h0M78.6 66.2h0M88.8 68.7h0M67.9 67.8h0M78.5 67.8h0M86.2 69.4h0M71.8 66.6h0M75.8 68.7h0M86.4 66.8h0M68.8 59.9h0M78.6 66.3h0M74.8 64.3h0M76.6 65.6h0M79.4 66.5h0M80.5 70.9h0" stroke="#5a66cc" stroke-width="0.64" stroke-linecap="round" stroke-opacity="0.45"/>
<ellipse cx="52.40" cy="62.30" rx="2.90" ry="10.60" fill="#3a52c8" fill-opacity="0.9" filter="url(#b06)"/>
<ellipse cx="52.40" cy="62.80" rx="2.00" ry="8.60" fill="#1fb7a0" fill-opacity="0.95" filter="url(#b05)"/>
<ellipse cx="52.45" cy="61.00" rx="1.50" ry="6.40" fill="#4cc850" fill-opacity="1.0" filter="url(#b05)"/>
<ellipse cx="52.50" cy="58.80" rx="1.30" ry="3.80" fill="#e5e030" fill-opacity="1.0" filter="url(#b04)"/>
<ellipse cx="52.50" cy="57.50" rx="0.95" ry="2.00" fill="#e83a1e" fill-opacity="1.0" filter="url(#b03)"/>
<ellipse cx="81.20" cy="69.20" rx="4.80" ry="2.60" fill="#3a5cd0" fill-opacity="0.9" filter="url(#b06)" transform="rotate(-8 81.20 69.20)"/>
<ellipse cx="81.60" cy="69.00" rx="3.00" ry="1.60" fill="#2fb0e8" fill-opacity="1.0" filter="url(#b05)" transform="rotate(-8 81.60 69.00)"/>
<rect x="44.40" y="45.30" width="43.20" height="31.00" fill="none" stroke="#6a6a6a" stroke-width="0.7" />
<rect x="62.20" y="61.50" width="26.50" height="14.80" fill="none" stroke="#222" stroke-width="0.85" />
<line x1="74.10" y1="48.20" x2="116.50" y2="48.20" stroke="#000" stroke-width="2.0" />
<polygon points="115.6,43.90 121.3,48.20 115.6,52.50" fill="#000"/>
<line x1="74.10" y1="72.40" x2="116.50" y2="72.40" stroke="#000" stroke-width="2.0" />
<polygon points="115.6,68.10 121.3,72.40 115.6,76.70" fill="#000"/>
<text transform="translate(40.90,58.80) rotate(-90)" font-size="9.9" fill="#333" text-anchor="middle" textLength="20.20" lengthAdjust="spacingAndGlyphs" >CD27</text>
<text x="54.20" y="92.40" font-size="10.2" fill="#333" text-anchor="start" textLength="20.20" lengthAdjust="spacingAndGlyphs" >CD57</text>
<rect x="126.40" y="43.40" width="10.00" height="9.40" fill="#c41e3a" />
<rect x="126.60" y="67.00" width="10.00" height="9.40" fill="#29abe2" />
<text x="144.00" y="50.60" font-size="8.3" fill="#111" text-anchor="start" textLength="92.00" lengthAdjust="spacingAndGlyphs" >Remaining CD4<tspan font-size="5.5" dy="-3">+</tspan><tspan dy="3"> T cells</tspan></text>
<text x="144.00" y="74.70" font-size="8.3" fill="#111" text-anchor="start" textLength="107.00" lengthAdjust="spacingAndGlyphs" >CD57<tspan font-size="5.5" dy="-3">+</tspan><tspan dy="3">/CD27</tspan><tspan font-size="5.5" dy="-3">&#8722;</tspan><tspan dy="3"> CD4</tspan><tspan font-size="5.5" dy="-3">+</tspan><tspan dy="3"> T cells</tspan></text>
<rect x="276.40" y="34.60" width="47.60" height="46.60" fill="none" stroke="#9c9c9c" stroke-width="1.3" rx="0.8"/>
<line x1="276.10" y1="44.85" x2="277.00" y2="44.85" stroke="#444" stroke-width="0.9" />
<line x1="276.10" y1="49.51" x2="277.00" y2="49.51" stroke="#444" stroke-width="0.9" />
<line x1="276.10" y1="54.17" x2="277.00" y2="54.17" stroke="#444" stroke-width="0.9" />
<line x1="276.10" y1="58.83" x2="277.00" y2="58.83" stroke="#444" stroke-width="0.9" />
<line x1="276.10" y1="63.49" x2="277.00" y2="63.49" stroke="#444" stroke-width="0.9" />
<line x1="276.10" y1="68.15" x2="277.00" y2="68.15" stroke="#444" stroke-width="0.9" />
<line x1="276.10" y1="72.81" x2="277.00" y2="72.81" stroke="#444" stroke-width="0.9" />
<line x1="276.10" y1="77.47" x2="277.00" y2="77.47" stroke="#444" stroke-width="0.9" />
<line x1="279.26" y1="80.70" x2="279.26" y2="81.50" stroke="#555" stroke-width="0.8" />
<line x1="283.78" y1="80.70" x2="283.78" y2="81.50" stroke="#555" stroke-width="0.8" />
<line x1="288.30" y1="80.70" x2="288.30" y2="81.50" stroke="#555" stroke-width="0.8" />
<line x1="292.82" y1="80.70" x2="292.82" y2="81.50" stroke="#555" stroke-width="0.8" />
<line x1="297.34" y1="80.70" x2="297.34" y2="81.50" stroke="#555" stroke-width="0.8" />
<line x1="301.87" y1="80.70" x2="301.87" y2="81.50" stroke="#555" stroke-width="0.8" />
<line x1="306.39" y1="80.70" x2="306.39" y2="81.50" stroke="#555" stroke-width="0.8" />
<line x1="310.91" y1="80.70" x2="310.91" y2="81.50" stroke="#555" stroke-width="0.8" />
<line x1="315.43" y1="80.70" x2="315.43" y2="81.50" stroke="#555" stroke-width="0.8" />
<line x1="319.95" y1="80.70" x2="319.95" y2="81.50" stroke="#555" stroke-width="0.8" />
<rect x="282.11" y="81.00" width="3.50" height="1.00" fill="#555" />
<path d="M283.1 69.3h0M284.6 62.2h0M280.5 69.0h0M287.4 70.9h0M286.5 65.4h0M282.7 70.1h0M282.6 67.8h0M283.1 63.8h0M286.9 65.5h0M278.7 56.0h0M283.9 65.3h0M288.2 70.8h0M287.5 63.9h0M287.1 68.9h0M284.4 72.5h0M280.0 71.0h0M286.3 63.0h0M282.5 70.5h0M284.9 61.2h0M284.0 64.3h0M281.1 62.9h0M286.2 67.4h0M279.4 64.7h0M286.3 68.4h0M289.1 63.6h0M282.6 61.0h0M287.2 70.7h0M286.0 71.2h0M283.8 64.0h0M283.2 70.9h0M275.6 64.3h0M289.0 62.5h0M289.3 72.8h0M289.1 66.5h0M287.6 68.0h0M284.5 65.5h0M285.5 63.9h0M283.4 72.0h0M284.5 64.4h0M285.8 63.4h0M281.9 67.2h0M285.5 68.1h0M284.6 70.2h0M284.8 68.5h0M282.8 65.7h0M288.0 63.8h0M285.6 71.5h0M280.6 63.5h0M283.3 67.3h0M281.7 66.6h0M283.0 63.7h0M281.6 65.5h0M285.8 64.8h0M280.4 68.5h0M283.0 67.4h0M284.2 65.9h0M285.2 71.1h0M286.5 67.0h0M286.8 62.9h0M283.6 68.1h0M283.6 72.0h0M284.4 62.6h0M282.6 67.5h0M284.2 66.3h0M284.7 60.5h0M280.5 66.1h0M282.5 70.5h0M283.4 65.4h0M286.4 68.3h0M286.2 68.3h0M290.1 66.8h0M287.2 65.1h0M282.7 65.2h0M288.2 66.2h0M283.8 65.3h0M281.5 69.9h0M283.0 60.6h0M283.8 64.7h0M288.4 63.8h0M287.0 69.1h0M277.5 66.5h0M284.4 64.9h0M283.5 70.6h0M286.9 61.7h0M285.4 67.1h0M285.6 67.3h0M275.9 70.0h0M283.2 65.7h0M285.4 64.0h0M284.3 63.8h0M281.3 70.3h0M283.3 65.0h0M283.7 67.8h0M287.5 69.9h0M280.3 65.8h0M284.7 62.9h0M283.4 66.1h0M286.5 64.7h0M279.9 69.6h0M283.9 69.0h0M286.2 70.7h0M278.6 74.1h0M282.0 61.5h0M283.6 66.1h0M282.4 66.6h0M286.3 61.7h0M284.8 66.7h0M286.0 64.9h0M283.9 65.7h0M280.5 64.7h0M283.7 65.8h0M281.2 63.5h0M285.2 65.7h0M285.7 72.9h0M282.1 70.4h0M281.4 62.8h0M284.8 66.7h0M278.0 69.1h0M280.7 60.0h0M279.5 69.5h0M284.0 69.0h0M286.7 63.0h0M288.3 67.1h0M286.2 62.3h0M287.1 63.9h0M277.8 66.9h0M286.7 60.5h0M279.3 63.9h0M287.6 65.6h0M286.7 63.3h0M283.8 69.9h0M283.4 62.0h0M287.8 65.0h0M281.2 69.4h0M277.8 64.7h0M283.3 62.6h0M281.9 70.8h0M287.2 64.4h0M283.8 65.2h0M285.8 63.2h0M277.8 64.9h0M278.8 65.0h0M280.0 68.7h0M285.8 62.8h0M278.1 66.7h0M282.2 63.3h0M289.8 63.9h0M287.7 62.0h0M288.7 69.4h0M285.7 71.4h0M281.7 68.2h0M282.9 65.5h0M290.8 58.8h0M286.8 72.9h0M280.6 60.8h0M285.2 66.2h0M290.0 63.0h0M281.6 66.1h0M286.4 54.2h0M285.7 63.1h0M281.2 67.4h0M279.9 67.0h0M282.8 65.4h0M280.0 62.8h0M285.2 63.5h0M280.4 63.2h0M280.4 68.0h0M286.4 66.3h0M285.8 65.0h0M286.0 60.1h0M285.9 68.5h0M286.2 66.2h0M286.7 63.4h0M284.8 70.9h0M284.7 64.7h0M287.3 65.8h0M287.5 69.0h0M282.5 67.5h0M285.1 69.1h0M284.2 63.8h0M286.9 73.5h0M280.8 66.3h0M293.0 65.8h0M283.6 65.2h0M285.2 71.8h0M282.6 65.5h0M287.6 63.3h0M285.3 65.7h0M282.2 64.4h0M286.1 66.0h0M283.8 67.4h0M283.3 62.4h0M286.7 69.4h0M286.7 72.1h0M287.3 61.8h0M287.7 67.1h0M279.3 64.3h0M287.9 61.7h0M285.4 68.1h0M284.9 67.2h0M286.1 65.8h0M279.5 63.6h0M286.5 61.7h0M278.0 66.6h0M280.7 62.7h0M286.3 66.3h0M283.0 65.8h0M288.2 66.5h0M285.6 64.7h0M279.1 67.4h0M283.7 67.7h0M286.2 64.2h0M283.4 69.9h0M283.4 72.1h0M283.9 68.3h0M281.3 65.1h0M285.9 68.2h0M286.1 65.3h0M281.8 62.7h0M283.2 67.5h0M287.2 70.3h0M282.2 65.1h0M284.8 68.2h0M281.8 70.2h0M283.3 64.6h0M280.3 70.3h0M280.7 67.8h0M282.6 65.7h0M284.7 68.4h0M289.0 59.8h0M286.3 68.1h0M283.4 71.2h0M294.0 66.5h0M285.7 58.8h0M290.2 63.5h0M287.4 69.9h0M288.6 65.0h0M285.5 65.8h0M284.2 65.1h0M286.5 67.9h0M281.1 67.1h0M284.2 63.2h0M282.4 67.0h0M282.4 64.3h0M289.0 66.6h0M279.3 66.3h0M285.3 65.5h0M283.8 68.1h0M279.9 62.0h0M284.2 63.0h0M280.0 69.9h0M288.4 66.6h0M279.8 68.2h0M281.9 69.4h0M282.7 69.3h0M281.5 59.5h0M283.0 68.7h0M289.8 72.3h0M288.6 61.0h0M279.8 65.3h0" stroke="#e2383c" stroke-width="0.68" stroke-linecap="round" stroke-opacity="0.55"/>
<ellipse cx="284.30" cy="66.10" rx="3.50" ry="4.10" fill="#e2383c" fill-opacity="1.0" filter="url(#b06)"/>
<path d="M301.3 64.3h0M293.3 69.5h0M293.8 61.9h0M293.1 66.0h0M290.7 63.5h0M295.5 66.5h0M295.1 62.4h0M297.8 61.7h0M295.6 58.7h0M302.1 61.0h0M291.1 60.8h0M299.0 59.2h0M305.5 61.2h0M293.1 58.9h0M295.6 72.6h0M294.4 62.8h0M290.5 62.5h0M296.8 55.8h0M298.8 57.5h0M296.1 52.8h0M290.5 63.0h0M291.6 67.4h0M292.7 59.5h0M294.6 61.1h0M295.6 65.9h0M298.1 60.3h0M293.0 61.6h0M299.5 62.4h0M298.6 59.4h0M290.4 61.0h0M288.3 57.5h0M299.2 58.9h0M298.3 63.2h0M289.1 59.0h0M298.6 57.3h0M287.8 62.3h0M289.3 61.6h0M294.6 65.1h0M288.5 59.5h0M302.4 67.3h0M292.7 67.2h0M294.0 55.7h0M294.3 67.0h0M289.6 54.6h0M300.6 62.0h0M289.3 63.8h0M292.1 61.1h0M295.1 62.1h0M291.3 54.4h0M293.8 55.5h0M298.1 62.6h0M296.9 60.5h0M294.2 52.9h0M297.4 63.3h0M296.9 66.1h0M291.8 60.2h0M289.5 59.2h0M301.3 58.6h0M292.1 60.6h0M303.8 63.5h0M291.7 65.5h0M300.5 60.8h0M299.6 56.2h0M288.5 61.1h0M300.8 61.0h0M301.1 58.6h0M293.6 61.1h0M296.6 63.8h0M295.9 59.9h0M289.0 66.8h0M293.7 62.4h0M297.0 61.4h0M300.5 66.6h0M287.7 69.4h0M294.5 63.4h0M287.8 59.2h0M289.5 66.0h0M288.8 61.6h0M293.3 62.1h0M294.0 63.7h0M298.6 62.7h0M294.2 53.6h0M298.0 62.1h0M299.6 60.6h0M289.9 64.4h0M294.1 65.2h0M296.8 59.9h0M287.8 60.5h0M294.8 63.8h0M294.2 65.8h0M294.4 60.9h0M294.7 66.4h0M295.6 58.8h0M292.9 60.0h0M288.1 65.6h0M295.4 66.4h0M295.3 57.1h0M292.7 56.8h0M298.4 66.0h0M298.4 59.9h0M292.6 68.9h0M290.3 55.0h0M295.4 66.5h0M294.9 68.4h0M302.1 58.9h0M290.8 57.6h0M298.8 64.6h0M296.4 63.3h0M305.2 63.8h0M299.4 65.5h0M296.3 59.3h0M299.7 60.2h0M291.3 72.9h0M292.7 61.9h0M295.9 57.9h0M296.0 65.6h0M289.9 61.3h0M293.3 61.4h0M296.3 59.8h0M293.7 61.5h0M294.0 72.1h0M290.3 50.9h0M295.5 59.2h0M295.3 58.3h0M299.6 60.6h0M293.0 64.2h0M293.3 60.4h0M288.6 58.1h0M294.9 64.4h0M296.2 68.5h0M290.1 63.0h0M298.8 63.2h0M298.8 61.3h0M304.6 60.2h0M297.1 64.8h0M293.9 66.3h0M294.2 63.4h0M296.4 67.2h0M294.6 63.1h0M286.9 64.2h0M295.5 62.1h0M297.8 67.4h0M294.9 61.9h0M290.4 60.8h0M291.0 61.3h0M291.6 60.4h0M287.2 60.2h0M290.1 62.1h0M296.1 63.7h0M296.5 62.0h0M298.6 55.3h0M296.5 61.7h0M289.5 56.2h0M289.0 66.0h0M292.1 61.0h0M303.2 63.0h0M298.2 61.6h0M298.1 57.9h0M299.3 69.8h0M297.6 59.2h0M290.3 66.0h0M296.1 58.5h0M290.5 59.9h0M289.7 67.7h0M295.2 61.8h0M296.4 62.0h0M291.1 67.3h0M305.2 56.2h0M300.0 63.8h0M293.9 62.9h0M295.6 64.0h0M303.5 62.7h0M296.9 56.4h0M301.1 63.0h0M289.4 62.1h0M300.0 66.6h0M291.1 55.1h0M294.3 61.0h0M299.6 67.3h0M303.8 66.5h0M299.0 67.1h0M302.8 55.9h0M293.7 59.0h0M289.2 61.5h0M295.8 58.2h0M291.8 61.2h0M297.6 63.8h0M295.0 62.1h0M291.8 60.1h0M292.3 69.3h0M294.2 66.2h0M284.8 63.9h0M303.0 64.2h0M295.7 61.7h0M293.9 61.7h0M300.5 65.4h0M300.6 53.0h0M286.7 58.7h0M288.2 67.6h0M296.5 62.4h0M294.6 65.6h0M294.4 61.0h0M291.7 62.7h0M292.9 68.7h0M299.4 65.2h0M295.5 56.4h0M297.6 65.9h0M296.7 65.9h0M297.9 68.2h0M296.0 67.8h0M297.1 63.2h0M299.6 56.6h0M293.7 62.6h0M292.1 57.0h0M296.8 68.6h0M293.2 64.8h0M295.4 61.2h0M294.2 56.2h0M289.6 57.7h0M290.3 63.9h0M293.2 63.2h0M293.5 60.5h0M295.2 59.7h0M290.0 63.5h0M295.9 57.9h0M293.1 68.8h0M290.2 68.6h0M294.9 67.8h0M301.7 60.8h0M297.4 60.1h0M286.1 58.9h0M300.7 56.3h0M289.6 65.1h0M305.2 65.7h0M289.6 62.7h0M297.0 58.9h0M292.7 60.2h0M300.9 62.2h0M297.8 55.7h0M295.7 64.5h0M296.3 68.4h0M290.8 56.3h0M294.2 62.3h0M288.2 64.4h0M296.6 62.5h0M297.5 64.4h0M286.0 57.6h0M295.1 56.4h0M295.6 63.8h0M299.4 67.2h0M301.4 58.7h0M297.4 64.3h0M297.4 59.3h0M292.6 59.7h0M295.4 63.0h0M292.7 62.2h0M291.7 61.7h0M295.3 61.8h0M296.0 61.2h0M292.5 61.2h0M293.6 59.5h0M288.9 64.2h0M292.7 59.2h0M296.7 59.5h0M296.2 66.0h0M291.1 64.4h0M293.8 63.6h0M299.2 61.0h0M295.6 67.9h0M298.1 64.8h0M297.8 61.7h0M294.9 62.4h0M305.0 62.4h0M297.6 63.0h0M292.1 52.8h0M287.6 66.8h0M293.9 54.9h0M294.5 61.2h0M292.0 62.1h0M293.5 60.4h0M300.0 64.7h0M295.1 71.0h0M299.5 61.7h0M284.6 66.2h0M289.5 63.1h0M291.1 63.0h0M293.0 60.3h0M295.2 64.0h0M296.2 68.1h0M297.2 67.1h0M292.1 62.6h0M285.7 55.8h0M292.1 67.2h0M297.2 65.3h0M291.7 69.9h0M291.1 65.1h0M290.9 65.0h0M296.2 60.9h0M295.6 66.9h0M299.0 66.0h0M298.3 67.0h0M290.6 66.0h0M295.8 65.4h0M289.5 67.9h0M299.8 63.5h0M290.0 57.5h0M290.7 62.7h0M296.1 62.3h0M296.2 72.3h0M302.1 61.0h0M300.5 64.4h0M298.5 66.0h0M296.5 62.6h0M294.1 55.9h0M296.8 58.7h0M296.4 61.3h0M291.3 62.6h0M294.4 51.8h0M292.5 64.1h0M295.2 57.0h0" stroke="#27b2e6" stroke-width="0.68" stroke-linecap="round" stroke-opacity="0.55"/>
<ellipse cx="294.30" cy="62.60" rx="6.40" ry="6.30" fill="#27b2e6" fill-opacity="1.0" filter="url(#b08)"/>
<ellipse cx="297.00" cy="59.50" rx="3.50" ry="3.50" fill="#27b2e6" fill-opacity="1.0" filter="url(#b06)"/>
<text transform="translate(272.20,60.90) rotate(-90)" font-size="12.14" fill="#333" text-anchor="middle" textLength="26.80" lengthAdjust="spacingAndGlyphs" >EOMES</text>
<text x="294.30" y="92.10" font-size="10.43" fill="#333" text-anchor="start" textLength="17.70" lengthAdjust="spacingAndGlyphs" >T-Bet</text>
<rect x="340.60" y="33.90" width="47.60" height="47.60" fill="none" stroke="#9c9c9c" stroke-width="1.3" rx="0.8"/>
<line x1="340.30" y1="44.37" x2="341.20" y2="44.37" stroke="#444" stroke-width="0.9" />
<line x1="340.30" y1="49.13" x2="341.20" y2="49.13" stroke="#444" stroke-width="0.9" />
<line x1="340.30" y1="53.89" x2="341.20" y2="53.89" stroke="#444" stroke-width="0.9" />
<line x1="340.30" y1="58.65" x2="341.20" y2="58.65" stroke="#444" stroke-width="0.9" />
<line x1="340.30" y1="63.41" x2="341.20" y2="63.41" stroke="#444" stroke-width="0.9" />
<line x1="340.30" y1="68.17" x2="341.20" y2="68.17" stroke="#444" stroke-width="0.9" />
<line x1="340.30" y1="72.93" x2="341.20" y2="72.93" stroke="#444" stroke-width="0.9" />
<line x1="340.30" y1="77.69" x2="341.20" y2="77.69" stroke="#444" stroke-width="0.9" />
<line x1="343.46" y1="81.00" x2="343.46" y2="81.80" stroke="#555" stroke-width="0.8" />
<line x1="347.98" y1="81.00" x2="347.98" y2="81.80" stroke="#555" stroke-width="0.8" />
<line x1="352.50" y1="81.00" x2="352.50" y2="81.80" stroke="#555" stroke-width="0.8" />
<line x1="357.02" y1="81.00" x2="357.02" y2="81.80" stroke="#555" stroke-width="0.8" />
<line x1="361.54" y1="81.00" x2="361.54" y2="81.80" stroke="#555" stroke-width="0.8" />
<line x1="366.07" y1="81.00" x2="366.07" y2="81.80" stroke="#555" stroke-width="0.8" />
<line x1="370.59" y1="81.00" x2="370.59" y2="81.80" stroke="#555" stroke-width="0.8" />
<line x1="375.11" y1="81.00" x2="375.11" y2="81.80" stroke="#555" stroke-width="0.8" />
<line x1="379.63" y1="81.00" x2="379.63" y2="81.80" stroke="#555" stroke-width="0.8" />
<line x1="384.15" y1="81.00" x2="384.15" y2="81.80" stroke="#555" stroke-width="0.8" />
<rect x="346.31" y="81.30" width="3.50" height="1.00" fill="#555" />
<path d="M355.4 70.0h0M353.1 72.0h0M355.5 69.2h0M352.4 69.0h0M350.5 70.0h0M354.4 73.8h0M364.9 74.4h0M351.3 71.0h0M360.3 74.4h0M352.1 70.7h0M357.4 70.4h0M350.9 71.3h0M352.0 70.2h0M356.0 72.5h0M350.8 71.9h0M345.3 74.2h0M350.6 71.8h0M352.5 72.3h0M354.9 71.0h0M352.7 74.2h0M355.2 73.9h0M347.4 75.1h0M356.1 71.7h0M348.9 72.1h0M356.8 70.7h0M360.7 71.4h0M355.5 74.5h0M342.5 71.9h0M350.5 72.8h0M349.8 73.6h0M353.3 70.8h0M363.2 69.8h0M354.4 69.2h0M346.1 67.9h0M359.4 71.0h0M351.0 71.1h0M349.4 71.8h0M353.3 72.4h0M354.8 70.4h0M355.6 72.5h0M349.5 68.9h0M358.9 73.1h0M352.3 70.1h0M361.9 73.0h0M348.2 73.7h0M341.6 73.2h0M358.2 72.1h0M347.3 70.2h0M352.7 71.2h0M346.5 70.8h0M353.2 71.4h0M350.9 74.4h0M357.4 70.0h0M351.2 70.4h0M346.6 68.2h0M348.4 73.7h0M355.7 74.9h0M359.1 73.9h0M342.4 72.3h0M358.8 72.8h0M354.8 70.3h0M350.4 75.7h0M364.5 71.7h0M345.5 69.3h0M351.7 70.8h0M347.0 69.5h0M350.4 68.5h0M363.4 71.4h0M365.8 70.5h0M358.7 72.5h0M350.7 70.6h0M351.0 71.9h0M351.5 72.6h0M350.1 70.6h0M362.4 71.7h0M359.0 74.0h0M350.2 73.9h0M355.0 70.5h0M353.3 73.7h0M361.0 72.9h0M358.7 72.4h0M354.4 72.5h0M343.7 68.9h0M353.1 70.7h0M353.9 71.9h0M361.2 71.5h0M361.1 70.6h0M356.1 69.6h0M352.1 72.6h0M350.9 70.3h0M359.3 71.8h0M352.7 70.5h0M348.9 73.0h0M355.7 71.3h0M355.6 69.2h0M352.9 74.0h0M357.9 73.0h0M354.5 71.9h0M362.1 73.2h0M359.2 68.6h0M360.7 69.9h0M356.1 69.2h0M356.3 71.9h0M345.1 71.6h0M358.2 72.1h0M353.0 72.1h0M353.1 73.0h0M357.1 69.8h0M357.5 72.2h0M351.2 71.3h0M353.5 71.0h0M364.2 72.0h0M349.8 72.3h0M353.4 69.9h0M348.7 71.2h0M356.3 70.3h0M358.8 72.7h0M349.9 69.8h0M359.6 74.0h0M353.4 71.8h0M354.5 73.2h0M351.8 74.0h0M349.4 69.8h0M355.7 71.0h0M351.6 69.6h0M356.6 74.0h0M351.7 73.5h0M358.4 71.2h0M342.6 72.6h0M362.8 71.0h0M349.0 72.8h0M349.8 71.5h0M353.3 73.6h0M348.6 72.6h0M351.5 70.2h0M357.7 72.9h0M362.6 70.7h0M359.3 73.9h0M355.7 71.1h0M358.6 70.9h0M356.5 72.3h0M350.9 70.0h0M348.5 72.7h0M353.7 71.5h0M358.0 71.4h0M344.5 70.8h0M349.9 72.0h0M355.5 73.9h0M357.2 71.9h0M359.2 70.3h0M361.5 74.6h0M348.2 72.2h0M353.5 71.2h0M348.1 73.3h0M358.5 73.0h0M360.1 70.9h0M350.5 68.2h0M350.6 71.5h0M348.0 74.6h0M355.8 71.8h0M360.4 71.4h0M356.0 72.7h0M355.3 71.8h0M348.3 72.8h0M352.6 69.8h0M362.2 71.2h0M351.9 73.8h0M347.3 73.1h0M355.2 69.6h0M360.7 74.5h0M355.2 72.1h0M348.8 72.4h0M357.1 72.2h0M349.5 72.2h0M356.0 72.1h0M347.7 70.9h0M350.2 71.5h0M356.8 68.7h0M356.6 70.3h0M354.8 74.2h0M352.1 70.1h0M348.1 69.9h0M352.0 72.7h0M349.1 70.8h0M359.0 75.6h0M356.0 72.6h0M353.4 73.2h0M358.8 69.6h0M351.6 70.9h0M356.8 73.2h0M354.8 72.2h0M361.2 70.1h0M354.4 70.0h0M359.5 69.5h0M353.1 73.6h0M353.6 73.8h0M349.5 71.7h0M363.9 72.3h0M356.6 71.2h0M346.2 70.0h0M353.5 72.0h0M342.2 72.7h0M354.4 72.4h0M351.8 72.2h0M347.1 68.9h0M349.1 74.0h0M351.8 71.4h0M352.9 71.4h0M345.6 72.7h0M352.4 71.8h0M350.2 72.6h0M351.8 71.2h0M357.7 71.1h0M348.3 73.6h0M349.3 69.1h0M356.2 71.0h0M345.3 73.4h0M356.1 73.8h0M348.7 70.8h0M351.8 72.1h0M346.7 74.7h0M350.6 72.3h0M357.7 68.7h0M359.1 74.1h0M348.4 73.2h0M353.7 73.7h0M348.2 72.6h0M350.5 71.9h0M360.4 71.6h0M354.6 70.5h0M356.6 70.9h0M352.0 72.2h0M352.3 73.0h0M348.0 71.2h0M348.5 72.6h0M351.6 71.4h0M364.1 73.1h0M350.7 71.7h0M359.3 74.3h0M349.3 72.2h0M356.0 69.3h0M353.7 75.5h0M359.4 71.4h0M362.6 73.4h0M362.1 66.9h0M350.1 70.4h0M359.4 72.4h0M352.8 70.8h0M348.5 70.4h0M349.2 72.9h0M360.9 74.8h0M350.9 70.4h0M359.2 75.2h0M352.1 70.6h0M358.0 68.6h0M354.4 69.7h0M360.9 71.5h0M355.1 73.1h0M350.6 72.3h0" stroke="#e2383c" stroke-width="0.68" stroke-linecap="round" stroke-opacity="0.5"/>
<ellipse cx="350.00" cy="71.80" rx="3.60" ry="4.20" fill="#e2383c" fill-opacity="0.9" filter="url(#b05)"/>
<ellipse cx="349.80" cy="72.10" rx="3.00" ry="3.80" fill="#27b2e6" fill-opacity="1.0" filter="url(#b05)"/>
<text transform="translate(337.90,61.20) rotate(-90)" font-size="12.14" fill="#333" text-anchor="middle" textLength="23.00" lengthAdjust="spacingAndGlyphs" >GATA3</text>
<text x="349.40" y="92.20" font-size="10.43" fill="#333" text-anchor="start" textLength="24.00" lengthAdjust="spacingAndGlyphs" >FOXP3</text>
<rect x="407.60" y="33.90" width="48.80" height="48.30" fill="none" stroke="#9c9c9c" stroke-width="1.3" rx="0.8"/>
<line x1="407.30" y1="44.53" x2="408.20" y2="44.53" stroke="#444" stroke-width="0.9" />
<line x1="407.30" y1="49.36" x2="408.20" y2="49.36" stroke="#444" stroke-width="0.9" />
<line x1="407.30" y1="54.19" x2="408.20" y2="54.19" stroke="#444" stroke-width="0.9" />
<line x1="407.30" y1="59.02" x2="408.20" y2="59.02" stroke="#444" stroke-width="0.9" />
<line x1="407.30" y1="63.85" x2="408.20" y2="63.85" stroke="#444" stroke-width="0.9" />
<line x1="407.30" y1="68.68" x2="408.20" y2="68.68" stroke="#444" stroke-width="0.9" />
<line x1="407.30" y1="73.51" x2="408.20" y2="73.51" stroke="#444" stroke-width="0.9" />
<line x1="407.30" y1="78.34" x2="408.20" y2="78.34" stroke="#444" stroke-width="0.9" />
<line x1="410.53" y1="81.70" x2="410.53" y2="82.50" stroke="#555" stroke-width="0.8" />
<line x1="415.16" y1="81.70" x2="415.16" y2="82.50" stroke="#555" stroke-width="0.8" />
<line x1="419.80" y1="81.70" x2="419.80" y2="82.50" stroke="#555" stroke-width="0.8" />
<line x1="424.44" y1="81.70" x2="424.44" y2="82.50" stroke="#555" stroke-width="0.8" />
<line x1="429.07" y1="81.70" x2="429.07" y2="82.50" stroke="#555" stroke-width="0.8" />
<line x1="433.71" y1="81.70" x2="433.71" y2="82.50" stroke="#555" stroke-width="0.8" />
<line x1="438.34" y1="81.70" x2="438.34" y2="82.50" stroke="#555" stroke-width="0.8" />
<line x1="442.98" y1="81.70" x2="442.98" y2="82.50" stroke="#555" stroke-width="0.8" />
<line x1="447.62" y1="81.70" x2="447.62" y2="82.50" stroke="#555" stroke-width="0.8" />
<line x1="452.25" y1="81.70" x2="452.25" y2="82.50" stroke="#555" stroke-width="0.8" />
<rect x="413.46" y="82.00" width="3.50" height="1.00" fill="#555" />
<path d="M414.8 60.2h0M417.3 63.8h0M416.4 67.3h0M418.6 69.2h0M415.3 67.9h0M416.6 57.8h0M416.3 56.2h0M416.4 65.9h0M415.5 65.4h0M417.8 66.8h0M416.3 62.3h0M416.7 52.9h0M415.3 63.3h0M416.7 63.1h0M414.4 66.2h0M418.8 64.1h0M413.5 68.1h0M416.4 60.6h0M416.1 66.2h0M419.2 66.5h0M417.8 58.8h0M417.6 67.3h0M417.8 69.7h0M415.5 62.1h0M415.5 67.2h0M417.5 57.8h0M415.6 59.1h0M413.5 59.3h0M419.4 59.8h0M416.0 60.6h0M416.4 57.8h0M418.8 53.6h0M416.6 64.9h0M416.6 69.2h0M414.7 68.6h0M414.9 64.3h0M416.0 62.5h0M417.6 62.0h0M416.4 62.9h0M415.6 63.8h0M415.0 56.1h0M414.4 59.9h0M414.7 63.1h0" stroke="#e2383c" stroke-width="0.68" stroke-linecap="round" stroke-opacity="0.3"/>
<ellipse cx="416.50" cy="72.40" rx="5.80" ry="2.90" fill="#e2383c" fill-opacity="0.9" filter="url(#b05)"/>
<ellipse cx="416.60" cy="72.30" rx="4.80" ry="2.20" fill="#27b2e6" fill-opacity="1.0" filter="url(#b04)"/>
<text transform="translate(402.60,61.10) rotate(-90)" font-size="10.86" fill="#333" text-anchor="middle" textLength="23.80" lengthAdjust="spacingAndGlyphs" >ROR&#947;T</text>
<text x="419.40" y="92.20" font-size="10.43" fill="#333" text-anchor="start" textLength="18.60" lengthAdjust="spacingAndGlyphs" >BCL6</text>
<rect x="39.90" y="108.40" width="49.00" height="48.50" fill="none" stroke="#9c9c9c" stroke-width="1.3" rx="0.8"/>
<line x1="39.60" y1="119.07" x2="40.50" y2="119.07" stroke="#444" stroke-width="0.9" />
<line x1="39.60" y1="123.92" x2="40.50" y2="123.92" stroke="#444" stroke-width="0.9" />
<line x1="39.60" y1="128.77" x2="40.50" y2="128.77" stroke="#444" stroke-width="0.9" />
<line x1="39.60" y1="133.62" x2="40.50" y2="133.62" stroke="#444" stroke-width="0.9" />
<line x1="39.60" y1="138.47" x2="40.50" y2="138.47" stroke="#444" stroke-width="0.9" />
<line x1="39.60" y1="143.32" x2="40.50" y2="143.32" stroke="#444" stroke-width="0.9" />
<line x1="39.60" y1="148.17" x2="40.50" y2="148.17" stroke="#444" stroke-width="0.9" />
<line x1="39.60" y1="153.02" x2="40.50" y2="153.02" stroke="#444" stroke-width="0.9" />
<line x1="42.84" y1="156.40" x2="42.84" y2="157.20" stroke="#555" stroke-width="0.8" />
<line x1="47.49" y1="156.40" x2="47.49" y2="157.20" stroke="#555" stroke-width="0.8" />
<line x1="52.15" y1="156.40" x2="52.15" y2="157.20" stroke="#555" stroke-width="0.8" />
<line x1="56.81" y1="156.40" x2="56.81" y2="157.20" stroke="#555" stroke-width="0.8" />
<line x1="61.46" y1="156.40" x2="61.46" y2="157.20" stroke="#555" stroke-width="0.8" />
<line x1="66.11" y1="156.40" x2="66.11" y2="157.20" stroke="#555" stroke-width="0.8" />
<line x1="70.77" y1="156.40" x2="70.77" y2="157.20" stroke="#555" stroke-width="0.8" />
<line x1="75.43" y1="156.40" x2="75.43" y2="157.20" stroke="#555" stroke-width="0.8" />
<line x1="80.08" y1="156.40" x2="80.08" y2="157.20" stroke="#555" stroke-width="0.8" />
<line x1="84.74" y1="156.40" x2="84.74" y2="157.20" stroke="#555" stroke-width="0.8" />
<rect x="45.78" y="156.70" width="3.50" height="1.00" fill="#555" />
<path d="M48.8 137.2h0M74.4 128.9h0M70.3 135.0h0M63.0 135.0h0M70.3 130.7h0M56.7 131.3h0M41.1 123.1h0M47.6 134.4h0M50.6 137.4h0M55.9 138.0h0M54.1 130.1h0M47.6 136.4h0M48.3 141.1h0M56.1 128.7h0M59.8 137.9h0M56.0 133.0h0M62.9 138.7h0M62.8 130.2h0M45.0 139.8h0M60.2 137.2h0M53.2 141.3h0M63.7 140.5h0M59.3 129.5h0M57.9 135.5h0M53.1 132.9h0M55.2 134.0h0M61.0 130.7h0M64.6 131.7h0M45.4 134.4h0M66.2 136.6h0M53.6 133.1h0M63.0 133.5h0M68.1 136.7h0M62.7 132.2h0M47.9 135.9h0M65.5 149.5h0M47.0 136.0h0M81.8 134.7h0M50.5 135.1h0M46.5 135.9h0M54.0 134.9h0M72.0 135.1h0M65.6 144.4h0M50.1 133.0h0M47.4 133.2h0M61.6 138.7h0M54.5 135.1h0M77.1 134.9h0M62.5 132.6h0M52.9 129.1h0M64.8 134.8h0M66.4 132.9h0M66.3 133.8h0M50.9 143.2h0M58.6 138.7h0M56.0 133.8h0M60.0 131.9h0M64.5 136.8h0M65.6 141.4h0M76.7 135.4h0M77.0 142.6h0M60.4 131.8h0M69.7 135.2h0M70.3 133.5h0M62.2 139.8h0M63.0 139.2h0M63.9 134.9h0M63.7 133.1h0M64.7 130.8h0M59.6 134.0h0M64.1 137.9h0M66.7 136.9h0M48.7 136.0h0M44.9 136.6h0M58.8 138.1h0M61.9 139.2h0M67.1 140.2h0M54.4 139.8h0M61.4 132.4h0M61.3 135.9h0M50.2 130.1h0M53.7 129.7h0M45.9 132.0h0M61.8 138.2h0M54.7 135.8h0M61.5 128.8h0M63.2 133.6h0M64.1 139.9h0M47.6 138.2h0M61.4 141.1h0M76.1 142.8h0M56.1 132.6h0M58.7 135.2h0M56.8 141.0h0M62.4 139.4h0M60.1 140.4h0M57.6 131.6h0M56.4 137.2h0M66.4 132.7h0M60.7 138.5h0M47.7 137.0h0M53.1 130.1h0M52.8 134.4h0M49.7 133.8h0M65.9 134.9h0M59.5 141.7h0M65.2 135.0h0M62.2 131.2h0M60.7 132.4h0M63.9 138.5h0M44.7 145.4h0M50.2 133.0h0M49.0 129.0h0M58.3 135.3h0M53.9 140.7h0M43.5 136.4h0M59.8 135.2h0M65.0 137.3h0M54.8 135.1h0M59.7 133.0h0M62.0 137.5h0M70.4 134.2h0M65.5 137.7h0M54.9 138.7h0M41.8 132.6h0M59.3 135.4h0M47.1 135.4h0M77.2 136.1h0M53.8 136.5h0M52.3 133.8h0M58.2 138.0h0M61.9 140.9h0M53.9 127.6h0M55.0 143.0h0M53.3 137.5h0M55.5 137.2h0M58.7 130.9h0M60.3 134.9h0M61.1 135.8h0M75.6 127.9h0M63.2 136.0h0M65.2 133.5h0M69.3 135.6h0M46.7 130.7h0M61.7 135.5h0M50.9 137.5h0M58.0 141.2h0M59.8 132.5h0M50.6 135.6h0M62.8 135.7h0M44.0 130.8h0M53.4 129.9h0M55.9 132.1h0M65.9 134.1h0M49.2 132.1h0M53.9 134.3h0M68.9 135.0h0M56.7 139.3h0M60.0 142.3h0M54.9 140.4h0M53.8 136.2h0M56.1 132.5h0M77.7 136.1h0M65.7 140.1h0M71.6 124.7h0M66.8 147.4h0M60.4 140.4h0M44.8 130.6h0M61.8 135.8h0M46.5 135.1h0M71.2 137.9h0M47.1 130.3h0M57.6 130.7h0M62.6 133.4h0M63.1 134.5h0M57.7 135.0h0M59.2 130.9h0M42.4 128.9h0M47.0 140.3h0M71.3 141.4h0M75.8 133.3h0M72.7 136.0h0M58.7 142.0h0M60.3 134.1h0M56.1 131.5h0M56.7 133.7h0M67.0 137.8h0M50.1 137.4h0M53.8 135.7h0M50.3 136.3h0M57.1 133.2h0M64.9 133.5h0M48.3 137.4h0M69.9 135.1h0M49.2 141.9h0M60.6 138.2h0M58.5 142.5h0M42.1 133.3h0M43.1 133.9h0M56.0 138.6h0M68.3 142.9h0M64.1 137.4h0M52.9 131.2h0M47.7 129.3h0M69.3 136.6h0M69.7 135.6h0M63.7 135.7h0M55.2 134.8h0M70.4 131.3h0M65.2 137.9h0M74.7 135.0h0M66.7 132.6h0M64.6 138.6h0M62.4 135.9h0M58.8 140.3h0M56.3 136.1h0M77.4 139.4h0M68.4 140.3h0M56.6 132.7h0M61.7 141.9h0M58.9 132.9h0M70.5 131.5h0M58.9 133.0h0M41.1 133.8h0M42.9 137.3h0M56.8 136.6h0M46.8 130.5h0M62.2 134.4h0M56.3 141.1h0M57.7 140.5h0M46.2 131.6h0M62.7 136.4h0M51.3 137.8h0M56.6 132.1h0M57.1 133.9h0M64.0 127.3h0M51.9 138.9h0M47.1 130.1h0M68.8 132.6h0M49.8 141.4h0M66.8 137.0h0M54.6 135.5h0M54.5 128.1h0M51.1 137.5h0M60.3 134.5h0M49.2 140.6h0M54.6 139.5h0M67.3 138.6h0M70.7 140.8h0M55.7 140.4h0M63.8 132.0h0M65.8 133.6h0M55.1 138.5h0M51.9 132.6h0M58.2 136.1h0M61.4 140.8h0M56.6 135.6h0M61.0 134.0h0M68.8 142.0h0M59.6 131.2h0M59.1 132.4h0M42.4 135.8h0M61.9 136.0h0M60.6 136.4h0M56.3 131.4h0M71.0 136.2h0M50.2 133.2h0M58.3 134.6h0M41.5 135.2h0M63.2 127.8h0M62.1 136.4h0M54.3 139.9h0M68.9 134.3h0M55.4 135.5h0M58.7 134.4h0M58.0 130.3h0M44.3 135.9h0M67.8 131.2h0M46.1 141.4h0M48.6 140.5h0M62.7 140.0h0M55.6 133.8h0M66.1 139.3h0M60.9 139.7h0M59.9 137.4h0M63.5 135.1h0M59.6 136.0h0M56.4 135.9h0M53.0 133.4h0M43.5 143.5h0M64.4 139.4h0M60.9 134.8h0M47.2 138.7h0M57.3 140.6h0M66.3 138.5h0M49.3 130.9h0M52.0 134.4h0M55.9 133.7h0M72.8 132.1h0M57.9 139.5h0M65.7 137.6h0M66.8 133.7h0M62.3 134.9h0M51.3 139.1h0M47.0 134.7h0M54.5 133.3h0M59.3 136.1h0M53.3 138.1h0M48.8 131.8h0M63.5 135.0h0M50.8 136.1h0M67.3 130.8h0M50.9 141.4h0M74.4 142.6h0M64.0 145.4h0M64.4 137.0h0M62.0 130.3h0M52.9 135.6h0M59.5 122.6h0M67.4 138.2h0M54.3 134.1h0M66.3 131.5h0M51.9 135.2h0M73.3 134.9h0M67.7 130.3h0M57.0 132.8h0M44.7 134.1h0M66.1 135.9h0M54.1 135.9h0M55.0 133.0h0M51.6 133.6h0M62.1 131.1h0M68.3 136.0h0M54.6 142.8h0M75.5 137.4h0M59.5 138.3h0M44.7 137.6h0M55.4 136.9h0M53.5 136.2h0M43.8 137.3h0M70.3 136.8h0M52.4 130.4h0M56.5 132.6h0M51.6 139.9h0M64.0 133.9h0M62.4 134.5h0M45.4 130.5h0M52.2 137.2h0M62.6 138.5h0M52.7 137.3h0M46.6 141.7h0M65.6 135.1h0M53.7 136.7h0M67.5 138.1h0M69.6 133.3h0M52.8 132.3h0M55.1 132.5h0M53.8 137.4h0M64.0 135.5h0M57.1 133.1h0M59.9 136.8h0M61.6 130.1h0M68.2 132.8h0M65.9 140.7h0M47.6 137.4h0M75.0 133.9h0M70.0 134.9h0M63.1 138.4h0M55.2 136.6h0M45.2 133.2h0M62.2 141.4h0M60.0 142.1h0M56.9 137.7h0M48.8 131.8h0M68.0 140.2h0M57.2 126.7h0M67.7 131.2h0M76.2 137.6h0M56.9 140.3h0M60.5 129.2h0M64.5 130.7h0M49.4 132.5h0M62.4 138.4h0M59.9 138.3h0M58.4 136.9h0M63.0 133.0h0M46.7 130.5h0M42.1 138.1h0M43.6 134.4h0M59.4 137.4h0M67.5 142.7h0M66.2 128.7h0M66.2 134.0h0M50.7 137.7h0M62.1 137.1h0M55.3 130.6h0M53.8 136.6h0M47.6 139.2h0M65.5 137.4h0M61.4 137.0h0M58.7 126.0h0M66.3 138.7h0M60.3 137.9h0M50.9 139.6h0M57.0 137.0h0M58.5 135.1h0M62.9 135.8h0M62.2 137.5h0M45.2 130.8h0M69.8 137.4h0M42.3 135.0h0M77.5 140.8h0M62.1 136.1h0M55.6 131.9h0M55.8 139.6h0M56.3 132.9h0M49.5 144.4h0M59.6 144.7h0M63.3 136.5h0M52.2 138.5h0M61.9 135.4h0M64.9 131.8h0M54.5 138.2h0M64.7 138.5h0M58.1 133.5h0M48.4 131.8h0M48.1 131.7h0M64.7 127.0h0M53.5 134.5h0M68.2 141.2h0M65.8 139.4h0M58.2 133.3h0M68.2 129.0h0M65.5 136.4h0M64.2 132.3h0M49.1 139.4h0M61.8 133.0h0M45.4 128.5h0M46.4 129.8h0M51.5 133.1h0M68.5 139.4h0M52.5 136.0h0M65.8 135.9h0M62.8 133.9h0M70.6 133.5h0M67.0 138.8h0M64.8 141.4h0M54.9 132.9h0M55.8 135.5h0M77.1 132.0h0M59.3 140.9h0M65.7 133.9h0M65.5 131.5h0M66.4 136.4h0M53.3 134.8h0M68.5 133.9h0M58.2 136.2h0M56.0 129.7h0M59.4 141.0h0M56.3 139.3h0M67.8 140.1h0M55.7 135.6h0M50.3 130.5h0M58.9 140.6h0M51.2 133.5h0M57.4 132.2h0M55.6 131.7h0M44.3 136.7h0M59.9 133.8h0M59.5 139.6h0M50.5 140.3h0M55.9 135.6h0M66.8 135.7h0M44.6 124.7h0M65.8 138.2h0M74.4 130.6h0M64.3 136.7h0M60.4 140.4h0M58.8 132.1h0M69.3 139.9h0M72.4 136.3h0M60.3 139.5h0M75.4 132.0h0M41.4 136.9h0M57.4 131.9h0M61.2 131.8h0M44.8 136.5h0M60.6 132.8h0M52.8 138.4h0M60.8 133.8h0M46.0 132.3h0M56.0 132.6h0M51.3 139.7h0M68.6 138.2h0M47.1 133.8h0M50.1 139.3h0M45.4 132.5h0M57.3 138.5h0M58.1 136.9h0M77.0 141.8h0M61.3 130.1h0M58.8 135.2h0M53.4 131.7h0M41.6 134.5h0M44.0 137.4h0M53.7 133.9h0M65.9 136.0h0M60.1 136.6h0M55.3 141.4h0M63.9 136.6h0M49.2 137.7h0M51.1 131.3h0M57.8 140.9h0M66.3 134.8h0M55.2 136.2h0M54.0 136.0h0M52.3 136.1h0M54.1 132.3h0M47.3 131.1h0M63.0 138.8h0M71.6 131.2h0M63.5 134.0h0M54.4 132.1h0M62.1 133.4h0M68.9 133.1h0M56.3 137.7h0M60.8 138.2h0M43.1 133.7h0M43.2 134.2h0M66.0 132.1h0M42.2 138.1h0M50.9 137.9h0M61.3 135.0h0M59.4 140.7h0M46.4 126.5h0M61.0 141.1h0M55.6 135.1h0M60.7 131.2h0M47.0 137.0h0M65.8 137.5h0M49.4 132.3h0M55.7 138.7h0M48.0 141.8h0M50.2 142.5h0M48.6 141.6h0M51.5 128.9h0M57.7 135.3h0M65.7 129.3h0M62.7 136.7h0M44.5 135.9h0M78.2 129.8h0M52.4 134.4h0M60.5 130.1h0M69.9 134.3h0M61.5 141.2h0M55.0 143.9h0M61.6 136.6h0M44.5 140.1h0M52.9 133.8h0M63.2 137.1h0M61.8 142.6h0M59.5 140.0h0M59.6 139.4h0M70.4 136.2h0M77.4 138.2h0M44.4 137.5h0M67.1 141.3h0M52.9 135.5h0M50.6 132.8h0M64.6 134.2h0M51.1 131.4h0M60.1 136.3h0M62.0 134.2h0M41.2 135.1h0M63.2 132.2h0M56.1 126.3h0M57.8 136.7h0M63.5 133.7h0M49.0 135.3h0M73.4 139.6h0M52.3 134.1h0M59.5 137.7h0M50.1 134.8h0M65.4 139.2h0M63.3 134.9h0M59.0 128.9h0M54.1 134.8h0M56.6 138.3h0M42.9 134.2h0M58.5 132.9h0M65.3 133.0h0M53.7 137.5h0M55.7 139.3h0M52.4 142.1h0M62.3 134.9h0M52.6 133.2h0M58.5 135.2h0M57.9 132.0h0M49.9 137.3h0M64.0 132.4h0M62.1 131.6h0M45.9 132.0h0M52.3 132.5h0M59.0 142.2h0M44.6 132.6h0M66.4 132.2h0M58.8 134.2h0M67.9 125.3h0M58.3 135.0h0M62.3 135.8h0M60.0 133.5h0M59.4 133.8h0M71.6 134.0h0M52.5 137.8h0M49.7 130.9h0M67.9 135.0h0M47.8 132.9h0M60.4 142.6h0M73.5 134.8h0M67.0 135.2h0M59.1 134.5h0M54.9 131.7h0M59.4 133.3h0M46.1 134.9h0M64.9 142.9h0M43.6 139.9h0M49.8 135.2h0M62.5 131.1h0M60.8 135.1h0M59.8 131.2h0M55.2 134.4h0M53.6 132.1h0M61.4 136.7h0M55.5 135.0h0M62.1 140.8h0M51.9 129.6h0M77.7 133.0h0M49.7 136.5h0M60.2 135.6h0M59.1 130.5h0M51.1 129.6h0M69.8 137.5h0M55.2 141.2h0M60.7 145.4h0M57.0 133.5h0M61.3 129.6h0M50.1 135.4h0M61.3 130.3h0M69.9 138.6h0M50.0 140.3h0M49.6 134.9h0M60.8 146.9h0M65.6 136.2h0M50.9 138.7h0M59.1 133.9h0M58.0 132.4h0M58.9 131.2h0M58.1 137.4h0M71.3 134.2h0M51.9 129.3h0M54.4 135.7h0M48.7 139.8h0M61.6 132.0h0M47.4 126.3h0M44.0 132.5h0M55.7 137.7h0M64.8 140.8h0M60.4 149.0h0M55.6 137.5h0M67.6 138.2h0M67.5 137.5h0M52.5 138.5h0M53.9 137.3h0M61.7 136.6h0M54.8 132.7h0M51.0 135.9h0M41.6 133.4h0M58.2 135.2h0M69.9 135.7h0M47.0 130.1h0M63.2 136.4h0M51.3 131.3h0M60.9 134.0h0M59.5 134.7h0M55.0 135.1h0M56.9 131.9h0M46.4 136.2h0M56.6 137.8h0M68.7 133.2h0M46.5 136.1h0M67.7 133.7h0M58.9 133.3h0M55.3 132.4h0M64.8 133.5h0M47.1 141.2h0M58.3 128.6h0M51.0 135.1h0M63.8 137.3h0M53.6 133.5h0M67.3 131.1h0M54.6 133.1h0M66.0 140.8h0M60.9 136.9h0M48.3 136.3h0M67.3 138.0h0M48.1 138.0h0M65.9 132.3h0M51.7 131.4h0M53.8 136.2h0M66.5 132.6h0M66.1 137.6h0M70.9 138.6h0M62.8 137.5h0M48.8 137.5h0M69.0 132.5h0M57.4 142.3h0M64.3 137.8h0M58.5 134.6h0M55.0 131.0h0M72.2 130.5h0M68.8 132.4h0M43.6 133.8h0M43.7 134.1h0M51.0 130.3h0M59.6 134.2h0M42.4 127.5h0M61.7 135.1h0M41.2 138.8h0M58.1 129.9h0M62.5 130.9h0M52.1 135.2h0M60.8 133.2h0M60.4 137.4h0M59.6 130.7h0M69.0 128.8h0M56.1 136.9h0M51.8 137.4h0M66.5 133.1h0M54.0 140.2h0M68.1 140.2h0M55.0 133.9h0M58.0 129.7h0M48.8 133.3h0M63.0 134.4h0M48.6 141.5h0M44.2 133.7h0M56.0 132.4h0M58.7 134.4h0M50.6 132.4h0M64.6 139.6h0M65.1 132.6h0M62.3 136.7h0M70.4 128.8h0M67.3 138.5h0M60.7 131.0h0M65.9 136.9h0M60.2 142.8h0M51.1 133.7h0M49.6 137.5h0M64.3 140.0h0M51.1 135.9h0M66.8 137.4h0M61.4 133.8h0M65.1 128.9h0M71.8 131.5h0M58.5 134.8h0M51.2 141.7h0M45.5 130.5h0M61.3 137.7h0M49.6 134.4h0M54.5 132.6h0M51.1 131.1h0M46.2 137.8h0M48.1 136.4h0M68.2 135.8h0M43.3 136.6h0M61.1 135.5h0M41.9 130.2h0M59.6 133.8h0M58.6 136.7h0M51.9 139.4h0M62.2 134.8h0M59.2 136.3h0M61.5 136.9h0M57.2 132.8h0M50.1 135.7h0M60.3 139.1h0M41.9 136.9h0M66.1 134.8h0M41.9 134.1h0M67.2 143.2h0M56.5 132.9h0M59.0 141.0h0M44.0 137.6h0M69.1 139.3h0M72.7 137.1h0M72.1 134.7h0M66.3 137.3h0M55.7 143.9h0M63.6 129.9h0M69.2 133.7h0M67.6 135.4h0M47.4 133.0h0M61.6 140.2h0M56.9 141.1h0M42.3 128.8h0M59.5 130.6h0M57.2 138.0h0M54.8 135.3h0M73.4 135.3h0M62.0 137.4h0M66.5 136.0h0M66.5 137.9h0M55.3 131.3h0M47.9 141.5h0M58.7 130.1h0M61.3 137.6h0M54.8 130.7h0M48.3 134.5h0M60.0 133.1h0M44.1 136.9h0M52.5 136.5h0M62.7 136.4h0M64.9 136.5h0M59.4 135.2h0M54.9 144.0h0M60.1 137.7h0M51.0 142.7h0M55.7 133.4h0M50.2 135.5h0M62.5 132.5h0M64.6 128.1h0M72.9 139.1h0M46.4 132.9h0M60.4 131.9h0M56.9 131.2h0M59.8 134.1h0M48.7 130.3h0M51.6 137.8h0M56.3 133.2h0M63.6 134.6h0M52.7 132.5h0M52.1 143.5h0M58.2 132.0h0M58.8 135.8h0M50.3 129.2h0M69.0 132.2h0M66.8 138.5h0M53.4 137.6h0M53.7 136.9h0M56.1 139.1h0M56.4 143.6h0M60.5 139.9h0M65.3 131.2h0M60.8 131.9h0M67.3 134.9h0M54.3 136.4h0M66.8 133.9h0M63.3 137.1h0M61.6 134.8h0M53.4 139.7h0M64.0 132.7h0M54.6 143.8h0M61.8 137.5h0M42.5 132.6h0M61.1 133.1h0M62.3 136.3h0M53.7 141.5h0M58.8 131.8h0M50.1 143.4h0M61.4 141.1h0M58.0 132.9h0M47.5 140.0h0M43.7 140.6h0M45.1 129.5h0M50.0 136.2h0" stroke="#e2383c" stroke-width="0.68" stroke-linecap="round" stroke-opacity="0.4"/>
<ellipse cx="58.50" cy="136.00" rx="12.50" ry="3.90" fill="#e2383c" fill-opacity="0.62" filter="url(#b08)"/>
<ellipse cx="47.00" cy="137.50" rx="2.80" ry="5.20" fill="#e2383c" fill-opacity="1.0" filter="url(#b06)"/>
<ellipse cx="70.50" cy="134.80" rx="3.20" ry="2.80" fill="#e2383c" fill-opacity="0.95" filter="url(#b06)"/>
<path d="M47.7 143.9h0M62.2 144.7h0M54.1 141.0h0M51.2 142.7h0M55.1 140.8h0M55.2 146.6h0M55.1 143.7h0M52.0 147.5h0M44.2 139.9h0M58.3 139.7h0M44.8 141.0h0M58.7 144.4h0M58.0 144.7h0M62.1 141.3h0M52.7 144.8h0M63.8 143.6h0M41.8 142.3h0M50.5 144.1h0M52.7 143.4h0M59.3 146.0h0M66.0 143.8h0M48.2 144.8h0M57.9 140.4h0M50.4 143.5h0M60.0 144.7h0M56.9 139.5h0M46.7 143.2h0M53.5 144.9h0M45.8 143.4h0M64.1 148.5h0M52.7 143.6h0M46.4 139.8h0M59.7 145.0h0M61.4 143.2h0M58.1 140.0h0M51.7 141.5h0M49.8 143.1h0M55.2 143.3h0M67.9 146.0h0M48.7 140.9h0M56.1 141.7h0M61.2 142.1h0M59.7 141.7h0M55.6 139.0h0M61.6 144.0h0M50.7 137.0h0M49.3 140.2h0M53.2 140.5h0M53.0 141.2h0M59.1 143.7h0M62.9 142.5h0M46.8 142.3h0M53.6 140.7h0M63.2 142.4h0M58.2 138.7h0M50.0 140.5h0M54.5 142.5h0M51.3 141.2h0M55.6 144.8h0M52.5 147.0h0M62.3 141.6h0M67.2 145.6h0M71.9 145.0h0M53.0 141.6h0M54.8 142.3h0M57.5 142.0h0M53.9 142.3h0M45.2 144.6h0M50.7 142.3h0M55.3 146.3h0M47.5 141.4h0M42.3 142.1h0M64.7 144.8h0M59.0 141.5h0M52.8 141.9h0M55.3 145.7h0M62.8 142.1h0M67.2 141.7h0M56.3 140.5h0M59.2 141.4h0M61.5 139.8h0M50.8 143.3h0M64.8 142.9h0M52.7 142.5h0M47.1 143.0h0M50.4 142.4h0M66.5 146.2h0M50.9 145.2h0M50.4 142.2h0M62.3 144.7h0M59.0 142.7h0M56.0 140.8h0M48.9 143.1h0M53.2 144.0h0M61.1 141.6h0M59.1 144.6h0M59.2 143.8h0M59.4 144.0h0M67.0 144.9h0M45.9 142.1h0M50.7 143.2h0M56.0 143.4h0M63.4 143.1h0M52.1 142.0h0M49.6 142.8h0M56.3 143.0h0M55.1 147.2h0M52.6 140.5h0M59.5 142.0h0M43.0 143.7h0M44.6 145.3h0M64.8 143.6h0M55.8 141.6h0M53.1 144.3h0M47.0 142.5h0M51.6 141.6h0M49.9 142.9h0M60.0 142.5h0M56.3 141.4h0M62.7 145.7h0M48.7 143.0h0M49.8 140.6h0M50.3 141.8h0M65.4 144.6h0M55.4 142.4h0M62.9 141.3h0M51.0 142.9h0M62.0 141.7h0M62.0 145.6h0M55.0 143.5h0M45.3 142.3h0M51.9 143.6h0M48.3 143.2h0M56.6 144.6h0M55.5 140.8h0M53.1 142.5h0M70.7 141.5h0M55.4 142.4h0M58.5 141.9h0M49.7 142.0h0M58.7 145.2h0M58.0 144.2h0M49.7 145.2h0M49.4 139.2h0M55.1 143.7h0M60.2 140.8h0M47.2 141.5h0M44.7 140.2h0M63.7 144.4h0M63.3 143.1h0M49.4 142.3h0M57.0 140.3h0M60.5 141.7h0M58.5 139.8h0M45.0 143.4h0M53.2 146.5h0M56.8 143.7h0M53.4 141.9h0M52.6 141.2h0M48.3 143.5h0M50.6 142.3h0M58.4 143.0h0M50.5 143.9h0M54.0 144.7h0M53.6 142.3h0M59.3 141.9h0M61.1 143.0h0M48.2 141.7h0M51.3 140.3h0M68.2 143.0h0M59.7 143.6h0M56.5 141.8h0M47.5 146.0h0M52.0 144.2h0M71.6 141.0h0M53.9 142.0h0M48.8 142.6h0M54.0 143.2h0M48.9 144.5h0M61.2 142.8h0M64.8 142.0h0M51.1 143.7h0M61.7 145.6h0M46.6 140.5h0M56.7 139.4h0M54.1 143.9h0M56.4 145.4h0M50.9 140.4h0M58.8 139.9h0M53.4 143.6h0M50.5 143.7h0M57.8 145.1h0M55.0 145.1h0M50.9 146.2h0M58.7 140.3h0M62.5 143.3h0M51.5 144.8h0M55.8 144.2h0M58.3 139.0h0M57.8 143.4h0M60.8 143.0h0M55.6 142.8h0M53.1 144.0h0M54.4 144.8h0M60.8 142.5h0M45.1 140.6h0M53.1 141.1h0M54.5 141.5h0M58.5 139.2h0M63.8 144.4h0M54.2 141.4h0M56.6 144.5h0M55.4 144.1h0M54.8 141.2h0M60.3 144.7h0M67.7 145.4h0M48.8 143.1h0M55.5 144.4h0M51.6 142.2h0M58.1 140.0h0M65.2 138.4h0M47.8 143.3h0M50.1 141.7h0M59.4 142.8h0M56.7 143.7h0M67.3 141.5h0M56.6 144.9h0M46.6 143.0h0M55.6 145.4h0M50.2 140.9h0M54.5 142.2h0M42.7 142.3h0M50.4 139.2h0M52.9 143.5h0M54.0 144.8h0M50.0 141.8h0M47.3 145.2h0M64.5 141.6h0M57.0 142.3h0M63.4 145.9h0M56.8 138.7h0M63.8 140.8h0M46.1 142.9h0M54.9 140.3h0M58.6 142.8h0M53.1 140.7h0M59.8 142.7h0M53.1 143.4h0M52.8 143.0h0M55.3 143.1h0M55.4 143.8h0M55.0 139.2h0M56.9 143.7h0M51.7 144.2h0M51.1 139.8h0M50.1 143.4h0M60.3 138.5h0M55.6 141.2h0M47.6 141.7h0M59.6 140.8h0M59.0 144.0h0M53.6 143.2h0M64.4 143.6h0M52.8 144.3h0M46.7 141.3h0M50.5 143.9h0M47.3 139.4h0M53.5 140.5h0M49.6 143.0h0M68.8 140.2h0M50.3 142.7h0M41.5 144.1h0M63.8 146.6h0M55.8 142.9h0M53.7 145.3h0M49.7 142.5h0M58.3 141.1h0M52.9 139.2h0M56.3 142.4h0M55.8 142.7h0M57.2 142.0h0M56.9 142.2h0M64.5 142.1h0M49.5 144.7h0M56.1 141.8h0M58.3 143.0h0M64.2 141.0h0M63.8 140.1h0M53.4 142.3h0M52.9 146.3h0M52.4 141.3h0M48.7 146.3h0M47.6 142.7h0M61.2 142.5h0M54.4 144.7h0M59.3 140.8h0M53.2 143.0h0M62.8 141.7h0M51.8 143.3h0M54.9 142.4h0M47.4 139.9h0M62.9 142.6h0M58.3 143.3h0M48.0 143.4h0M48.6 142.7h0M59.4 145.0h0M51.4 139.4h0M76.0 142.3h0M56.9 142.2h0M59.5 144.1h0M62.4 144.6h0M55.7 137.8h0M48.9 143.2h0M51.4 144.9h0M47.5 145.3h0M50.0 144.3h0M54.5 142.8h0M45.2 145.6h0M61.9 143.7h0M44.2 144.0h0M43.6 142.4h0M52.4 142.2h0M68.5 141.8h0M53.1 143.3h0M56.4 145.3h0M58.7 141.9h0M54.9 140.3h0M52.7 146.1h0M48.5 143.9h0M48.1 140.5h0M60.1 142.8h0M49.9 141.8h0M54.7 142.9h0M56.6 141.6h0M56.7 143.6h0M58.3 143.0h0M49.3 140.5h0M53.8 141.6h0M62.6 144.9h0M51.6 145.5h0M64.2 141.6h0M49.8 141.6h0M62.1 142.5h0M50.2 143.8h0M57.2 140.9h0M55.5 139.5h0M50.9 145.3h0M48.4 141.9h0M46.1 142.6h0M59.3 142.3h0M53.0 143.4h0M60.5 142.9h0M58.2 144.5h0M46.3 145.7h0M64.0 145.9h0M58.3 144.0h0M52.7 144.7h0M53.8 142.7h0M63.6 140.9h0M53.6 145.0h0M54.9 142.7h0M63.0 141.6h0M65.4 144.7h0M50.3 144.6h0M57.3 142.6h0M49.1 139.8h0M55.3 144.8h0M45.9 147.5h0M59.8 145.2h0M49.0 141.3h0M51.4 144.2h0M59.6 141.5h0M57.2 142.3h0M55.1 144.6h0M57.9 145.1h0M59.9 139.5h0M58.8 143.0h0M47.5 141.7h0M46.0 141.0h0M63.7 142.1h0M62.5 143.0h0M53.2 139.0h0M60.2 143.7h0M57.4 145.9h0M50.2 144.3h0M53.0 140.4h0M56.6 142.1h0M58.1 143.8h0M56.1 142.5h0M54.9 141.7h0M56.4 142.6h0M54.0 140.1h0M57.5 143.7h0M59.9 142.4h0M55.4 145.5h0M55.8 143.0h0M55.2 143.5h0M49.2 139.3h0M51.0 143.3h0M54.3 140.7h0M61.3 143.4h0M57.2 141.4h0M49.2 144.4h0M50.6 144.5h0M48.5 143.6h0M43.3 143.3h0M61.1 138.1h0M60.8 145.0h0M56.3 142.2h0M59.0 142.8h0M53.0 138.6h0M55.7 144.2h0M53.3 143.5h0M55.1 140.4h0M51.7 144.1h0M42.5 141.3h0M60.8 141.5h0M62.7 145.3h0M63.6 142.4h0M58.7 143.1h0M52.6 143.3h0M55.8 144.3h0M51.7 141.2h0M65.3 145.0h0M58.2 142.2h0M57.7 144.2h0M54.7 141.8h0M54.2 144.3h0M63.5 140.9h0M61.2 141.9h0M59.1 139.8h0M52.4 139.8h0M57.5 145.0h0M54.8 145.1h0M49.5 143.3h0M59.5 142.6h0M65.0 142.4h0M63.6 141.3h0M53.9 141.4h0M54.0 143.1h0M56.5 143.5h0M53.5 140.2h0M56.7 142.7h0M46.2 141.6h0M60.9 139.4h0" stroke="#27b2e6" stroke-width="0.68" stroke-linecap="round" stroke-opacity="0.5"/>
<ellipse cx="55.00" cy="142.60" rx="8.00" ry="2.30" fill="#27b2e6" fill-opacity="0.85" filter="url(#b06)"/>
<ellipse cx="47.00" cy="141.50" rx="1.60" ry="4.30" fill="#3a8fd0" fill-opacity="1.0" filter="url(#b05)"/>
<text transform="translate(36.20,135.60) rotate(-90)" font-size="11.86" fill="#333" text-anchor="middle" textLength="19.20" lengthAdjust="spacingAndGlyphs" >CCR7</text>
<text x="44.20" y="168.50" font-size="11.57" fill="#333" text-anchor="start" textLength="30.60" lengthAdjust="spacingAndGlyphs" >CD45RA</text>
<rect x="106.80" y="108.40" width="47.40" height="48.50" fill="none" stroke="#9c9c9c" stroke-width="1.3" rx="0.8"/>
<line x1="106.50" y1="119.07" x2="107.40" y2="119.07" stroke="#444" stroke-width="0.9" />
<line x1="106.50" y1="123.92" x2="107.40" y2="123.92" stroke="#444" stroke-width="0.9" />
<line x1="106.50" y1="128.77" x2="107.40" y2="128.77" stroke="#444" stroke-width="0.9" />
<line x1="106.50" y1="133.62" x2="107.40" y2="133.62" stroke="#444" stroke-width="0.9" />
<line x1="106.50" y1="138.47" x2="107.40" y2="138.47" stroke="#444" stroke-width="0.9" />
<line x1="106.50" y1="143.32" x2="107.40" y2="143.32" stroke="#444" stroke-width="0.9" />
<line x1="106.50" y1="148.17" x2="107.40" y2="148.17" stroke="#444" stroke-width="0.9" />
<line x1="106.50" y1="153.02" x2="107.40" y2="153.02" stroke="#444" stroke-width="0.9" />
<line x1="109.64" y1="156.40" x2="109.64" y2="157.20" stroke="#555" stroke-width="0.8" />
<line x1="114.15" y1="156.40" x2="114.15" y2="157.20" stroke="#555" stroke-width="0.8" />
<line x1="118.65" y1="156.40" x2="118.65" y2="157.20" stroke="#555" stroke-width="0.8" />
<line x1="123.15" y1="156.40" x2="123.15" y2="157.20" stroke="#555" stroke-width="0.8" />
<line x1="127.66" y1="156.40" x2="127.66" y2="157.20" stroke="#555" stroke-width="0.8" />
<line x1="132.16" y1="156.40" x2="132.16" y2="157.20" stroke="#555" stroke-width="0.8" />
<line x1="136.66" y1="156.40" x2="136.66" y2="157.20" stroke="#555" stroke-width="0.8" />
<line x1="141.16" y1="156.40" x2="141.16" y2="157.20" stroke="#555" stroke-width="0.8" />
<line x1="145.67" y1="156.40" x2="145.67" y2="157.20" stroke="#555" stroke-width="0.8" />
<line x1="150.17" y1="156.40" x2="150.17" y2="157.20" stroke="#555" stroke-width="0.8" />
<rect x="112.49" y="156.70" width="3.50" height="1.00" fill="#555" />
<path d="M130.2 146.0h0M125.2 141.7h0M124.4 145.2h0M120.4 132.8h0M134.5 147.5h0M130.7 138.5h0M120.7 146.7h0M118.2 139.9h0M141.9 138.1h0M127.9 141.5h0M123.0 145.0h0M128.2 139.6h0M116.5 144.5h0M132.7 127.3h0M124.0 142.9h0M128.3 141.0h0M125.5 123.5h0M123.1 133.7h0M130.9 143.3h0M132.3 142.8h0M126.5 135.3h0M116.3 136.7h0M122.4 138.6h0M109.7 134.5h0M122.5 138.7h0M126.7 141.5h0M127.1 134.8h0M117.2 147.7h0M118.5 137.4h0M130.6 145.0h0M115.0 124.9h0M121.3 136.9h0M132.9 136.7h0M130.8 130.8h0M124.9 141.0h0M132.7 133.9h0M118.0 143.0h0M121.1 138.3h0M123.0 135.4h0M135.4 132.7h0M126.5 130.6h0M123.3 124.7h0M119.5 141.2h0M124.1 142.2h0M120.6 141.4h0M115.2 136.5h0M128.2 146.8h0M115.4 140.3h0M133.6 141.0h0M134.5 138.7h0M123.3 133.9h0M117.3 139.3h0M124.1 139.2h0M132.1 129.7h0M129.4 133.0h0M133.0 129.2h0M122.1 144.6h0M117.0 137.5h0M118.4 143.1h0M133.8 139.3h0M124.0 144.7h0M127.7 131.3h0M120.2 132.2h0M119.9 146.4h0M131.9 130.6h0M130.1 136.8h0M135.6 150.5h0M122.5 146.4h0M135.1 137.0h0M129.7 145.3h0M126.6 131.4h0M126.2 142.0h0M132.7 131.0h0M120.8 132.0h0M116.5 133.6h0M122.4 148.4h0M119.8 135.6h0M131.3 137.2h0M130.9 143.0h0M135.4 138.9h0M126.8 137.4h0M128.3 124.9h0M120.0 127.5h0M111.7 140.0h0M133.6 143.1h0M120.3 128.6h0M121.7 140.7h0M122.8 140.1h0M130.3 132.5h0M114.4 139.8h0M122.3 141.6h0M126.1 135.0h0M135.9 137.7h0M118.2 139.9h0M131.5 134.2h0M125.0 139.8h0M117.4 146.7h0M109.7 132.2h0M128.7 140.8h0M119.0 131.3h0M119.3 136.7h0M130.2 147.9h0M125.8 139.0h0M127.4 137.7h0M129.0 141.2h0M114.9 141.4h0M135.6 143.3h0M129.4 146.4h0M139.9 136.8h0M117.4 129.7h0M125.3 139.7h0M130.9 141.4h0M130.2 139.6h0M122.0 134.6h0M126.8 139.6h0M127.7 132.1h0M117.8 135.8h0M112.9 136.1h0M133.4 129.0h0M120.4 135.0h0M128.5 138.8h0M125.4 145.9h0M129.1 151.0h0M130.3 136.8h0M130.7 147.5h0M126.4 141.3h0M122.4 146.4h0M116.6 148.6h0M123.6 132.5h0M121.9 138.1h0M118.8 140.4h0M127.5 137.7h0M136.0 134.5h0M120.7 126.7h0M114.9 142.7h0M130.6 143.9h0M118.2 133.7h0M132.2 142.6h0M113.1 141.6h0M132.3 136.5h0M127.8 138.6h0M137.6 138.3h0M123.5 132.1h0M128.3 136.6h0M127.1 137.8h0M115.1 138.4h0M112.2 135.4h0M111.6 136.4h0M127.8 136.3h0M139.1 132.6h0M136.7 136.3h0M121.8 131.6h0M118.0 144.0h0M131.0 142.4h0M119.9 138.6h0M135.8 141.3h0M135.3 130.0h0M115.8 131.8h0M124.7 135.0h0M120.6 135.3h0M114.8 145.4h0M114.1 138.9h0M122.5 140.2h0M130.0 136.4h0M130.1 129.9h0M109.3 128.3h0M110.1 134.0h0M129.9 137.7h0M117.9 143.4h0M126.0 137.2h0M128.5 139.8h0M128.6 129.7h0M125.6 135.6h0M117.0 143.8h0M129.7 127.4h0M116.9 141.3h0M129.9 151.6h0M124.9 131.0h0M117.5 136.9h0M110.1 126.5h0M124.7 139.8h0M140.9 131.5h0M126.4 145.6h0M126.7 135.8h0M119.2 139.5h0M115.0 131.3h0M118.1 138.8h0M120.7 132.5h0M136.6 142.0h0M117.1 138.7h0M141.4 131.3h0M127.4 141.0h0M120.0 134.8h0M126.6 141.3h0M125.0 144.4h0M119.2 132.8h0M130.7 143.0h0M119.5 129.2h0M126.1 129.1h0M126.4 134.2h0M132.1 138.7h0M118.4 130.1h0M123.4 131.3h0M121.2 140.0h0M115.8 139.3h0M126.8 139.9h0M120.6 138.6h0M134.5 138.5h0M122.6 144.8h0M130.3 141.3h0M140.4 140.8h0M133.0 141.6h0M117.4 141.1h0M130.6 131.3h0M131.0 141.7h0M117.2 131.4h0M134.5 131.2h0M121.8 139.9h0M142.8 133.9h0M124.3 133.1h0M123.0 134.5h0M114.7 137.6h0M122.7 147.7h0M132.5 129.4h0M116.7 131.4h0M122.7 135.2h0M130.4 139.0h0M114.4 138.8h0M133.5 142.5h0M135.7 139.6h0M122.5 140.5h0M123.2 130.5h0M125.1 139.5h0M119.3 137.8h0M121.9 128.6h0M129.5 137.8h0M136.7 136.1h0M128.1 137.6h0M115.4 138.3h0M127.9 138.6h0M125.3 140.6h0M134.4 145.3h0M133.2 145.2h0M128.5 147.0h0M128.4 142.2h0M120.2 133.5h0M127.7 140.1h0M136.0 137.6h0M134.6 142.4h0M128.3 139.4h0M121.8 142.4h0M129.7 136.7h0M120.5 143.2h0M116.1 136.9h0M114.5 135.4h0M117.4 133.4h0M128.9 143.3h0M134.1 135.4h0M110.5 134.6h0M140.2 144.3h0M133.0 139.8h0M118.3 136.7h0M118.8 146.3h0M129.5 139.7h0M118.4 137.8h0M120.7 128.0h0M111.0 139.2h0M128.3 134.7h0M121.6 135.2h0M133.5 136.9h0M121.1 138.1h0M128.5 138.1h0M112.5 137.6h0M124.9 135.7h0M135.7 133.2h0M111.8 136.9h0M120.3 136.7h0M137.3 142.2h0M123.8 143.4h0M121.1 141.1h0M117.8 137.1h0M130.3 130.1h0M116.4 134.5h0M123.2 131.4h0M139.3 140.5h0M125.2 140.6h0M120.3 140.5h0M134.3 131.5h0M139.3 145.0h0M129.2 148.1h0M132.9 128.9h0M117.4 135.9h0M125.5 135.0h0M118.0 129.5h0M122.2 146.0h0M131.8 137.9h0M133.3 135.0h0M114.7 146.4h0M119.4 136.2h0M114.3 142.6h0M132.8 146.5h0M114.8 144.4h0M122.1 142.9h0M114.8 127.8h0M124.6 143.2h0M130.6 145.4h0M132.6 130.4h0M135.9 143.9h0M113.8 130.2h0M119.7 136.8h0M120.1 131.9h0M128.3 136.9h0M119.2 131.8h0M119.5 131.5h0M110.4 138.8h0M125.3 133.4h0M120.4 137.2h0M131.6 142.2h0M125.1 136.5h0M126.2 131.5h0M121.9 136.7h0M135.9 139.3h0M136.4 145.6h0M125.0 137.9h0M117.6 136.8h0M126.1 134.5h0M120.6 139.3h0M119.5 134.2h0M131.1 137.6h0M116.7 134.0h0M134.0 134.6h0M121.6 151.0h0M120.1 134.7h0M130.1 135.4h0M131.8 128.2h0M139.5 146.3h0M126.4 134.3h0M124.3 139.5h0M131.0 133.9h0M112.2 139.6h0M137.6 135.5h0M129.6 141.3h0M114.6 132.3h0M115.1 143.2h0M116.9 128.4h0M131.7 139.2h0M126.0 133.4h0M127.3 133.4h0M129.5 140.0h0M130.4 145.6h0M126.2 139.5h0M127.2 135.4h0M122.3 138.9h0M128.4 138.7h0M110.0 141.3h0M130.4 140.3h0M118.8 140.5h0M111.6 141.9h0M136.0 136.1h0M112.2 136.8h0M127.0 136.1h0M116.7 143.9h0M123.8 140.7h0M130.1 139.5h0M133.2 142.0h0M117.1 137.0h0M116.6 139.8h0M113.0 138.1h0M130.5 136.1h0M122.4 130.2h0M134.7 143.6h0M127.5 127.6h0M123.1 131.8h0M123.0 136.3h0M112.4 146.0h0M130.7 142.9h0M132.7 133.7h0M124.1 134.0h0M127.3 144.0h0M118.0 138.8h0M133.7 139.3h0M120.7 132.5h0M118.8 138.7h0M114.5 128.6h0M128.9 148.5h0M124.9 139.6h0M114.6 140.0h0M109.2 132.3h0M124.4 138.2h0M111.9 147.0h0M116.4 147.9h0M113.1 142.1h0M133.8 139.0h0M115.3 147.7h0M124.1 141.3h0M130.9 127.1h0M113.4 130.5h0M120.5 137.6h0M124.0 142.1h0M125.0 129.2h0M125.8 134.2h0M124.4 129.0h0M119.0 143.5h0M133.5 133.8h0M130.9 134.6h0M122.4 135.7h0M129.5 124.5h0M117.5 142.1h0M130.8 141.5h0M123.3 130.0h0M126.9 132.6h0M129.0 129.5h0M121.1 139.9h0M113.7 139.9h0M124.3 128.2h0M135.0 134.9h0M127.4 139.2h0M109.3 131.7h0M122.8 132.0h0M114.6 133.7h0M136.6 140.6h0M125.0 135.4h0M140.4 137.3h0M124.2 135.8h0M125.7 141.5h0M126.5 146.7h0M137.6 137.5h0M120.1 133.1h0M126.4 139.0h0M134.2 126.2h0M122.9 141.1h0M127.2 144.6h0M119.2 145.7h0M131.6 133.3h0M130.3 136.5h0M133.0 127.6h0M126.2 144.9h0M116.5 125.1h0M122.9 139.3h0M120.5 145.3h0M118.8 134.0h0M117.9 138.5h0M128.7 149.1h0M119.4 130.9h0M124.5 151.0h0M120.0 138.7h0M120.0 141.7h0M124.4 139.1h0M124.3 132.4h0M117.9 129.4h0M136.9 131.8h0M133.8 134.2h0M113.8 127.7h0M126.6 130.9h0M119.0 143.9h0M114.9 140.4h0M136.7 139.1h0M133.4 139.7h0M119.8 137.0h0M131.9 138.4h0M131.2 134.1h0M119.4 134.7h0M123.4 151.9h0M112.0 134.6h0M119.8 141.4h0M119.6 139.7h0M127.4 132.7h0M117.5 139.3h0M131.2 145.8h0M134.1 134.3h0M125.0 130.4h0M129.3 139.6h0M117.8 141.7h0M119.5 131.9h0M118.4 141.6h0M115.0 136.5h0M117.0 138.8h0M133.0 137.1h0M128.6 137.3h0M128.1 142.9h0M119.5 142.5h0M131.6 139.1h0M129.9 140.3h0M126.2 143.9h0M128.8 132.9h0M125.2 133.2h0M120.6 139.4h0M131.3 138.9h0M123.6 136.3h0M123.4 138.0h0M117.7 136.9h0M114.7 135.7h0M125.4 137.6h0M126.8 129.4h0M115.2 141.7h0M122.7 146.4h0M115.5 147.7h0M115.7 138.0h0M122.6 142.1h0M112.9 137.0h0M117.7 143.3h0M135.0 145.4h0M114.2 139.6h0M116.2 134.2h0M118.8 133.4h0M120.4 144.9h0M123.9 140.7h0M119.3 136.4h0M117.8 143.4h0M135.0 139.2h0M117.8 136.4h0M118.4 142.8h0M118.9 132.6h0M111.7 137.2h0M123.3 132.6h0M118.1 137.5h0M128.1 128.5h0M141.6 131.9h0M126.2 133.7h0M129.9 135.8h0M114.5 136.6h0M133.2 137.4h0M109.8 139.2h0M126.8 143.3h0M115.3 147.0h0M111.6 140.9h0M120.0 131.3h0M134.7 136.8h0M116.6 135.2h0M125.1 134.8h0M116.4 137.2h0M122.5 142.5h0M121.8 136.2h0M136.1 135.6h0M110.5 136.0h0M111.2 143.6h0M127.8 147.5h0M114.2 132.3h0M122.1 138.7h0M112.9 138.0h0M120.5 140.5h0M124.2 140.8h0M125.5 138.1h0M116.7 133.9h0M114.7 135.1h0M131.0 142.0h0M121.8 151.0h0M117.4 134.6h0M123.5 135.5h0M117.9 142.1h0M127.1 135.9h0M137.0 138.1h0M126.7 133.7h0M120.0 134.0h0M116.7 122.6h0M112.1 136.4h0M122.5 142.8h0M128.0 143.0h0M126.2 137.4h0M130.9 127.0h0M123.1 136.7h0M126.7 139.0h0M121.1 139.4h0M121.5 136.8h0M135.7 129.5h0M120.5 131.4h0M118.9 130.3h0M123.7 132.5h0M129.4 143.4h0M126.3 136.9h0M112.1 141.3h0M113.8 132.9h0M124.6 149.6h0M119.9 134.1h0M118.3 142.5h0M132.8 139.9h0M124.0 138.9h0M123.1 140.3h0M127.7 138.0h0M121.9 142.4h0M121.2 139.5h0M127.8 140.4h0M127.8 135.6h0M132.0 139.7h0M128.3 135.3h0M125.1 133.9h0M123.8 133.9h0M123.7 132.0h0M119.7 136.2h0M113.9 130.8h0M122.5 132.8h0M137.3 132.9h0M116.2 143.6h0M114.4 139.1h0M119.9 140.1h0M116.2 141.1h0M127.4 144.2h0M125.4 141.4h0M121.2 137.2h0M131.6 131.8h0M128.5 132.6h0M123.8 127.8h0M123.7 133.0h0M121.0 145.7h0M125.8 145.1h0M122.2 133.8h0M125.9 129.5h0M122.9 141.0h0M122.6 137.1h0M121.4 133.7h0M136.2 133.1h0M127.2 140.4h0M129.9 141.1h0M113.0 135.3h0M119.7 142.5h0M135.2 125.5h0M116.5 135.5h0M128.6 148.1h0M123.7 139.3h0M129.1 135.2h0M119.5 141.5h0M131.7 136.2h0M126.2 138.4h0M123.9 133.1h0M133.5 138.2h0M131.3 134.8h0M115.0 142.5h0M123.3 139.5h0M114.5 130.5h0M110.8 139.9h0M135.9 135.2h0M123.8 139.4h0M126.5 146.0h0M119.6 143.0h0M120.8 141.1h0M114.6 136.5h0M123.2 146.7h0M129.5 140.8h0M123.0 146.9h0M128.3 137.4h0M132.5 140.8h0M137.4 137.1h0M118.0 145.1h0M116.1 148.5h0M126.0 142.7h0M127.4 136.6h0M125.1 135.3h0M115.8 143.0h0M125.1 143.9h0M117.0 140.4h0M113.6 134.3h0M137.4 137.7h0M120.7 139.2h0M137.8 135.2h0M137.8 129.4h0M129.6 146.5h0M117.4 140.3h0M130.4 134.2h0M124.7 137.2h0M124.3 149.7h0M114.9 130.7h0M121.6 137.7h0M122.7 139.2h0M124.7 133.5h0M128.1 139.5h0M121.4 134.7h0M126.1 143.2h0M110.5 126.7h0M111.9 142.1h0M118.2 127.6h0M129.8 137.6h0M122.3 140.8h0M121.5 138.0h0M113.5 142.9h0M142.5 132.2h0M113.5 136.4h0M124.8 134.4h0M130.2 151.1h0M122.5 144.5h0M121.7 142.0h0M130.6 139.0h0M121.4 134.8h0M125.4 138.2h0M128.5 141.3h0M128.7 132.2h0M125.2 147.2h0M125.6 136.6h0M131.3 132.8h0M125.2 125.5h0M128.8 145.7h0M128.5 132.0h0M119.4 142.5h0M118.2 138.5h0M109.5 138.6h0M125.3 130.2h0M130.0 134.3h0M122.4 138.8h0M128.8 136.6h0M127.5 145.7h0M131.6 141.8h0M109.7 131.0h0M119.6 138.5h0M132.5 143.4h0M117.6 138.5h0M124.4 132.4h0M126.7 140.8h0M121.9 130.8h0M134.0 131.6h0M132.7 138.3h0M128.3 136.3h0M125.3 134.0h0M128.9 138.1h0M112.7 133.1h0M125.3 141.2h0M128.8 128.2h0M123.6 141.1h0M115.6 136.4h0M122.5 137.6h0M127.0 133.4h0M134.9 140.3h0M133.1 132.9h0M117.8 138.3h0M113.7 136.0h0M135.5 146.3h0M122.7 128.0h0M138.9 133.7h0M113.6 139.1h0M127.8 140.0h0M122.3 137.1h0M127.6 128.9h0M126.5 140.2h0M127.6 147.2h0M128.4 140.6h0M126.8 139.6h0M131.6 127.3h0M130.2 135.5h0M127.5 142.0h0M126.5 142.9h0M121.4 149.7h0M114.5 129.6h0M118.9 141.3h0M119.2 141.4h0M119.6 137.4h0M135.1 143.0h0M111.6 136.2h0M116.9 135.4h0M123.0 146.9h0M137.0 140.9h0M125.3 135.5h0M118.2 144.0h0M127.1 147.9h0M130.2 136.9h0M130.7 144.7h0M127.7 134.1h0M136.0 142.8h0M122.8 140.8h0M114.5 138.4h0M126.2 131.5h0M115.1 141.8h0M120.5 134.8h0M131.5 135.7h0M115.9 144.3h0M130.8 137.6h0M114.7 138.4h0M138.6 132.2h0M131.7 137.8h0M131.6 145.7h0M126.0 134.6h0M121.4 131.2h0M118.1 124.8h0M115.1 144.3h0M120.0 142.3h0M131.9 144.3h0M128.3 136.7h0M120.5 144.2h0M140.2 149.0h0M124.5 133.3h0M118.6 140.9h0M140.4 139.9h0M126.4 148.3h0M123.9 127.4h0M138.9 131.5h0M125.4 143.1h0M120.3 129.6h0M119.5 133.7h0M125.1 127.6h0M122.3 146.7h0M127.6 141.0h0M116.8 139.0h0M133.0 133.9h0M116.6 131.9h0M127.9 132.1h0M133.1 134.0h0M118.0 143.2h0M123.9 128.3h0M117.4 142.6h0M121.9 141.9h0M117.8 131.1h0M127.6 143.6h0M120.3 143.7h0M130.8 133.8h0M110.4 139.8h0M136.3 142.0h0M118.7 135.8h0M114.7 136.3h0M115.3 143.2h0M128.9 135.0h0M133.4 144.5h0M129.1 137.6h0M116.4 127.7h0M124.2 140.0h0M121.2 135.7h0M127.9 129.1h0M124.9 131.7h0M132.6 135.6h0M133.1 132.1h0M113.4 143.6h0M114.1 140.4h0M118.5 132.0h0M118.6 137.5h0M119.6 144.2h0M137.4 143.3h0M117.9 141.3h0M118.0 129.6h0M129.3 142.7h0M118.5 134.7h0M122.8 143.1h0M119.8 138.7h0M119.6 133.1h0M114.5 132.9h0M122.8 136.3h0M111.0 143.8h0M134.7 142.3h0M122.5 134.9h0M138.2 136.1h0M134.0 128.8h0M126.2 133.9h0M122.2 134.7h0M115.1 139.1h0M112.2 134.4h0M142.6 139.0h0M120.2 127.8h0M121.9 139.0h0M123.7 139.1h0M121.5 141.1h0M125.5 141.1h0M124.6 139.5h0M119.4 135.5h0M124.6 136.4h0M120.7 136.0h0M121.5 138.3h0M115.6 137.6h0M135.2 150.5h0M121.6 134.3h0M128.5 143.7h0M121.5 134.5h0M123.7 138.8h0M119.0 130.3h0M118.5 141.5h0M110.6 138.5h0M128.0 148.8h0M121.0 132.0h0M137.4 127.6h0M127.2 134.6h0M124.4 144.8h0M121.3 144.8h0M127.8 143.8h0M117.2 143.4h0M124.4 134.5h0M131.2 138.2h0M131.9 143.0h0M130.7 141.8h0M118.5 143.8h0M127.1 137.9h0M124.6 145.2h0M119.9 134.0h0M135.9 130.3h0M117.0 140.6h0M130.0 138.6h0M129.6 133.9h0M111.9 134.4h0M115.8 142.9h0M132.8 139.1h0M120.4 139.6h0M123.2 133.6h0M120.6 141.1h0M129.8 138.7h0M117.4 135.6h0M117.2 132.6h0M115.7 136.0h0M121.4 146.8h0M136.1 138.9h0M126.3 142.6h0M135.8 141.3h0M116.5 138.9h0M128.4 130.0h0M120.7 142.7h0M129.3 140.9h0M111.9 150.4h0M120.0 144.9h0M112.9 130.2h0M129.7 137.4h0M117.0 136.5h0M123.5 143.6h0M133.2 134.8h0M125.0 140.0h0M131.0 128.0h0M135.3 140.3h0M139.5 136.8h0M124.4 142.9h0M118.7 140.2h0M124.6 146.3h0M128.2 135.8h0M117.2 135.6h0M119.4 136.9h0M123.4 135.0h0M124.1 132.0h0M131.2 144.6h0M125.0 136.2h0M121.0 134.2h0M128.3 141.5h0M126.2 131.8h0M112.7 131.3h0M127.4 137.7h0M121.9 124.3h0M117.0 129.7h0M127.3 133.2h0M122.5 140.4h0M128.7 137.7h0M129.7 133.9h0M118.7 129.5h0M114.2 127.5h0M138.3 146.2h0M126.4 148.7h0M120.8 141.3h0M121.5 134.4h0M134.7 142.0h0M121.8 136.0h0M121.1 137.1h0M114.5 127.4h0M115.1 147.1h0M131.7 137.1h0M125.8 143.1h0M129.9 132.6h0M108.3 145.5h0M125.9 140.1h0M114.9 148.6h0M131.1 137.2h0M121.8 147.0h0M129.3 128.2h0M127.6 132.0h0M118.2 146.2h0M128.4 141.5h0M127.8 128.0h0M114.3 144.9h0M124.1 138.5h0M130.0 137.0h0M112.0 135.0h0M118.0 138.7h0M118.8 139.5h0M136.0 135.0h0M123.4 130.2h0M121.9 148.5h0M120.4 140.1h0M120.2 126.9h0M126.3 140.6h0M127.6 136.8h0M126.8 135.7h0M122.3 132.2h0M120.8 137.1h0" stroke="#e2383c" stroke-width="0.68" stroke-linecap="round" stroke-opacity="0.35"/>
<path d="M134.5 136.2h0M136.3 130.2h0M128.9 133.6h0M139.6 140.6h0M137.0 131.2h0M137.6 138.1h0M127.3 130.6h0M130.4 135.2h0M128.4 136.9h0M129.8 142.1h0M132.6 129.3h0M127.9 136.8h0M129.8 128.7h0M136.5 133.2h0M131.7 132.9h0M129.5 136.0h0M132.1 136.5h0M131.5 130.7h0M134.0 137.3h0M142.3 130.8h0M132.9 141.9h0M132.6 131.4h0M124.6 128.9h0M131.1 136.7h0M132.7 131.8h0M137.6 130.8h0M134.5 139.5h0M133.7 135.5h0M126.3 135.1h0M139.4 136.3h0M135.4 138.5h0M135.5 129.2h0M136.3 124.1h0M127.1 131.4h0M134.1 133.6h0M136.0 138.6h0M129.8 142.5h0M133.9 130.7h0M133.6 138.8h0M137.4 133.6h0M129.8 136.9h0M129.2 139.0h0M131.1 129.7h0M136.7 128.6h0M140.8 129.8h0M130.0 132.0h0M125.5 136.2h0M127.4 135.5h0M136.2 131.9h0M134.9 132.2h0M133.1 136.2h0M135.2 138.2h0M133.8 140.5h0M135.6 137.9h0M133.1 134.4h0M134.5 132.2h0M128.1 140.6h0M131.6 135.6h0M134.7 131.0h0M138.0 133.8h0M126.1 136.4h0M132.9 137.8h0M135.5 131.8h0M126.2 132.8h0M134.5 131.8h0M128.3 143.5h0M133.7 133.5h0M134.2 126.6h0M130.1 129.6h0M133.3 136.8h0M132.0 137.9h0M123.3 133.6h0M138.0 139.0h0M129.7 135.9h0M135.0 135.7h0M128.0 136.7h0M126.2 134.3h0M141.1 134.1h0M132.4 136.4h0M134.2 140.8h0M131.4 133.5h0M130.7 131.6h0M130.7 129.4h0M132.3 137.0h0M134.0 135.4h0M129.4 139.4h0M134.5 141.0h0M134.2 132.3h0M132.6 137.3h0M128.9 136.3h0M134.1 137.3h0M131.4 137.0h0M131.5 139.3h0M132.8 134.7h0M127.8 134.4h0M134.9 142.2h0M135.0 133.6h0M131.6 136.6h0M127.6 134.7h0M129.7 131.2h0M134.8 134.4h0M137.2 132.6h0M135.8 132.9h0M129.7 135.4h0M137.6 140.1h0M132.6 136.1h0M129.9 133.0h0M129.1 138.5h0M131.4 135.4h0M125.8 138.4h0M135.5 130.9h0M136.3 134.4h0M129.7 131.1h0M133.0 139.4h0M134.1 135.8h0M128.0 132.9h0M131.7 137.8h0M132.2 134.0h0M128.7 132.7h0M132.3 136.9h0M135.8 133.2h0M135.0 132.6h0M131.5 135.8h0M130.7 147.8h0M130.4 139.2h0M135.1 133.9h0M130.6 129.6h0M137.0 135.8h0M133.0 134.4h0M132.4 132.8h0M131.7 128.9h0M136.8 131.0h0M126.7 141.1h0M133.9 132.8h0M135.7 137.3h0M132.1 135.8h0M136.9 134.0h0M133.9 134.6h0M135.2 134.9h0M129.6 132.8h0M132.7 135.5h0M138.8 137.0h0M131.9 133.8h0M129.1 133.6h0M141.2 133.5h0M132.7 134.9h0M138.7 132.6h0M125.6 132.9h0M131.5 140.3h0M125.4 133.6h0M131.2 130.6h0M136.2 134.3h0M129.8 138.5h0M129.3 133.2h0M136.0 141.4h0M132.1 135.2h0M128.3 138.3h0M132.0 136.7h0M130.5 135.5h0M135.3 138.2h0M128.5 143.1h0M132.9 128.6h0M136.8 134.2h0M137.7 143.0h0M132.8 134.2h0M139.3 129.9h0M130.9 138.3h0M128.6 138.2h0M134.2 140.9h0M132.5 134.6h0M127.9 136.6h0M133.8 139.8h0M127.8 134.8h0M135.9 136.4h0M129.4 138.6h0M136.7 136.0h0M136.2 131.4h0M130.3 136.1h0M126.8 142.9h0M136.8 136.3h0M127.1 135.3h0M138.3 134.6h0M134.9 141.4h0M135.1 139.4h0M137.0 129.8h0M136.0 137.9h0M135.8 136.1h0M135.2 132.3h0M130.7 133.4h0M130.5 130.5h0M134.6 133.2h0M137.9 141.4h0M137.2 130.0h0M130.4 138.8h0M132.8 136.3h0M133.1 142.1h0M133.2 132.6h0M139.1 141.4h0M133.6 136.8h0M135.3 139.6h0M130.4 136.5h0M132.0 131.1h0M137.8 136.6h0M131.9 131.2h0M135.3 130.9h0M134.8 136.4h0M131.8 138.3h0M135.8 137.0h0M132.8 133.6h0M130.9 140.1h0M134.1 138.6h0M130.8 137.6h0M132.9 134.9h0M133.6 136.4h0M138.8 135.8h0M137.1 133.1h0M135.9 138.4h0M137.4 136.4h0M138.0 129.5h0M138.3 139.3h0M131.9 137.4h0M128.8 132.9h0M137.7 129.2h0M132.9 137.4h0M134.5 136.2h0M133.1 130.7h0M138.1 136.2h0M137.9 133.7h0M127.3 134.3h0M131.8 134.5h0M133.2 138.5h0M126.8 137.4h0M131.7 138.5h0M134.6 139.4h0M138.2 132.3h0M130.1 136.2h0M132.6 138.8h0M134.1 131.0h0M133.3 133.5h0M129.1 128.6h0M127.2 134.7h0M129.7 140.0h0M127.9 136.7h0M127.9 133.4h0M128.1 139.9h0M135.8 132.1h0M129.1 132.8h0M130.9 134.3h0M129.6 136.8h0M129.5 139.9h0M133.4 142.9h0M138.8 136.9h0M133.7 131.2h0M138.5 138.2h0M134.2 130.7h0M133.5 129.8h0M130.8 140.1h0M126.8 137.7h0M130.5 134.2h0M136.7 130.9h0M128.9 140.6h0M138.3 139.2h0M129.3 136.2h0M136.8 136.0h0M133.2 132.0h0M134.5 139.5h0M135.7 139.7h0M131.7 128.5h0M132.5 131.5h0M129.7 128.7h0M132.2 138.1h0M131.0 127.1h0M134.7 136.6h0M138.5 136.2h0M132.0 139.7h0M131.2 135.2h0M135.4 132.6h0M135.1 137.9h0M139.9 129.5h0M129.4 141.2h0M136.7 131.0h0M130.3 138.8h0M125.5 131.0h0M134.7 137.9h0M129.3 128.1h0M131.4 135.5h0M131.8 138.0h0M130.3 130.5h0M142.5 133.0h0M127.0 135.3h0M131.5 144.0h0M131.9 133.6h0M134.9 130.4h0M137.4 136.5h0M134.5 135.7h0M122.1 135.4h0M131.0 136.5h0M136.9 136.2h0M134.1 138.5h0M139.1 140.7h0M125.4 137.0h0M128.9 134.1h0M128.4 130.4h0M134.5 133.1h0M131.7 135.4h0M133.8 134.4h0M135.7 146.0h0M135.6 138.2h0M133.8 136.3h0M133.2 127.8h0M139.0 138.9h0M137.6 137.0h0M136.9 134.5h0M128.5 131.5h0M131.0 140.7h0M139.3 141.0h0M131.9 139.2h0M132.4 134.3h0M137.0 139.8h0M133.2 128.7h0M130.3 139.9h0M138.2 137.2h0M133.5 126.4h0M132.4 136.6h0M138.9 132.3h0M134.0 135.5h0M132.2 135.2h0M127.1 135.0h0M135.3 132.0h0M127.8 132.5h0M133.4 136.7h0M138.5 141.1h0M134.6 136.0h0M130.6 136.9h0M132.6 135.3h0M130.1 144.2h0M135.6 132.5h0M131.0 132.6h0M136.3 135.3h0M136.4 142.2h0M124.9 141.0h0M132.3 133.6h0M134.7 142.8h0M132.2 140.2h0M134.4 132.5h0M137.2 138.6h0M132.6 133.0h0M133.7 132.4h0M135.7 141.8h0M135.0 135.6h0M137.3 132.3h0M134.7 131.4h0M130.2 139.9h0M126.5 130.6h0M134.3 135.0h0M126.5 134.9h0M131.0 135.1h0M125.4 134.0h0M130.4 135.7h0M135.2 135.7h0M135.8 130.0h0M135.0 137.4h0M135.7 133.1h0M138.3 134.0h0M130.9 136.1h0M136.0 131.8h0M134.3 140.9h0M137.6 134.0h0M131.4 138.8h0M137.7 130.7h0M130.2 132.2h0M135.2 133.4h0M130.2 137.7h0M132.5 139.8h0M130.7 134.9h0M136.5 138.4h0M139.4 134.9h0M135.1 139.0h0M138.1 133.2h0M136.5 144.8h0M137.3 143.7h0M132.8 129.4h0M133.4 133.8h0M131.5 145.4h0M132.1 136.0h0M130.2 139.3h0M134.1 133.0h0M136.5 140.3h0M139.6 133.7h0M135.7 136.4h0M135.5 133.8h0M137.0 144.9h0M126.5 137.6h0M126.9 137.1h0M134.7 134.8h0M135.2 137.0h0M132.8 126.2h0M135.2 141.4h0M129.3 133.9h0M132.6 132.8h0M133.7 139.1h0M134.6 134.6h0M135.9 133.8h0M132.3 139.1h0M128.2 129.0h0M130.2 141.8h0M139.4 142.0h0M130.9 135.8h0M127.7 135.9h0M134.5 138.7h0M127.1 128.6h0M131.9 136.6h0M135.3 135.5h0M129.5 132.8h0M136.9 129.3h0M130.8 134.7h0M132.0 137.1h0M138.4 134.0h0M139.9 128.5h0M139.9 127.9h0M133.7 136.0h0M124.9 139.9h0M133.9 134.0h0M130.2 132.3h0M134.4 133.6h0M131.1 132.4h0M134.2 141.2h0M128.1 136.5h0M132.0 127.8h0M132.9 133.7h0M134.0 138.4h0M133.1 133.8h0M135.5 140.8h0M133.4 143.6h0M131.1 133.0h0M131.0 133.4h0M135.7 135.3h0M133.8 132.9h0M138.3 145.0h0M128.9 137.7h0M130.3 137.6h0M130.4 127.9h0M131.0 142.2h0M134.7 139.3h0M134.1 136.2h0M128.8 134.3h0M132.6 135.2h0M129.7 131.1h0M131.1 136.5h0M124.7 139.7h0M128.9 135.2h0M132.0 138.4h0M131.5 133.6h0M135.8 136.4h0M132.7 133.1h0M131.1 137.9h0M124.7 133.1h0M133.1 128.6h0M133.2 139.4h0M134.0 129.2h0M130.8 135.7h0M129.9 129.0h0M133.9 136.3h0M135.0 139.3h0M136.8 129.3h0M129.5 131.0h0M138.2 137.2h0M132.3 140.3h0M130.9 135.9h0M128.9 134.3h0M137.7 131.5h0M132.8 137.3h0M127.6 136.1h0M124.4 123.1h0M127.5 140.2h0M138.6 136.4h0M134.8 132.1h0M131.0 135.5h0M135.7 139.6h0M128.6 135.8h0M134.7 132.8h0M135.9 138.8h0M128.5 137.4h0M137.2 134.0h0M130.1 140.1h0M136.4 136.9h0M135.0 130.0h0M134.4 135.7h0M142.2 140.5h0M138.2 133.8h0M133.3 138.1h0M132.8 134.7h0M131.7 143.3h0M128.8 134.0h0M135.0 136.0h0M129.7 130.6h0M135.9 134.1h0M132.3 134.3h0" stroke="#e2383c" stroke-width="0.68" stroke-linecap="round" stroke-opacity="0.5"/>
<ellipse cx="124.00" cy="138.50" rx="11.00" ry="7.00" fill="#e2383c" fill-opacity="0.2" filter="url(#b08)"/>
<ellipse cx="132.00" cy="135.00" rx="6.50" ry="5.50" fill="#e2383c" fill-opacity="0.45" filter="url(#b08)"/>
<ellipse cx="135.00" cy="133.00" rx="3.80" ry="3.60" fill="#e2383c" fill-opacity="0.85" filter="url(#b06)"/>
<ellipse cx="136.80" cy="141.00" rx="1.40" ry="5.00" fill="#8d7aa8" fill-opacity="0.5" filter="url(#b05)"/>
<path d="M134.1 148.2h0M136.5 146.8h0M137.3 152.4h0M129.4 154.2h0M134.8 151.0h0M135.0 153.2h0M136.6 151.1h0M134.8 153.6h0M138.0 148.6h0M135.5 153.2h0M136.4 150.8h0M136.1 151.3h0M138.6 152.6h0M136.5 147.2h0M135.8 146.0h0M134.5 155.8h0M134.8 150.0h0M135.5 146.5h0M132.1 150.0h0M134.4 149.3h0M135.3 153.8h0M134.2 152.4h0M136.6 149.9h0M137.6 150.7h0M136.1 153.6h0M134.2 149.8h0M132.3 150.0h0M139.3 151.3h0M131.7 152.7h0M138.7 154.0h0M134.7 149.3h0M137.1 151.1h0M133.5 152.5h0M137.5 154.3h0M134.7 150.8h0M132.6 148.5h0M133.5 149.1h0M133.7 154.7h0M138.1 148.3h0M139.5 152.6h0M135.8 154.2h0M136.8 150.7h0M134.0 147.0h0M136.2 149.4h0M133.8 146.0h0M133.4 150.4h0M136.1 155.0h0M134.6 151.1h0M137.0 150.6h0M133.4 154.7h0M135.2 150.0h0M141.8 151.7h0M138.3 148.1h0M132.4 151.9h0M134.3 149.6h0M135.7 150.8h0M138.8 150.9h0M137.6 146.8h0M137.8 148.6h0M133.8 145.1h0M136.5 154.4h0M134.8 150.7h0M136.5 146.9h0M135.3 152.4h0M134.9 151.2h0M136.8 151.4h0M134.8 147.0h0M136.4 149.7h0M135.5 152.8h0M135.0 151.8h0M133.1 147.9h0M135.2 150.4h0M136.0 151.8h0M137.4 149.5h0M136.8 147.9h0M133.5 155.2h0M134.3 146.9h0M131.9 149.4h0M132.9 149.8h0M134.0 150.1h0" stroke="#27b2e6" stroke-width="0.68" stroke-linecap="round" stroke-opacity="0.5"/>
<ellipse cx="135.30" cy="150.80" rx="3.20" ry="3.40" fill="#27b2e6" fill-opacity="1.0" filter="url(#b05)"/>
<text transform="translate(103.40,135.60) rotate(-90)" font-size="11.71" fill="#333" text-anchor="middle" textLength="20.20" lengthAdjust="spacingAndGlyphs" >CD28</text>
<text x="110.80" y="168.50" font-size="11.57" fill="#333" text-anchor="start" textLength="27.20" lengthAdjust="spacingAndGlyphs" >DNAM1</text>
<rect x="172.40" y="108.40" width="48.50" height="48.50" fill="none" stroke="#9c9c9c" stroke-width="1.3" rx="0.8"/>
<line x1="172.10" y1="119.07" x2="173.00" y2="119.07" stroke="#444" stroke-width="0.9" />
<line x1="172.10" y1="123.92" x2="173.00" y2="123.92" stroke="#444" stroke-width="0.9" />
<line x1="172.10" y1="128.77" x2="173.00" y2="128.77" stroke="#444" stroke-width="0.9" />
<line x1="172.10" y1="133.62" x2="173.00" y2="133.62" stroke="#444" stroke-width="0.9" />
<line x1="172.10" y1="138.47" x2="173.00" y2="138.47" stroke="#444" stroke-width="0.9" />
<line x1="172.10" y1="143.32" x2="173.00" y2="143.32" stroke="#444" stroke-width="0.9" />
<line x1="172.10" y1="148.17" x2="173.00" y2="148.17" stroke="#444" stroke-width="0.9" />
<line x1="172.10" y1="153.02" x2="173.00" y2="153.02" stroke="#444" stroke-width="0.9" />
<line x1="175.31" y1="156.40" x2="175.31" y2="157.20" stroke="#555" stroke-width="0.8" />
<line x1="179.92" y1="156.40" x2="179.92" y2="157.20" stroke="#555" stroke-width="0.8" />
<line x1="184.53" y1="156.40" x2="184.53" y2="157.20" stroke="#555" stroke-width="0.8" />
<line x1="189.13" y1="156.40" x2="189.13" y2="157.20" stroke="#555" stroke-width="0.8" />
<line x1="193.74" y1="156.40" x2="193.74" y2="157.20" stroke="#555" stroke-width="0.8" />
<line x1="198.35" y1="156.40" x2="198.35" y2="157.20" stroke="#555" stroke-width="0.8" />
<line x1="202.96" y1="156.40" x2="202.96" y2="157.20" stroke="#555" stroke-width="0.8" />
<line x1="207.56" y1="156.40" x2="207.56" y2="157.20" stroke="#555" stroke-width="0.8" />
<line x1="212.17" y1="156.40" x2="212.17" y2="157.20" stroke="#555" stroke-width="0.8" />
<line x1="216.78" y1="156.40" x2="216.78" y2="157.20" stroke="#555" stroke-width="0.8" />
<rect x="178.22" y="156.70" width="3.50" height="1.00" fill="#555" />
<path d="M191.4 135.2h0M193.2 126.9h0M191.2 147.6h0M196.4 140.0h0M196.6 137.2h0M193.3 137.1h0M191.0 134.1h0M195.2 144.9h0M201.2 143.7h0M195.8 133.6h0M199.6 138.7h0M198.9 139.1h0M200.0 134.9h0M194.5 133.1h0M199.2 140.5h0M194.4 144.7h0M193.6 131.8h0M196.3 148.7h0M196.8 143.3h0M196.8 142.3h0M199.2 143.6h0M196.2 144.6h0M193.1 131.6h0M191.2 145.0h0M197.0 139.3h0M194.8 144.6h0M202.4 149.8h0M191.3 144.6h0M195.3 134.2h0M195.7 134.2h0M194.7 139.1h0M197.6 129.8h0M196.3 138.4h0M202.1 136.0h0M186.1 146.4h0M195.5 142.8h0M197.9 147.9h0M197.1 140.2h0M194.9 137.2h0M199.3 136.7h0M197.7 142.3h0M198.7 141.7h0M193.4 140.1h0M190.3 137.9h0M195.8 141.8h0M190.3 135.4h0M197.1 131.1h0M190.9 142.2h0M193.4 131.7h0M196.0 130.6h0M190.4 140.0h0M202.0 142.2h0M198.1 137.4h0M200.1 131.4h0M195.7 142.4h0M192.8 144.1h0M195.6 152.7h0M201.1 148.6h0M197.5 150.6h0M197.4 147.1h0M198.0 141.8h0M195.2 133.9h0M191.0 140.7h0M204.8 142.3h0M193.2 133.4h0M190.0 143.9h0M194.3 143.9h0M194.9 134.0h0M194.9 141.9h0M192.8 144.1h0M192.8 128.9h0M194.0 143.5h0M198.8 140.1h0M192.3 132.6h0M197.6 147.1h0M196.9 146.0h0M189.7 143.1h0M191.3 134.0h0M193.0 153.9h0M195.7 136.6h0M193.3 136.4h0M194.3 138.2h0M189.7 153.2h0M197.5 141.0h0M190.5 134.8h0M196.5 138.6h0M198.6 152.4h0M197.5 141.7h0M201.8 144.0h0M196.7 149.3h0M203.4 148.3h0M196.7 138.3h0M195.2 143.4h0M198.7 134.0h0M195.1 134.6h0M190.9 142.3h0M197.6 145.7h0M193.1 145.8h0M194.1 133.2h0M192.7 139.6h0M192.3 143.1h0M193.0 145.1h0M202.6 144.1h0M194.3 133.4h0M203.4 142.5h0M199.7 146.3h0M196.2 130.8h0M200.0 139.4h0M195.1 146.1h0M194.4 142.6h0M201.0 144.6h0M201.8 137.8h0M198.2 144.6h0M194.9 141.8h0M192.5 137.9h0M199.3 148.8h0M195.2 137.1h0M192.2 142.2h0M199.9 144.7h0M198.1 147.5h0M189.3 136.2h0M199.0 138.0h0M198.2 139.5h0M189.3 143.1h0M199.6 149.5h0M200.4 136.8h0M198.0 147.6h0M196.6 144.1h0M191.5 140.9h0M196.0 142.0h0M198.1 151.6h0M192.6 144.3h0M195.1 148.0h0M202.2 146.2h0M198.4 144.6h0M195.2 142.7h0M196.1 146.7h0M203.2 144.4h0M199.4 139.6h0M198.7 149.2h0M194.8 140.5h0M192.5 137.6h0M196.0 145.0h0M195.0 148.1h0M196.1 141.2h0M192.5 142.0h0M195.9 131.2h0M189.0 139.3h0M195.2 130.6h0M192.7 132.7h0M197.0 136.1h0M199.1 150.8h0M194.5 145.3h0M194.9 143.6h0M196.0 138.1h0M190.6 138.1h0M199.2 137.7h0M192.7 140.7h0M201.4 143.2h0M188.2 137.8h0M196.8 130.3h0M198.5 137.3h0M194.2 138.3h0M195.2 147.2h0M189.2 138.3h0M201.7 154.8h0M190.7 139.5h0M197.8 137.9h0M198.6 142.5h0M191.2 132.9h0M197.6 127.6h0M191.4 130.8h0M195.1 139.0h0M195.6 154.5h0M199.0 152.7h0M194.5 127.3h0M199.3 145.1h0M192.2 132.0h0M194.6 133.5h0M194.5 132.3h0M196.8 137.2h0M190.5 146.4h0M195.0 138.6h0M195.3 135.2h0M193.0 147.9h0M196.3 140.3h0M195.2 140.8h0M196.9 144.9h0M197.4 139.4h0M198.4 145.2h0M188.5 148.5h0M196.2 135.1h0M195.1 143.3h0M196.1 134.0h0M194.3 142.9h0M193.2 137.1h0M193.6 131.3h0M194.5 148.6h0M196.7 145.3h0M196.2 143.7h0M198.3 142.0h0M193.6 143.9h0M202.3 142.6h0M191.9 141.9h0M194.8 136.4h0M195.3 141.6h0M202.0 142.1h0M196.8 134.5h0M193.3 141.7h0M190.7 136.9h0M192.3 136.7h0M192.6 139.5h0M202.1 147.2h0M199.4 146.9h0M196.1 139.7h0M198.0 140.4h0M197.5 145.2h0M198.4 146.3h0M198.3 137.9h0M194.3 131.2h0M198.0 148.3h0M194.6 135.7h0M188.2 136.8h0M192.7 143.9h0M193.6 139.2h0M190.3 143.2h0M190.9 132.4h0M202.4 154.3h0M196.3 145.8h0M199.6 153.0h0M195.5 137.2h0M195.1 139.2h0M192.4 140.3h0M195.5 146.7h0M193.0 136.2h0M197.9 136.7h0M196.4 137.7h0M192.4 138.0h0M195.9 136.4h0M194.4 135.5h0M198.4 137.0h0M192.8 143.6h0M194.8 137.5h0M196.7 127.1h0M193.7 141.8h0M192.4 140.1h0M198.8 132.1h0M194.5 140.8h0M190.6 139.7h0M198.5 135.2h0M194.2 139.0h0M194.2 140.6h0M192.4 148.0h0M201.1 134.3h0M197.1 146.7h0M199.6 142.7h0M195.0 136.6h0M196.2 135.7h0M195.8 134.9h0M195.4 140.7h0M191.1 135.0h0M201.6 155.2h0M193.5 147.6h0M192.8 135.4h0M196.5 136.2h0M194.1 145.2h0M197.1 140.0h0M205.3 143.7h0M197.0 139.7h0M196.2 150.1h0M193.1 142.7h0M195.7 135.9h0M194.5 147.6h0M196.1 145.8h0M198.8 136.1h0M200.0 142.7h0M196.3 132.8h0M192.6 146.4h0M199.8 135.2h0M196.5 136.9h0M197.5 134.0h0M193.4 137.2h0M194.0 149.3h0M195.4 149.6h0M191.8 139.0h0M197.9 145.3h0M198.5 142.3h0M195.9 150.4h0M194.8 146.4h0M195.8 138.8h0M195.1 144.5h0M195.2 126.7h0M191.0 135.3h0M192.0 134.7h0M191.6 148.7h0M198.5 146.5h0M192.6 138.7h0M195.5 146.3h0M198.2 140.4h0M199.1 139.3h0M196.1 142.6h0M191.5 136.0h0M195.0 153.4h0M199.6 144.0h0M199.5 141.2h0M200.7 137.2h0M193.8 130.8h0M191.1 145.7h0M197.1 146.8h0M192.0 153.1h0M197.9 141.6h0M191.1 133.7h0M197.4 152.4h0M198.6 152.6h0M193.7 141.8h0M199.9 142.8h0M195.8 147.5h0M196.4 139.9h0M192.8 135.0h0M197.7 145.1h0M194.4 136.8h0M199.7 139.8h0M192.5 133.3h0M192.2 144.8h0M195.7 134.7h0M194.6 147.0h0M196.5 139.2h0M199.2 136.7h0M196.6 143.1h0M192.2 135.8h0M197.5 141.6h0M192.7 138.9h0M196.3 142.1h0M198.4 152.0h0M195.1 138.1h0M187.8 135.9h0M197.1 136.2h0M189.7 142.2h0M191.7 143.6h0M193.0 147.7h0M194.4 135.1h0M196.7 144.5h0M195.2 138.0h0M195.7 144.9h0M195.5 138.1h0M198.5 147.3h0M199.0 143.3h0M195.9 135.5h0M197.6 147.5h0M194.3 146.4h0M198.0 135.6h0M189.1 138.6h0M198.7 137.3h0M194.3 142.6h0M207.3 130.9h0M200.5 140.4h0M199.3 137.4h0M200.0 131.7h0M188.4 143.0h0M201.3 140.3h0M195.4 141.5h0M194.0 142.1h0M201.5 139.5h0M202.1 137.8h0M196.8 149.3h0M199.0 142.9h0M198.2 142.4h0M199.8 143.1h0M193.3 138.8h0M192.1 142.5h0M198.7 130.1h0M193.1 152.9h0M197.1 136.4h0M194.6 146.4h0M187.7 140.2h0M198.9 134.8h0M191.9 146.3h0M198.3 131.6h0M191.1 147.1h0" stroke="#e2383c" stroke-width="0.68" stroke-linecap="round" stroke-opacity="0.45"/>
<path d="M193.5 148.1h0M181.3 151.3h0M184.9 149.0h0M177.3 149.1h0M196.9 147.1h0M188.5 145.9h0M181.2 150.1h0M181.4 150.7h0M185.9 150.9h0M187.2 150.5h0M177.4 148.7h0M198.2 148.7h0M187.9 150.8h0M193.5 147.3h0M185.1 147.5h0M177.4 148.1h0M181.7 152.7h0M188.5 148.9h0M192.6 147.2h0M180.7 148.9h0M186.4 151.2h0M184.4 146.7h0M192.6 148.6h0M189.7 149.5h0M191.5 148.3h0M187.8 148.2h0M185.8 150.1h0M190.3 146.4h0M182.2 147.4h0M184.3 149.9h0M190.0 147.3h0M185.7 147.3h0M182.9 146.9h0M191.4 149.5h0M184.8 149.1h0M191.3 147.9h0M192.6 149.5h0M180.0 149.4h0M182.7 148.8h0M191.3 145.7h0M182.0 147.2h0M178.0 151.3h0M191.6 149.8h0M197.5 147.0h0M186.6 147.4h0M185.5 148.2h0M189.0 152.3h0M195.1 148.3h0M180.6 150.8h0M182.9 151.5h0M174.8 147.7h0M178.2 148.3h0M188.7 148.6h0M191.3 147.9h0M184.2 146.1h0M183.4 151.3h0M179.6 149.2h0M201.0 144.6h0M180.7 153.8h0M188.3 150.0h0M194.9 147.8h0M201.2 150.1h0M188.5 148.8h0M192.8 151.5h0M198.1 148.9h0M179.6 146.5h0M183.3 149.4h0M184.4 150.0h0M181.6 149.5h0M185.1 148.1h0M197.9 149.9h0M177.1 150.2h0M202.0 151.9h0M190.2 149.6h0M183.9 146.6h0M199.0 148.8h0M182.0 149.0h0M174.7 148.8h0M192.5 150.3h0M180.6 149.9h0M202.6 149.1h0M190.9 149.8h0M179.8 146.5h0M184.5 148.8h0M185.2 148.1h0M192.8 150.8h0M176.8 146.4h0M187.5 148.5h0M195.2 150.9h0M182.7 151.7h0M196.2 148.1h0M194.4 148.3h0M181.8 150.1h0M186.2 150.6h0M185.6 150.9h0M180.9 147.1h0M186.5 148.4h0M183.5 148.0h0M189.0 148.0h0M195.9 151.4h0M197.8 150.8h0M182.1 148.2h0M181.3 147.3h0M187.1 150.5h0M175.3 148.3h0M186.0 147.5h0M198.5 148.5h0M176.1 148.2h0M185.7 147.0h0M187.1 149.3h0M179.0 149.5h0M174.6 149.4h0M186.7 150.9h0M187.1 148.0h0M183.3 144.6h0M180.6 145.9h0M179.5 148.6h0M192.3 151.3h0M194.8 149.7h0M183.4 147.4h0M188.6 148.0h0M190.5 153.1h0M200.7 149.6h0M186.8 149.6h0M188.1 149.7h0M191.4 149.6h0M177.1 148.6h0M198.5 147.5h0M180.4 150.6h0M183.7 150.0h0M191.2 148.8h0M194.7 148.2h0M188.0 148.6h0M187.9 148.2h0M190.0 149.5h0M175.0 152.0h0M179.9 149.4h0M180.2 148.2h0M186.3 149.3h0M181.5 149.0h0M183.8 153.1h0M185.1 147.8h0M194.3 147.5h0M181.0 147.7h0M183.3 145.5h0M188.1 146.5h0M181.1 150.7h0M181.0 147.8h0M182.4 142.9h0M199.8 150.1h0M185.0 147.4h0M182.6 147.6h0M192.4 148.9h0M193.3 147.7h0M179.3 148.0h0M188.3 149.6h0M199.3 147.2h0M180.4 147.4h0M185.0 146.7h0M183.6 146.0h0M185.0 149.3h0M195.8 151.0h0M176.7 151.2h0M200.0 149.5h0M197.0 147.7h0M184.6 150.1h0M183.6 150.3h0M201.7 149.9h0M189.3 149.1h0M198.5 147.3h0M186.8 146.8h0M186.3 147.6h0M192.4 149.2h0M189.7 148.0h0M190.2 148.5h0M190.9 147.5h0M192.8 150.1h0M181.0 150.2h0M200.0 148.4h0M194.4 147.6h0M174.1 147.2h0M186.4 150.8h0M201.6 149.6h0M178.1 147.7h0M183.3 148.0h0M184.4 150.0h0M189.1 146.1h0M192.3 147.8h0M194.4 148.3h0M185.5 148.1h0M183.9 150.5h0M176.2 148.2h0M190.8 150.8h0M193.5 149.8h0M189.2 149.8h0M187.4 149.0h0M188.6 149.8h0M184.4 149.3h0M186.6 147.4h0M187.3 148.0h0M186.8 146.6h0M202.3 147.0h0M191.9 148.7h0M199.6 147.0h0M179.9 148.6h0M188.8 151.0h0M187.6 148.3h0M185.6 147.9h0M200.5 150.4h0M191.8 149.2h0M182.2 149.2h0M193.7 151.4h0M187.1 149.1h0M196.9 148.3h0M186.3 148.7h0M187.0 150.8h0M194.9 145.5h0M185.6 146.2h0M187.4 150.5h0M179.6 149.2h0M187.6 148.9h0M191.5 151.1h0M192.5 149.6h0M181.9 147.3h0M191.7 148.4h0M189.3 148.6h0M190.7 146.3h0M186.1 146.7h0M196.1 149.4h0M181.2 148.6h0M186.6 149.0h0M177.3 148.7h0M180.9 148.6h0M190.1 146.8h0M187.7 148.6h0M189.7 148.0h0M188.6 147.8h0M195.4 145.2h0M185.1 149.3h0M194.6 148.1h0M183.4 146.6h0M177.7 149.6h0M195.2 149.8h0M186.2 148.9h0" stroke="#e2383c" stroke-width="0.68" stroke-linecap="round" stroke-opacity="0.5"/>
<ellipse cx="196.50" cy="141.50" rx="3.00" ry="5.50" fill="#e2383c" fill-opacity="0.45" filter="url(#b06)"/>
<ellipse cx="187.50" cy="148.80" rx="11.50" ry="1.90" fill="#e2383c" fill-opacity="0.95" filter="url(#b05)"/>
<ellipse cx="188.50" cy="148.60" rx="9.50" ry="1.20" fill="#27b2e6" fill-opacity="1.0" filter="url(#b04)"/>
<text transform="translate(168.80,135.60) rotate(-90)" font-size="11.86" fill="#333" text-anchor="middle" textLength="17.20" lengthAdjust="spacingAndGlyphs" >TIGIT</text>
<text x="175.40" y="168.50" font-size="11.57" fill="#333" text-anchor="start" textLength="31.60" lengthAdjust="spacingAndGlyphs" >CD45RO</text>
<rect x="238.60" y="108.40" width="48.80" height="48.50" fill="none" stroke="#9c9c9c" stroke-width="1.3" rx="0.8"/>
<line x1="238.30" y1="119.07" x2="239.20" y2="119.07" stroke="#444" stroke-width="0.9" />
<line x1="238.30" y1="123.92" x2="239.20" y2="123.92" stroke="#444" stroke-width="0.9" />
<line x1="238.30" y1="128.77" x2="239.20" y2="128.77" stroke="#444" stroke-width="0.9" />
<line x1="238.30" y1="133.62" x2="239.20" y2="133.62" stroke="#444" stroke-width="0.9" />
<line x1="238.30" y1="138.47" x2="239.20" y2="138.47" stroke="#444" stroke-width="0.9" />
<line x1="238.30" y1="143.32" x2="239.20" y2="143.32" stroke="#444" stroke-width="0.9" />
<line x1="238.30" y1="148.17" x2="239.20" y2="148.17" stroke="#444" stroke-width="0.9" />
<line x1="238.30" y1="153.02" x2="239.20" y2="153.02" stroke="#444" stroke-width="0.9" />
<line x1="241.53" y1="156.40" x2="241.53" y2="157.20" stroke="#555" stroke-width="0.8" />
<line x1="246.16" y1="156.40" x2="246.16" y2="157.20" stroke="#555" stroke-width="0.8" />
<line x1="250.80" y1="156.40" x2="250.80" y2="157.20" stroke="#555" stroke-width="0.8" />
<line x1="255.44" y1="156.40" x2="255.44" y2="157.20" stroke="#555" stroke-width="0.8" />
<line x1="260.07" y1="156.40" x2="260.07" y2="157.20" stroke="#555" stroke-width="0.8" />
<line x1="264.71" y1="156.40" x2="264.71" y2="157.20" stroke="#555" stroke-width="0.8" />
<line x1="269.34" y1="156.40" x2="269.34" y2="157.20" stroke="#555" stroke-width="0.8" />
<line x1="273.98" y1="156.40" x2="273.98" y2="157.20" stroke="#555" stroke-width="0.8" />
<line x1="278.62" y1="156.40" x2="278.62" y2="157.20" stroke="#555" stroke-width="0.8" />
<line x1="283.25" y1="156.40" x2="283.25" y2="157.20" stroke="#555" stroke-width="0.8" />
<rect x="244.46" y="156.70" width="3.50" height="1.00" fill="#555" />
<path d="M249.1 147.1h0M248.4 141.8h0M248.7 141.7h0M246.2 146.8h0M248.1 147.7h0M247.4 143.9h0M247.7 150.9h0M247.9 145.7h0M247.6 149.0h0M246.8 146.2h0M244.6 143.1h0M250.9 145.5h0M249.2 143.7h0M249.6 147.6h0M247.4 142.0h0M253.1 139.3h0M250.6 146.3h0M246.3 148.1h0M250.9 144.2h0M247.3 147.7h0M246.0 147.9h0M246.0 145.9h0M250.6 143.0h0M250.0 146.2h0M250.2 149.0h0M248.5 147.1h0M249.7 147.5h0M248.6 142.6h0M248.6 144.5h0M243.0 145.1h0M251.4 146.4h0M250.2 142.1h0M247.0 145.0h0M247.9 149.6h0M248.4 147.5h0M251.5 145.4h0M245.7 146.6h0M249.7 147.5h0M246.6 142.2h0M247.6 141.9h0M248.4 143.9h0M248.7 145.8h0M251.4 149.0h0M247.0 143.2h0M251.9 144.6h0M249.5 147.0h0M248.2 143.2h0M246.8 148.0h0M249.3 143.3h0M250.6 145.3h0M247.4 146.8h0M248.8 142.6h0M247.9 150.3h0M246.2 143.9h0M246.9 144.9h0M249.6 143.1h0M249.0 152.7h0M252.6 140.0h0M252.0 143.3h0M246.5 146.8h0M250.7 145.8h0M246.2 149.0h0M251.0 144.4h0M251.6 147.9h0M247.6 141.1h0M247.9 143.5h0M246.4 146.1h0M247.7 148.3h0M250.0 146.8h0M246.9 149.3h0M245.6 143.3h0M247.6 142.6h0M247.8 143.0h0M249.5 144.1h0M250.5 143.8h0M248.3 138.8h0M246.0 148.9h0M250.3 145.5h0M246.7 143.6h0M249.7 149.4h0M246.3 145.0h0M247.8 142.2h0M247.5 144.6h0M246.4 142.8h0M246.3 146.9h0M249.3 146.4h0M253.0 146.6h0M250.3 145.1h0M249.0 145.2h0M248.8 149.5h0M249.8 148.6h0M245.8 148.8h0M247.7 144.2h0M246.4 146.4h0M248.9 142.8h0M250.3 147.0h0M250.3 147.1h0M248.7 144.1h0M246.8 143.0h0M250.7 147.8h0M249.9 144.5h0M249.3 147.6h0M249.0 144.6h0M248.7 141.5h0M250.2 146.0h0M247.3 140.9h0M251.7 143.8h0M250.5 149.6h0M248.2 145.0h0M246.2 145.7h0" stroke="#e2383c" stroke-width="0.68" stroke-linecap="round" stroke-opacity="0.45"/>
<path d="M264.2 145.1h0M262.0 143.7h0M251.5 144.2h0M269.1 146.1h0M263.0 143.9h0M273.1 145.9h0M262.9 145.7h0M250.0 145.7h0M278.3 145.4h0M266.5 143.9h0M260.4 145.7h0M271.2 145.0h0M258.0 146.4h0M260.9 142.6h0M269.3 144.1h0M275.5 143.1h0M258.5 145.2h0M268.0 144.8h0M253.7 147.9h0M253.2 145.0h0" stroke="#e2383c" stroke-width="0.68" stroke-linecap="round" stroke-opacity="0.3"/>
<ellipse cx="248.50" cy="144.80" rx="3.00" ry="3.30" fill="#e2383c" fill-opacity="0.85" filter="url(#b05)"/>
<ellipse cx="248.50" cy="144.80" rx="2.40" ry="2.60" fill="#27b2e6" fill-opacity="1.0" filter="url(#b04)" transform="rotate(45 248.50 144.80)"/>
<text transform="translate(235.20,135.85) rotate(-90)" font-size="11.71" fill="#333" text-anchor="middle" textLength="22.50" lengthAdjust="spacingAndGlyphs" >KLRG1</text>
<text x="247.00" y="168.50" font-size="11.57" fill="#333" text-anchor="start" textLength="21.30" lengthAdjust="spacingAndGlyphs" >CTLA4</text>
<rect x="306.50" y="108.40" width="48.10" height="48.50" fill="none" stroke="#9c9c9c" stroke-width="1.3" rx="0.8"/>
<line x1="306.20" y1="119.07" x2="307.10" y2="119.07" stroke="#444" stroke-width="0.9" />
<line x1="306.20" y1="123.92" x2="307.10" y2="123.92" stroke="#444" stroke-width="0.9" />
<line x1="306.20" y1="128.77" x2="307.10" y2="128.77" stroke="#444" stroke-width="0.9" />
<line x1="306.20" y1="133.62" x2="307.10" y2="133.62" stroke="#444" stroke-width="0.9" />
<line x1="306.20" y1="138.47" x2="307.10" y2="138.47" stroke="#444" stroke-width="0.9" />
<line x1="306.20" y1="143.32" x2="307.10" y2="143.32" stroke="#444" stroke-width="0.9" />
<line x1="306.20" y1="148.17" x2="307.10" y2="148.17" stroke="#444" stroke-width="0.9" />
<line x1="306.20" y1="153.02" x2="307.10" y2="153.02" stroke="#444" stroke-width="0.9" />
<line x1="309.39" y1="156.40" x2="309.39" y2="157.20" stroke="#555" stroke-width="0.8" />
<line x1="313.96" y1="156.40" x2="313.96" y2="157.20" stroke="#555" stroke-width="0.8" />
<line x1="318.52" y1="156.40" x2="318.52" y2="157.20" stroke="#555" stroke-width="0.8" />
<line x1="323.09" y1="156.40" x2="323.09" y2="157.20" stroke="#555" stroke-width="0.8" />
<line x1="327.66" y1="156.40" x2="327.66" y2="157.20" stroke="#555" stroke-width="0.8" />
<line x1="332.23" y1="156.40" x2="332.23" y2="157.20" stroke="#555" stroke-width="0.8" />
<line x1="336.80" y1="156.40" x2="336.80" y2="157.20" stroke="#555" stroke-width="0.8" />
<line x1="341.37" y1="156.40" x2="341.37" y2="157.20" stroke="#555" stroke-width="0.8" />
<line x1="345.94" y1="156.40" x2="345.94" y2="157.20" stroke="#555" stroke-width="0.8" />
<line x1="350.51" y1="156.40" x2="350.51" y2="157.20" stroke="#555" stroke-width="0.8" />
<rect x="312.27" y="156.70" width="3.50" height="1.00" fill="#555" />
<path d="M316.4 149.5h0M315.4 139.2h0M321.6 129.2h0M315.3 136.2h0M322.6 139.6h0M315.9 146.6h0M320.1 129.7h0M318.2 147.0h0M313.9 135.9h0M319.7 134.5h0M321.9 138.6h0M318.8 140.4h0M323.5 128.9h0M313.1 138.1h0M324.1 136.0h0M323.4 145.5h0M319.0 144.9h0M315.7 128.9h0M321.0 145.6h0M313.0 150.7h0M309.2 147.4h0M326.2 141.1h0M315.2 145.2h0M312.0 138.1h0M322.7 136.2h0M317.8 138.1h0M317.7 143.5h0M322.4 144.9h0M318.6 145.4h0M310.3 137.5h0M315.7 140.1h0M319.6 137.0h0M319.9 141.6h0M311.2 143.9h0M310.4 142.9h0M320.8 147.9h0M308.5 136.8h0M313.8 136.8h0M315.1 144.0h0M320.9 138.4h0M317.8 142.8h0M311.0 145.5h0M315.7 140.0h0M309.7 144.1h0M313.3 144.2h0M320.5 151.1h0M311.6 143.5h0M323.0 141.6h0M312.3 145.7h0M321.4 146.8h0M316.7 142.5h0M319.2 135.0h0M316.6 124.4h0M313.8 141.8h0M323.7 140.5h0M320.0 142.2h0M315.6 137.1h0M321.9 145.0h0M317.9 134.6h0M320.1 139.6h0M325.6 126.6h0M320.6 150.7h0M318.3 139.6h0M315.9 136.5h0M313.6 137.9h0M316.4 142.1h0M321.3 146.0h0M312.1 153.1h0M325.2 133.1h0M322.0 146.3h0M324.6 145.5h0M319.4 136.7h0M323.7 147.7h0M322.8 148.6h0M323.3 143.8h0M317.0 150.0h0M313.5 141.8h0M314.1 146.9h0M321.6 135.3h0M313.4 146.6h0M318.0 134.6h0M321.9 127.7h0M319.7 153.1h0M317.9 148.9h0M318.7 138.0h0M314.0 147.1h0M321.5 134.1h0M316.8 148.1h0M320.7 142.9h0M318.1 130.8h0M315.0 129.3h0M320.7 131.9h0M318.2 137.6h0M317.1 126.2h0M319.8 148.8h0M320.6 134.5h0M316.4 131.8h0M313.2 144.4h0M319.1 142.7h0M312.5 125.3h0M313.3 137.9h0M317.3 145.2h0M315.4 150.7h0M322.5 148.3h0M324.4 146.6h0M315.7 144.8h0M322.9 147.1h0M322.5 143.2h0M320.1 129.4h0M322.7 142.9h0M316.2 131.7h0M316.5 155.5h0M315.6 149.7h0M321.9 140.3h0M317.5 128.1h0M323.4 142.9h0M318.5 138.4h0M314.4 132.0h0M314.3 140.9h0M327.4 152.0h0M316.7 139.3h0M317.9 153.9h0M317.5 136.9h0M323.5 124.8h0M320.3 153.3h0M321.3 148.6h0M317.7 142.5h0M319.7 139.5h0M313.4 136.7h0M320.2 151.3h0M321.0 144.8h0M318.3 146.9h0M315.6 141.4h0M314.5 135.4h0M321.0 136.4h0M318.2 150.8h0M320.9 140.3h0M319.0 132.6h0M320.3 142.3h0M319.1 134.2h0M322.5 136.5h0M314.6 142.4h0M318.1 150.8h0M315.7 146.0h0M317.3 139.8h0M314.8 140.0h0M320.5 143.6h0M317.7 144.2h0M312.4 140.5h0M323.0 146.3h0M322.4 134.6h0M313.5 133.4h0M316.0 140.9h0M316.5 142.4h0M316.5 140.2h0M321.3 143.1h0M321.9 144.0h0M321.6 141.5h0M317.9 137.6h0M317.3 149.5h0M315.8 152.2h0M315.3 141.1h0M324.4 146.1h0M311.3 145.4h0M321.4 146.6h0M319.8 123.4h0M317.5 143.7h0M323.1 143.3h0M322.1 136.5h0M320.8 136.3h0M321.1 134.1h0M314.6 144.3h0M318.6 135.5h0M325.7 141.0h0M320.3 151.0h0M320.3 129.6h0M311.1 128.2h0M314.7 133.8h0M320.1 139.7h0M325.7 132.1h0M312.4 146.8h0M323.7 134.7h0M319.8 138.7h0M316.4 145.0h0M321.4 129.7h0M317.5 141.8h0M319.6 143.7h0M312.4 145.4h0M316.0 129.4h0M315.0 132.8h0M324.9 135.6h0M315.7 145.6h0M309.2 141.2h0M318.8 131.9h0M316.1 154.6h0M319.1 146.5h0M322.8 139.6h0M316.3 149.7h0M309.1 150.6h0M328.4 152.0h0M314.6 132.7h0M318.9 139.9h0M316.7 128.9h0M319.7 143.6h0M315.3 151.6h0M314.1 139.4h0M322.5 149.6h0M315.9 138.7h0M315.8 129.4h0M322.3 141.2h0M313.7 121.9h0M318.6 143.8h0M320.7 148.4h0M320.8 146.8h0M317.4 149.1h0M315.6 154.8h0M310.5 135.1h0M310.3 142.0h0M316.9 145.8h0M321.9 145.3h0M310.5 141.1h0M320.1 148.1h0M318.2 137.6h0M314.6 138.1h0M320.2 153.9h0M317.1 137.5h0M315.6 143.8h0M309.7 131.0h0M324.2 139.4h0M325.8 137.0h0M316.1 138.6h0M314.2 141.4h0M311.8 144.6h0M317.1 133.4h0M319.6 130.5h0M315.7 143.9h0M317.5 143.5h0M318.9 154.9h0M316.9 141.3h0M315.4 142.9h0M318.2 155.8h0M318.7 133.9h0M317.6 150.7h0M314.2 142.7h0M316.6 144.4h0M317.9 140.4h0M321.6 132.4h0M312.7 149.3h0M314.7 131.4h0M312.2 143.3h0M314.4 143.8h0M314.4 135.8h0M320.7 146.3h0M323.2 145.1h0M317.3 146.4h0M327.8 152.4h0M324.8 144.6h0M323.3 150.0h0M327.7 145.5h0M319.9 149.8h0M318.0 148.6h0M330.6 148.8h0M329.8 146.9h0M313.2 144.2h0M324.1 149.4h0M322.4 146.0h0M317.9 144.7h0M321.6 154.0h0M319.1 147.3h0M317.6 141.8h0M309.4 146.0h0M320.7 149.0h0M333.2 148.6h0M335.5 145.3h0M316.9 146.6h0M323.9 150.6h0M322.5 146.8h0M328.0 146.7h0M327.6 148.8h0M325.6 152.2h0M321.2 147.6h0M322.9 144.4h0M319.6 149.0h0M326.9 149.4h0M328.0 147.3h0M317.3 145.9h0M316.2 147.6h0M328.9 149.5h0M328.4 151.2h0M318.5 140.8h0M327.4 146.6h0M317.5 144.4h0M322.7 152.8h0M310.8 146.4h0M328.3 148.6h0M317.5 150.3h0M326.3 144.6h0M327.6 149.5h0M322.8 153.3h0M316.0 144.9h0M323.8 146.3h0M308.8 149.8h0M325.5 149.7h0M327.4 145.3h0M328.2 147.8h0M322.6 149.7h0M327.8 150.2h0M323.2 150.1h0M327.0 147.8h0M324.9 152.5h0M322.3 148.7h0M319.1 146.4h0M321.7 148.5h0M318.2 149.3h0M321.3 151.4h0M323.9 147.5h0M329.8 146.0h0M319.9 145.2h0M321.7 139.6h0M321.2 148.5h0M317.6 145.7h0M327.4 149.2h0M327.5 148.5h0M324.8 142.7h0M312.8 149.1h0M323.7 148.6h0M321.5 150.8h0M321.7 143.9h0M327.6 151.4h0M319.8 149.3h0M322.0 145.7h0M319.7 148.5h0M323.6 147.8h0M320.2 148.5h0M323.2 148.5h0M320.2 149.0h0M331.7 149.0h0M322.2 150.1h0M318.4 153.1h0M320.9 153.6h0M318.7 146.3h0M322.9 151.8h0M324.8 149.7h0M320.0 142.8h0M316.7 151.8h0M316.8 149.1h0M314.2 146.5h0M338.9 146.3h0M326.3 142.9h0M320.6 144.1h0M314.5 149.2h0M328.9 152.9h0M319.5 147.6h0M324.1 149.9h0M328.2 146.8h0M319.3 148.9h0M328.6 147.2h0M321.4 147.5h0M328.5 145.7h0M325.7 151.1h0M324.5 151.7h0M322.8 148.2h0M322.1 146.4h0M328.6 143.3h0M317.1 148.0h0M318.7 144.9h0M322.5 147.3h0M327.4 147.4h0M321.0 148.4h0M320.1 150.7h0M319.0 154.2h0M323.2 148.4h0M320.7 148.5h0" stroke="#e2383c" stroke-width="0.68" stroke-linecap="round" stroke-opacity="0.3"/>
<ellipse cx="314.20" cy="147.50" rx="1.80" ry="6.20" fill="#e2383c" fill-opacity="1.0" filter="url(#b05)"/>
<ellipse cx="316.00" cy="147.50" rx="3.50" ry="4.50" fill="#e2383c" fill-opacity="0.55" filter="url(#b06)"/>
<ellipse cx="319.40" cy="147.50" rx="3.60" ry="3.50" fill="#27b2e6" fill-opacity="1.0" filter="url(#b05)"/>
<text transform="translate(302.80,135.30) rotate(-90)" font-size="11.71" fill="#333" text-anchor="middle" textLength="18.60" lengthAdjust="spacingAndGlyphs" >TIM3</text>
<text x="319.80" y="168.50" font-size="11.57" fill="#333" text-anchor="start" textLength="16.20" lengthAdjust="spacingAndGlyphs" >PD1</text>
<rect x="371.40" y="108.40" width="49.00" height="48.50" fill="none" stroke="#9c9c9c" stroke-width="1.3" rx="0.8"/>
<line x1="371.10" y1="119.07" x2="372.00" y2="119.07" stroke="#444" stroke-width="0.9" />
<line x1="371.10" y1="123.92" x2="372.00" y2="123.92" stroke="#444" stroke-width="0.9" />
<line x1="371.10" y1="128.77" x2="372.00" y2="128.77" stroke="#444" stroke-width="0.9" />
<line x1="371.10" y1="133.62" x2="372.00" y2="133.62" stroke="#444" stroke-width="0.9" />
<line x1="371.10" y1="138.47" x2="372.00" y2="138.47" stroke="#444" stroke-width="0.9" />
<line x1="371.10" y1="143.32" x2="372.00" y2="143.32" stroke="#444" stroke-width="0.9" />
<line x1="371.10" y1="148.17" x2="372.00" y2="148.17" stroke="#444" stroke-width="0.9" />
<line x1="371.10" y1="153.02" x2="372.00" y2="153.02" stroke="#444" stroke-width="0.9" />
<line x1="374.34" y1="156.40" x2="374.34" y2="157.20" stroke="#555" stroke-width="0.8" />
<line x1="379.00" y1="156.40" x2="379.00" y2="157.20" stroke="#555" stroke-width="0.8" />
<line x1="383.65" y1="156.40" x2="383.65" y2="157.20" stroke="#555" stroke-width="0.8" />
<line x1="388.30" y1="156.40" x2="388.30" y2="157.20" stroke="#555" stroke-width="0.8" />
<line x1="392.96" y1="156.40" x2="392.96" y2="157.20" stroke="#555" stroke-width="0.8" />
<line x1="397.61" y1="156.40" x2="397.61" y2="157.20" stroke="#555" stroke-width="0.8" />
<line x1="402.27" y1="156.40" x2="402.27" y2="157.20" stroke="#555" stroke-width="0.8" />
<line x1="406.92" y1="156.40" x2="406.92" y2="157.20" stroke="#555" stroke-width="0.8" />
<line x1="411.58" y1="156.40" x2="411.58" y2="157.20" stroke="#555" stroke-width="0.8" />
<line x1="416.23" y1="156.40" x2="416.23" y2="157.20" stroke="#555" stroke-width="0.8" />
<rect x="377.28" y="156.70" width="3.50" height="1.00" fill="#555" />
<path d="M392.1 148.7h0M396.1 147.0h0M396.6 148.0h0M389.6 148.0h0M396.3 147.4h0M392.4 145.6h0M402.6 148.1h0M398.3 149.0h0M392.5 148.7h0M395.2 145.6h0M391.6 146.8h0M397.2 145.7h0M393.9 150.4h0M399.8 148.9h0M400.1 145.8h0M394.6 147.5h0M391.9 146.2h0M398.5 148.0h0M400.4 147.0h0M399.0 148.7h0M393.1 148.2h0M390.5 148.6h0M398.0 148.9h0M386.4 147.0h0M396.6 147.1h0M395.2 148.3h0M393.2 146.5h0M396.2 148.5h0M398.1 147.1h0M391.8 145.8h0M392.5 148.6h0M397.5 149.0h0M397.6 147.4h0M397.9 148.0h0M396.9 146.6h0M397.3 145.4h0M396.7 148.6h0M394.9 148.5h0M393.9 147.0h0M393.3 147.2h0" stroke="#27b2e6" stroke-width="0.68" stroke-linecap="round" stroke-opacity="0.5"/>
<path d="M385.6 149.7h0M383.0 147.6h0M387.3 148.8h0M388.9 149.3h0M386.2 149.8h0M384.9 146.0h0M386.9 146.7h0M386.8 146.3h0M387.4 150.3h0M386.5 147.0h0M386.5 149.8h0M386.9 152.3h0M388.2 145.8h0M380.4 146.1h0M388.7 152.1h0M384.8 148.3h0M384.7 143.8h0M389.8 148.8h0M385.2 142.1h0M388.3 142.0h0M385.1 143.1h0M383.9 145.9h0M387.2 150.4h0M388.4 147.0h0M388.8 140.9h0M386.5 149.0h0M386.5 145.7h0M383.8 143.3h0M387.1 149.4h0M385.8 147.5h0M382.7 144.4h0M387.0 144.0h0M388.3 145.6h0M389.7 145.1h0M386.5 144.3h0M387.2 145.4h0M388.8 148.0h0M389.5 148.3h0M386.4 147.4h0M389.2 143.5h0M389.9 144.2h0M388.4 147.6h0M391.2 146.4h0M387.3 150.4h0M388.2 149.5h0M387.2 148.4h0M383.6 143.2h0M386.9 146.9h0M384.3 145.4h0M384.7 142.2h0M386.4 145.5h0M382.5 148.7h0M384.1 144.0h0M386.3 145.8h0M384.6 145.7h0M384.4 146.1h0M383.7 150.0h0M385.1 151.7h0M386.9 151.0h0M385.6 147.5h0M386.1 153.4h0M382.7 146.8h0M389.1 142.5h0M380.2 151.5h0M385.0 146.8h0M382.6 149.3h0M387.4 148.3h0M388.2 147.4h0M384.1 147.6h0M386.6 143.8h0M388.8 149.8h0M389.6 146.9h0M382.5 143.3h0M386.9 149.1h0M388.8 148.0h0M383.9 146.2h0M385.8 144.6h0M385.3 146.3h0M386.8 143.7h0M387.4 145.7h0" stroke="#e2383c" stroke-width="0.68" stroke-linecap="round" stroke-opacity="0.5"/>
<path d="M398.2 146.8h0M401.1 149.3h0M403.3 150.3h0M393.7 146.7h0M404.1 152.8h0M404.0 150.7h0M403.2 150.3h0M398.7 150.0h0M398.1 148.6h0M409.0 144.9h0M405.3 146.4h0M399.2 147.8h0M410.5 151.1h0M405.9 147.3h0M403.1 149.7h0M403.5 148.9h0M400.1 151.9h0M399.5 151.8h0M408.5 145.7h0M401.7 149.0h0M400.6 147.9h0M406.5 150.1h0M400.8 145.0h0M407.3 149.0h0M397.4 148.1h0M408.3 147.6h0M407.2 141.2h0M402.1 152.1h0M403.0 147.0h0M400.7 150.9h0M400.5 148.8h0M405.0 143.9h0M402.2 145.6h0M406.5 146.3h0M405.9 145.6h0M401.3 148.7h0M407.7 145.2h0M403.9 152.9h0M399.7 152.2h0M403.8 149.5h0M405.0 148.0h0M400.4 146.4h0M400.5 150.6h0M397.4 146.1h0M405.0 147.2h0M402.7 152.0h0M409.1 147.1h0M404.2 146.8h0M398.6 146.8h0M405.1 148.9h0M404.3 145.8h0M408.2 143.7h0M410.2 148.7h0M397.9 146.9h0M409.0 147.6h0M402.7 147.5h0M409.4 147.1h0M403.8 148.4h0M406.4 148.6h0M404.9 148.5h0M398.7 147.7h0M407.7 152.1h0M398.9 148.6h0M398.0 152.9h0M408.7 145.8h0M403.2 146.0h0M400.5 154.5h0M401.5 145.1h0M404.6 149.6h0M404.7 145.3h0M401.0 149.6h0M402.9 147.6h0M409.2 149.0h0M400.0 148.3h0M400.7 146.8h0M408.2 151.9h0M407.9 150.0h0M404.1 146.0h0M399.2 151.7h0M402.9 140.8h0M407.4 149.5h0M402.1 149.1h0M405.2 147.0h0M412.2 149.3h0M400.6 146.8h0M409.2 144.9h0M401.0 146.9h0M395.8 142.5h0M400.6 145.5h0M402.8 148.3h0M395.4 149.8h0M404.2 144.5h0M404.7 145.1h0M398.4 146.8h0M400.4 144.5h0M401.5 150.3h0M399.6 150.4h0M401.3 143.8h0M410.3 149.6h0M409.8 148.2h0M408.2 146.0h0M407.6 153.3h0M402.5 146.4h0M404.7 149.6h0M401.1 149.3h0M405.4 150.9h0M403.5 148.4h0M398.8 150.0h0M408.9 149.9h0M408.5 148.2h0M407.5 149.3h0M407.1 146.0h0M411.3 150.9h0M400.9 147.9h0M411.8 143.9h0M403.8 145.9h0M409.4 146.6h0M402.8 148.8h0M404.7 145.5h0M396.7 151.7h0M397.6 148.1h0M413.7 148.2h0M402.6 140.4h0M401.1 152.5h0M409.3 155.2h0M401.1 152.3h0M395.6 145.4h0M394.7 147.0h0M396.8 147.6h0M411.1 145.5h0M410.4 147.4h0M402.0 149.3h0M404.8 149.4h0M400.8 146.6h0M412.2 150.2h0M406.9 148.6h0M406.7 147.5h0M398.2 146.6h0M407.3 145.1h0M407.4 149.0h0M407.7 151.6h0M403.6 151.8h0M397.3 148.3h0M410.1 152.3h0M402.4 146.5h0M404.6 145.2h0M404.8 148.6h0M410.4 147.5h0M397.6 150.2h0M399.6 149.9h0M410.8 154.8h0M405.3 151.9h0M403.8 146.8h0M402.7 145.2h0M400.0 151.0h0M403.0 154.6h0M398.4 145.1h0M407.2 145.2h0M408.7 149.2h0M405.1 143.2h0" stroke="#27b2e6" stroke-width="0.68" stroke-linecap="round" stroke-opacity="0.5"/>
<ellipse cx="386.70" cy="147.10" rx="3.10" ry="3.20" fill="#d23a40" fill-opacity="1.0" filter="url(#b05)"/>
<ellipse cx="403.50" cy="148.00" rx="6.00" ry="3.90" fill="#27b2e6" fill-opacity="1.0" filter="url(#b05)"/>
<text transform="translate(368.40,135.40) rotate(-90)" font-size="11.71" fill="#333" text-anchor="middle" textLength="16.80" lengthAdjust="spacingAndGlyphs" >FASL</text>
<text x="379.00" y="168.50" font-size="11.57" fill="#333" text-anchor="start" textLength="22.20" lengthAdjust="spacingAndGlyphs" >GZMB</text></svg></body></html>
